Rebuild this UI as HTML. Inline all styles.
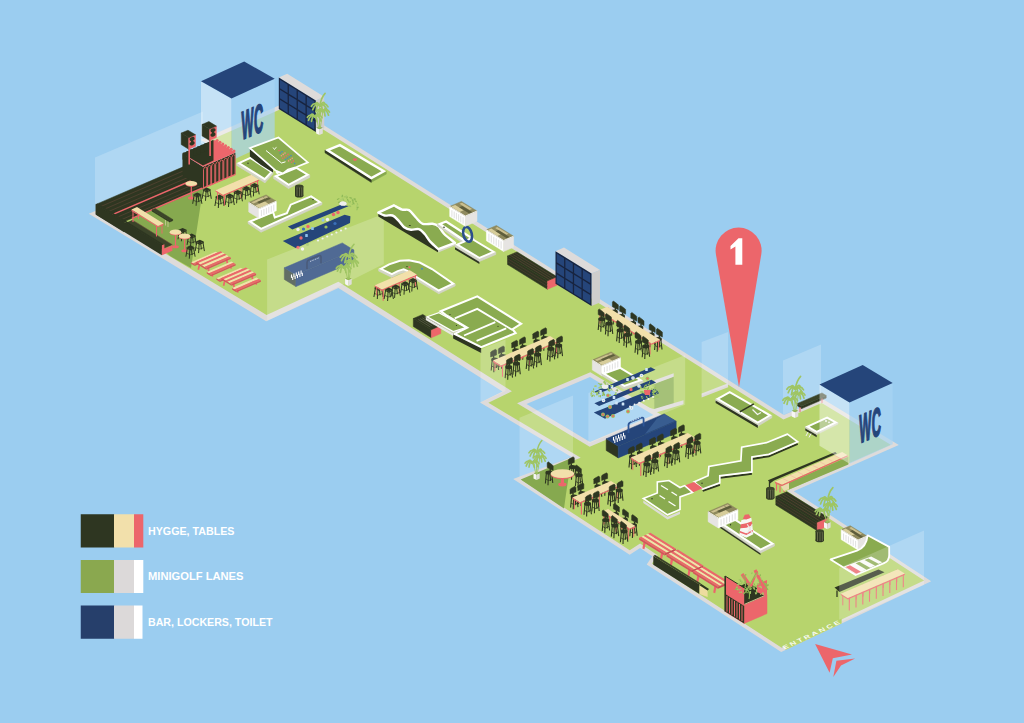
<!DOCTYPE html>
<html><head><meta charset="utf-8"><title>Minigolf venue map</title>
<style>
html,body{margin:0;padding:0;background:#9bcdf0;}
body{width:1024px;height:723px;overflow:hidden;font-family:"Liberation Sans",sans-serif;}
svg{display:block;}
</style></head><body>
<svg width="1024" height="723" viewBox="0 0 1024 723">
<rect width="1024" height="723" fill="#9bcdf0"/>
<polygon points="88.8,213.8 225.0,155.0 200.7,140.0 287.0,102.0 783.8,415.0 822.0,398.5 898.8,445.0 793.8,491.2 931.2,581.2 781.2,652.0 646.7,564.5 652.3,556.2 640.1,548.1 629.7,554.7 513.2,479.1 571.5,457.0 480.0,402.5 502.5,391.4 338.4,288.0 266.2,321.2" fill="#dedbda" />
<polygon points="99.3,213.6 233.6,155.6 209.3,140.6 286.7,106.5 783.4,419.5 821.7,403.0 890.7,444.8 786.6,490.7 924.1,580.6 781.7,647.8 652.0,563.4 657.6,555.2 640.1,543.6 629.7,550.2 521.8,480.1 580.7,457.8 488.4,402.8 511.9,391.2 338.4,281.8 266.6,314.9" fill="#b7d46d" />
<polygon points="526.5,404.0 590.0,377.0 653.5,415.0 590.0,442.0" fill="#9bcdf0" stroke="#dedbda" stroke-width="8.6" paint-order="stroke" stroke-linejoin="miter"/>
<polygon points="131.0,217.5 203.0,186.5 200.4,206.0 196.0,235.0 191.0,268.0 170.0,256.0 160.0,246.0" fill="#86a94f" />
<polygon points="95.0,213.0 203.0,166.5 203.0,111.5 95.0,157.5" fill="#ffffff" fill-opacity="0.2"/>
<polygon points="201.0,143.2 231.5,160.4 231.5,98.4 201.0,81.2" fill="#ffffff" fill-opacity="0.42"/>
<polygon points="231.5,160.4 274.7,140.8 274.7,78.8 231.5,98.4" fill="#a8d4f3" fill-opacity="0.68"/>
<polygon points="201.0,81.2 231.5,98.4 274.7,78.8 244.2,61.5" fill="#25457a" />
<text transform="matrix(0.32,-0.138,0,1,241.5,140.0)" font-family="Liberation Sans, sans-serif" font-weight="bold" font-size="40" fill="#25457a" stroke="#25457a" stroke-width="1.3" vector-effect="non-scaling-stroke" letter-spacing="1">WC</text>
<polygon points="278.8,77.5 315.8,100.4 324.2,96.8 287.2,73.8" fill="#dedbda" />
<polygon points="315.8,131.9 324.2,128.3 324.2,96.8 315.8,100.4" fill="#cfcecc" />
<polygon points="278.8,109.0 315.8,131.9 315.8,100.4 278.8,77.5" fill="#18243f" />
<polygon points="279.9,108.1 287.6,112.9 287.6,104.5 279.9,99.8" fill="#25457a" />
<polygon points="279.9,98.2 287.6,102.9 287.6,94.6 279.9,89.8" fill="#25457a" />
<polygon points="279.9,88.2 287.6,93.0 287.6,84.6 279.9,79.8" fill="#25457a" />
<polygon points="288.9,113.7 296.6,118.4 296.6,110.1 288.9,105.3" fill="#25457a" />
<polygon points="288.9,103.7 296.6,108.5 296.6,100.1 288.9,95.4" fill="#25457a" />
<polygon points="288.9,93.8 296.6,98.5 296.6,90.1 288.9,85.4" fill="#25457a" />
<polygon points="297.9,119.2 305.5,124.0 305.5,115.6 297.9,110.9" fill="#25457a" />
<polygon points="297.9,109.3 305.5,114.0 305.5,105.7 297.9,100.9" fill="#25457a" />
<polygon points="297.9,99.3 305.5,104.1 305.5,95.7 297.9,90.9" fill="#25457a" />
<polygon points="306.8,124.8 314.4,129.5 314.4,121.2 306.8,116.4" fill="#25457a" />
<polygon points="306.8,114.8 314.4,119.6 314.4,111.2 306.8,106.5" fill="#25457a" />
<polygon points="306.8,104.9 314.4,109.6 314.4,101.2 306.8,96.5" fill="#25457a" />
<polygon points="316.2,127.8 319.5,129.2 319.5,135.0 316.2,133.4" fill="#f6f6f4" />
<polygon points="319.5,129.2 322.8,127.8 322.8,133.4 319.5,135.0" fill="#dfdeda" />
<polygon points="316.2,127.8 319.5,126.4 322.8,127.8 319.5,129.2" fill="#8aab50" />
<path d="M319.5 128.0 Q319.0 116.0 319.9 105.9" fill="none" stroke="#9fc563" stroke-width="1.0" stroke-linecap="round"/>
<path d="M320.3 128.0 Q321.7 119.0 322.9 111.4" fill="none" stroke="#9fc563" stroke-width="0.9" stroke-linecap="round"/>
<path d="M318.7 128.0 Q318.0 122.0 314.9 116.9" fill="none" stroke="#9fc563" stroke-width="0.9" stroke-linecap="round"/>
<path d="M319.9 105.9 Q314.4 101.3 311.4 106.3" fill="none" stroke="#9fc563" stroke-width="1.7" stroke-linecap="round"/>
<path d="M319.9 105.9 Q315.2 102.0 312.7 109.7" fill="none" stroke="#9fc563" stroke-width="1.7" stroke-linecap="round"/>
<path d="M319.9 105.9 Q317.1 100.8 315.6 103.8" fill="none" stroke="#9fc563" stroke-width="1.7" stroke-linecap="round"/>
<path d="M319.9 105.9 Q322.9 100.7 324.6 103.4" fill="none" stroke="#9fc563" stroke-width="1.7" stroke-linecap="round"/>
<path d="M319.9 105.9 Q325.1 101.4 328.0 106.8" fill="none" stroke="#9fc563" stroke-width="1.7" stroke-linecap="round"/>
<path d="M319.9 105.9 Q324.3 102.2 326.7 110.6" fill="none" stroke="#9fc563" stroke-width="1.7" stroke-linecap="round"/>
<path d="M319.9 105.9 Q317.4 102.2 316.1 111.0" fill="none" stroke="#9fc563" stroke-width="1.7" stroke-linecap="round"/>
<path d="M319.9 105.9 Q321.6 102.3 322.4 111.4" fill="none" stroke="#9fc563" stroke-width="1.7" stroke-linecap="round"/>
<path d="M319.9 105.9 Q320.9 97.9 325.1 93.4" fill="none" stroke="#9fc563" stroke-width="1.6" stroke-linecap="round"/>
<path d="M322.9 111.4 Q318.3 107.6 315.9 111.8" fill="none" stroke="#9fc563" stroke-width="1.7" stroke-linecap="round"/>
<path d="M322.9 111.4 Q319.0 108.2 316.9 114.6" fill="none" stroke="#9fc563" stroke-width="1.7" stroke-linecap="round"/>
<path d="M322.9 111.4 Q320.6 107.2 319.4 109.7" fill="none" stroke="#9fc563" stroke-width="1.7" stroke-linecap="round"/>
<path d="M322.9 111.4 Q325.4 107.1 326.8 109.3" fill="none" stroke="#9fc563" stroke-width="1.7" stroke-linecap="round"/>
<path d="M322.9 111.4 Q327.2 107.7 329.5 112.1" fill="none" stroke="#9fc563" stroke-width="1.7" stroke-linecap="round"/>
<path d="M322.9 111.4 Q326.5 108.3 328.5 115.2" fill="none" stroke="#9fc563" stroke-width="1.7" stroke-linecap="round"/>
<path d="M322.9 111.4 Q320.9 108.4 319.8 115.6" fill="none" stroke="#9fc563" stroke-width="1.7" stroke-linecap="round"/>
<path d="M322.9 111.4 Q324.3 108.5 325.0 116.0" fill="none" stroke="#9fc563" stroke-width="1.7" stroke-linecap="round"/>
<path d="M314.9 116.9 Q310.0 112.9 307.4 117.3" fill="none" stroke="#9fc563" stroke-width="1.7" stroke-linecap="round"/>
<path d="M314.9 116.9 Q310.8 113.5 308.5 120.3" fill="none" stroke="#9fc563" stroke-width="1.7" stroke-linecap="round"/>
<path d="M314.9 116.9 Q312.5 112.4 311.1 115.0" fill="none" stroke="#9fc563" stroke-width="1.7" stroke-linecap="round"/>
<path d="M314.9 116.9 Q317.6 112.3 319.0 114.7" fill="none" stroke="#9fc563" stroke-width="1.7" stroke-linecap="round"/>
<path d="M314.9 116.9 Q319.5 112.9 322.0 117.7" fill="none" stroke="#9fc563" stroke-width="1.7" stroke-linecap="round"/>
<path d="M314.9 116.9 Q318.8 113.6 320.9 121.0" fill="none" stroke="#9fc563" stroke-width="1.7" stroke-linecap="round"/>
<path d="M314.9 116.9 Q312.7 113.7 311.5 121.4" fill="none" stroke="#9fc563" stroke-width="1.7" stroke-linecap="round"/>
<path d="M314.9 116.9 Q316.4 113.8 317.1 121.8" fill="none" stroke="#9fc563" stroke-width="1.7" stroke-linecap="round"/>
<polygon points="95.9,214.4 123.9,231.8 123.9,221.8 95.9,204.4" fill="#2e3621" stroke="#2e3621" stroke-width="0.5" stroke-linejoin="round"/>
<polygon points="95.9,204.4 123.9,221.8 219.9,180.5 191.9,163.1" fill="#2e3621" stroke="#2e3621" stroke-width="0.5" stroke-linejoin="round"/>
<polyline points="99.9,206.9 195.1,165.9" fill="none" stroke="#6b4a3d" stroke-width="0.5" />
<polyline points="103.9,209.4 198.3,168.8" fill="none" stroke="#6b4a3d" stroke-width="0.5" />
<polyline points="107.9,211.8 201.5,171.6" fill="none" stroke="#6b4a3d" stroke-width="0.5" />
<polyline points="112.4,214.6 205.1,174.8" fill="none" stroke="#ec666b" stroke-width="1.5" />
<polyline points="116.9,217.4 208.7,177.9" fill="none" stroke="#6b4a3d" stroke-width="0.5" />
<polyline points="120.9,219.9 211.9,180.8" fill="none" stroke="#6b4a3d" stroke-width="0.5" />
<polyline points="131.9,218.3 227.9,177.0" fill="none" stroke="#ec666b" stroke-width="1.4" />
<polygon points="121.9,224.5 161.9,249.3 172.4,244.8 132.4,220.0" fill="#3b4429" />
<polyline points="132.4,220.0 172.4,244.8" fill="none" stroke="#6b4a3d" stroke-width="0.6" />
<polygon points="95.9,214.4 161.9,255.3 161.9,245.3 95.9,204.4" fill="#2e3621" />
<polygon points="95.9,204.4 161.9,245.3 163.9,244.5 97.9,203.5" fill="#2e3621" />
<polygon points="161.9,255.3 172.4,250.8 172.4,245.3 164.4,248.7 164.4,244.2 161.9,245.3" fill="#ec666b" />
<polygon points="182.5,175.5 203.0,188.2 203.0,166.7 182.5,154.0" fill="#2e3621" />
<polygon points="203.0,188.2 235.4,174.3 235.4,152.8 203.0,166.7" fill="#2e3621" />
<polygon points="182.5,154.0 203.0,166.7 235.4,152.8 214.9,140.1" fill="#ec666b" />
<polygon points="182.5,153.6 213.5,139.8 213.5,160.6 203.0,165.6" fill="#2e3621" />
<rect x="182.5" y="152.4" width="3.8" height="8" rx="1.4" fill="#2e3621"/>
<rect x="186.1" y="150.9" width="3.8" height="8" rx="1.4" fill="#2e3621"/>
<rect x="189.6" y="149.3" width="3.8" height="8" rx="1.4" fill="#2e3621"/>
<rect x="193.2" y="147.8" width="3.8" height="8" rx="1.4" fill="#2e3621"/>
<rect x="196.8" y="146.3" width="3.8" height="8" rx="1.4" fill="#2e3621"/>
<rect x="200.4" y="144.7" width="3.8" height="8" rx="1.4" fill="#2e3621"/>
<rect x="203.9" y="143.2" width="3.8" height="8" rx="1.4" fill="#2e3621"/>
<circle cx="217.2" cy="140.6" r="1.5" fill="#ec666b"/>
<circle cx="220.0" cy="142.3" r="1.5" fill="#ec666b"/>
<circle cx="222.8" cy="144.1" r="1.5" fill="#ec666b"/>
<circle cx="225.6" cy="145.8" r="1.5" fill="#ec666b"/>
<circle cx="228.4" cy="147.5" r="1.5" fill="#ec666b"/>
<circle cx="231.2" cy="149.3" r="1.5" fill="#ec666b"/>
<circle cx="234.0" cy="151.0" r="1.5" fill="#ec666b"/>
<path d="M203.5 188.0 L203.5 169.5 Q205.1 165.0 206.8 168.1 L206.8 186.6" fill="none" stroke="#ec666b" stroke-width="0.9"/>
<path d="M207.6 186.3 L207.6 167.8 Q209.2 163.3 210.8 166.4 L210.8 184.9" fill="none" stroke="#ec666b" stroke-width="0.9"/>
<path d="M211.6 184.5 L211.6 166.0 Q213.2 161.5 214.8 164.6 L214.8 183.1" fill="none" stroke="#ec666b" stroke-width="0.9"/>
<path d="M215.7 182.8 L215.7 164.3 Q217.3 159.8 218.9 162.9 L218.9 181.4" fill="none" stroke="#ec666b" stroke-width="0.9"/>
<path d="M219.7 181.0 L219.7 162.5 Q221.3 158.0 222.9 161.1 L222.9 179.6" fill="none" stroke="#ec666b" stroke-width="0.9"/>
<path d="M223.8 179.3 L223.8 160.8 Q225.4 156.3 227.0 159.4 L227.0 177.9" fill="none" stroke="#ec666b" stroke-width="0.9"/>
<path d="M227.8 177.5 L227.8 159.0 Q229.4 154.5 231.1 157.6 L231.1 176.1" fill="none" stroke="#ec666b" stroke-width="0.9"/>
<path d="M231.8 175.8 L231.8 157.3 Q233.5 152.8 235.1 155.9 L235.1 174.4" fill="none" stroke="#ec666b" stroke-width="0.9"/>
<polyline points="203.0,188.2 235.4,174.3" fill="none" stroke="#ec666b" stroke-width="1.4" />
<polyline points="189.2,146.6 189.2,164.6" fill="none" stroke="#ec666b" stroke-width="1.6" />
<polygon points="181.2,144.6 188.7,149.2 188.7,137.8 181.2,133.1" fill="#2e3621" stroke="#2e3621" stroke-width="0.5" stroke-linejoin="round"/>
<polygon points="188.7,149.2 195.5,146.3 195.5,134.8 188.7,137.8" fill="#ec666b" stroke="#ec666b" stroke-width="0.5" stroke-linejoin="round"/>
<polygon points="181.2,133.1 188.7,137.8 195.5,134.8 188.0,130.2" fill="#2e3621" stroke="#2e3621" stroke-width="0.5" stroke-linejoin="round"/>
<ellipse cx="192.1" cy="139.0" rx="2.7" ry="1.9" fill="#2e3621" transform="rotate(-23 192.1 139.0)"/>
<ellipse cx="192.1" cy="143.4" rx="2.7" ry="1.9" fill="#2e3621" transform="rotate(-23 192.1 143.4)"/>
<polyline points="192.1,139.0 192.1,143.4" fill="none" stroke="#2e3621" stroke-width="2.2" />
<polyline points="210.1,137.9 210.1,155.9" fill="none" stroke="#ec666b" stroke-width="1.6" />
<polygon points="202.1,135.9 209.6,140.6 209.6,129.1 202.1,124.4" fill="#2e3621" stroke="#2e3621" stroke-width="0.5" stroke-linejoin="round"/>
<polygon points="209.6,140.6 216.4,137.6 216.4,126.1 209.6,129.1" fill="#ec666b" stroke="#ec666b" stroke-width="0.5" stroke-linejoin="round"/>
<polygon points="202.1,124.4 209.6,129.1 216.4,126.1 208.9,121.5" fill="#2e3621" stroke="#2e3621" stroke-width="0.5" stroke-linejoin="round"/>
<ellipse cx="213.0" cy="130.3" rx="2.7" ry="1.9" fill="#2e3621" transform="rotate(-23 213.0 130.3)"/>
<ellipse cx="213.0" cy="134.7" rx="2.7" ry="1.9" fill="#2e3621" transform="rotate(-23 213.0 134.7)"/>
<polyline points="213.0,130.3 213.0,134.7" fill="none" stroke="#2e3621" stroke-width="2.2" />
<polygon points="152.0,211.2 169.5,222.0 169.5,220.7 152.0,209.9" fill="#2e3621" stroke="#2e3621" stroke-width="0.5" stroke-linejoin="round"/>
<polygon points="169.5,222.0 172.7,220.7 172.7,219.4 169.5,220.7" fill="#2e3621" stroke="#2e3621" stroke-width="0.5" stroke-linejoin="round"/>
<polygon points="152.0,209.9 169.5,220.7 172.7,219.4 155.2,208.5" fill="#3b4429" stroke="#3b4429" stroke-width="0.5" stroke-linejoin="round"/>
<polyline points="165.5,220.0 165.5,225.5" fill="none" stroke="#c9cf9b" stroke-width="0.8" />
<polyline points="168.0,221.5 168.0,227.0" fill="none" stroke="#c9cf9b" stroke-width="0.8" />
<polyline points="133.0,210.4 133.0,221.9" fill="none" stroke="#ec666b" stroke-width="1.1" />
<polyline points="138.5,208.1 138.5,219.1" fill="none" stroke="#ec666b" stroke-width="0.9" />
<polyline points="156.5,225.0 156.5,236.5" fill="none" stroke="#ec666b" stroke-width="1.1" />
<polyline points="162.0,222.6 162.0,233.6" fill="none" stroke="#ec666b" stroke-width="0.9" />
<polygon points="131.5,209.5 158.0,225.9 163.5,223.6 163.5,225.0 158.0,227.3 131.5,210.9" fill="#ec666b" />
<polygon points="131.5,209.5 158.0,225.9 163.5,223.6 137.0,207.1" fill="#f2e0ab" />
<polyline points="191.3,183.5 191.3,198.0" fill="none" stroke="#ec666b" stroke-width="1.2" />
<ellipse cx="191.3" cy="198.0" rx="3.3" ry="1.5" fill="#ec666b"/>
<ellipse cx="191.3" cy="184.2" rx="5.8" ry="2.7" fill="#ec666b"/>
<ellipse cx="191.3" cy="183.5" rx="5.8" ry="2.6" fill="#f2e0ab"/>
<polygon points="193.3,194.3 197.3,192.4 201.3,194.3 197.3,196.2" fill="#2e3621" />
<polygon points="193.3,194.3 197.3,196.2 201.3,194.3 201.3,195.6 197.3,197.5 193.3,195.6" fill="#2e3621" />
<polyline points="194.1,195.3 192.7,203.8" fill="none" stroke="#2e3621" stroke-width="1.0" />
<polyline points="200.5,195.3 201.9,203.8" fill="none" stroke="#2e3621" stroke-width="1.0" />
<polyline points="196.7,195.3 196.1,205.8" fill="none" stroke="#2e3621" stroke-width="1.0" />
<polyline points="198.1,195.3 198.9,202.1" fill="none" stroke="#2e3621" stroke-width="1.0" />
<polyline points="193.3,200.3 197.3,201.8 201.3,200.3" fill="none" stroke="#2e3621" stroke-width="0.7" />
<polygon points="202.7,189.3 206.7,187.4 210.7,189.3 206.7,191.2" fill="#2e3621" />
<polygon points="202.7,189.3 206.7,191.2 210.7,189.3 210.7,190.6 206.7,192.5 202.7,190.6" fill="#2e3621" />
<polyline points="203.5,190.3 202.1,198.8" fill="none" stroke="#2e3621" stroke-width="1.0" />
<polyline points="209.9,190.3 211.3,198.8" fill="none" stroke="#2e3621" stroke-width="1.0" />
<polyline points="206.1,190.3 205.5,200.8" fill="none" stroke="#2e3621" stroke-width="1.0" />
<polyline points="207.5,190.3 208.3,197.1" fill="none" stroke="#2e3621" stroke-width="1.0" />
<polyline points="202.7,195.3 206.7,196.8 210.7,195.3" fill="none" stroke="#2e3621" stroke-width="0.7" />
<polygon points="215.5,196.5 219.5,194.6 223.5,196.5 219.5,198.4" fill="#2e3621" />
<polygon points="215.5,196.5 219.5,198.4 223.5,196.5 223.5,197.8 219.5,199.7 215.5,197.8" fill="#2e3621" />
<polyline points="216.3,197.5 214.9,206.0" fill="none" stroke="#2e3621" stroke-width="1.0" />
<polyline points="222.7,197.5 224.1,206.0" fill="none" stroke="#2e3621" stroke-width="1.0" />
<polyline points="218.9,197.5 218.3,208.0" fill="none" stroke="#2e3621" stroke-width="1.0" />
<polyline points="220.3,197.5 221.1,204.3" fill="none" stroke="#2e3621" stroke-width="1.0" />
<polyline points="215.5,202.5 219.5,204.0 223.5,202.5" fill="none" stroke="#2e3621" stroke-width="0.7" />
<polyline points="224.5,194.2 224.5,205.7" fill="none" stroke="#ec666b" stroke-width="1.1" />
<polyline points="217.5,189.3 217.5,200.3" fill="none" stroke="#ec666b" stroke-width="0.9" />
<polyline points="241.0,187.1 241.0,198.6" fill="none" stroke="#ec666b" stroke-width="1.1" />
<polyline points="234.0,182.2 234.0,193.2" fill="none" stroke="#ec666b" stroke-width="0.9" />
<polyline points="257.5,180.0 257.5,191.5" fill="none" stroke="#ec666b" stroke-width="1.1" />
<polyline points="250.5,175.1 250.5,186.1" fill="none" stroke="#ec666b" stroke-width="0.9" />
<polygon points="215.5,190.2 223.0,194.8 259.0,179.4 259.0,180.8 223.0,196.2 215.5,191.6" fill="#ec666b" />
<polygon points="215.5,190.2 223.0,194.8 259.0,179.4 251.5,174.7" fill="#f2e0ab" />
<polygon points="225.7,195.5 229.7,193.6 233.7,195.5 229.7,197.4" fill="#2e3621" />
<polygon points="225.7,195.5 229.7,197.4 233.7,195.5 233.7,196.8 229.7,198.7 225.7,196.8" fill="#2e3621" />
<polyline points="226.5,196.5 225.1,205.0" fill="none" stroke="#2e3621" stroke-width="1.0" />
<polyline points="232.9,196.5 234.3,205.0" fill="none" stroke="#2e3621" stroke-width="1.0" />
<polyline points="229.1,196.5 228.5,207.0" fill="none" stroke="#2e3621" stroke-width="1.0" />
<polyline points="230.5,196.5 231.3,203.3" fill="none" stroke="#2e3621" stroke-width="1.0" />
<polyline points="225.7,201.5 229.7,203.0 233.7,201.5" fill="none" stroke="#2e3621" stroke-width="0.7" />
<polygon points="233.8,191.8 237.8,189.9 241.8,191.8 237.8,193.7" fill="#2e3621" />
<polygon points="233.8,191.8 237.8,193.7 241.8,191.8 241.8,193.1 237.8,195.0 233.8,193.1" fill="#2e3621" />
<polyline points="234.6,192.8 233.2,201.3" fill="none" stroke="#2e3621" stroke-width="1.0" />
<polyline points="241.0,192.8 242.4,201.3" fill="none" stroke="#2e3621" stroke-width="1.0" />
<polyline points="237.2,192.8 236.6,203.3" fill="none" stroke="#2e3621" stroke-width="1.0" />
<polyline points="238.6,192.8 239.4,199.6" fill="none" stroke="#2e3621" stroke-width="1.0" />
<polyline points="233.8,197.8 237.8,199.3 241.8,197.8" fill="none" stroke="#2e3621" stroke-width="0.7" />
<polygon points="242.5,188.0 246.5,186.1 250.5,188.0 246.5,189.9" fill="#2e3621" />
<polygon points="242.5,188.0 246.5,189.9 250.5,188.0 250.5,189.3 246.5,191.2 242.5,189.3" fill="#2e3621" />
<polyline points="243.3,189.0 241.9,197.5" fill="none" stroke="#2e3621" stroke-width="1.0" />
<polyline points="249.7,189.0 251.1,197.5" fill="none" stroke="#2e3621" stroke-width="1.0" />
<polyline points="245.9,189.0 245.3,199.5" fill="none" stroke="#2e3621" stroke-width="1.0" />
<polyline points="247.3,189.0 248.1,195.8" fill="none" stroke="#2e3621" stroke-width="1.0" />
<polyline points="242.5,194.0 246.5,195.5 250.5,194.0" fill="none" stroke="#2e3621" stroke-width="0.7" />
<polygon points="250.6,184.9 254.6,183.0 258.6,184.9 254.6,186.8" fill="#2e3621" />
<polygon points="250.6,184.9 254.6,186.8 258.6,184.9 258.6,186.2 254.6,188.1 250.6,186.2" fill="#2e3621" />
<polyline points="251.4,185.9 250.0,194.4" fill="none" stroke="#2e3621" stroke-width="1.0" />
<polyline points="257.8,185.9 259.2,194.4" fill="none" stroke="#2e3621" stroke-width="1.0" />
<polyline points="254.0,185.9 253.4,196.4" fill="none" stroke="#2e3621" stroke-width="1.0" />
<polyline points="255.4,185.9 256.2,192.7" fill="none" stroke="#2e3621" stroke-width="1.0" />
<polyline points="250.6,190.9 254.6,192.4 258.6,190.9" fill="none" stroke="#2e3621" stroke-width="0.7" />
<polygon points="178.6,229.8 182.6,227.9 186.6,229.8 182.6,231.7" fill="#2e3621" />
<polygon points="178.6,229.8 182.6,231.7 186.6,229.8 186.6,231.1 182.6,233.0 178.6,231.1" fill="#2e3621" />
<polyline points="179.4,230.8 178.0,239.3" fill="none" stroke="#2e3621" stroke-width="1.0" />
<polyline points="185.8,230.8 187.2,239.3" fill="none" stroke="#2e3621" stroke-width="1.0" />
<polyline points="182.0,230.8 181.4,241.3" fill="none" stroke="#2e3621" stroke-width="1.0" />
<polyline points="183.4,230.8 184.2,237.6" fill="none" stroke="#2e3621" stroke-width="1.0" />
<polyline points="178.6,235.8 182.6,237.3 186.6,235.8" fill="none" stroke="#2e3621" stroke-width="0.7" />
<polyline points="175.5,232.2 175.5,246.7" fill="none" stroke="#ec666b" stroke-width="1.2" />
<ellipse cx="175.5" cy="246.7" rx="3.3" ry="1.5" fill="#ec666b"/>
<ellipse cx="175.5" cy="232.9" rx="5.8" ry="2.7" fill="#ec666b"/>
<ellipse cx="175.5" cy="232.2" rx="5.8" ry="2.6" fill="#f2e0ab"/>
<polygon points="187.7,235.4 191.7,233.5 195.7,235.4 191.7,237.3" fill="#2e3621" />
<polygon points="187.7,235.4 191.7,237.3 195.7,235.4 195.7,236.7 191.7,238.6 187.7,236.7" fill="#2e3621" />
<polyline points="188.5,236.4 187.1,244.9" fill="none" stroke="#2e3621" stroke-width="1.0" />
<polyline points="194.9,236.4 196.3,244.9" fill="none" stroke="#2e3621" stroke-width="1.0" />
<polyline points="191.1,236.4 190.5,246.9" fill="none" stroke="#2e3621" stroke-width="1.0" />
<polyline points="192.5,236.4 193.3,243.2" fill="none" stroke="#2e3621" stroke-width="1.0" />
<polyline points="187.7,241.4 191.7,242.9 195.7,241.4" fill="none" stroke="#2e3621" stroke-width="0.7" />
<polyline points="184.6,236.2 184.6,250.7" fill="none" stroke="#ec666b" stroke-width="1.2" />
<ellipse cx="184.6" cy="250.7" rx="3.3" ry="1.5" fill="#ec666b"/>
<ellipse cx="184.6" cy="236.9" rx="5.8" ry="2.7" fill="#ec666b"/>
<ellipse cx="184.6" cy="236.2" rx="5.8" ry="2.6" fill="#f2e0ab"/>
<polygon points="195.8,241.6 199.8,239.7 203.8,241.6 199.8,243.5" fill="#2e3621" />
<polygon points="195.8,241.6 199.8,243.5 203.8,241.6 203.8,242.9 199.8,244.8 195.8,242.9" fill="#2e3621" />
<polyline points="196.6,242.6 195.2,251.1" fill="none" stroke="#2e3621" stroke-width="1.0" />
<polyline points="203.0,242.6 204.4,251.1" fill="none" stroke="#2e3621" stroke-width="1.0" />
<polyline points="199.2,242.6 198.6,253.1" fill="none" stroke="#2e3621" stroke-width="1.0" />
<polyline points="200.6,242.6 201.4,249.4" fill="none" stroke="#2e3621" stroke-width="1.0" />
<polyline points="195.8,247.6 199.8,249.1 203.8,247.6" fill="none" stroke="#2e3621" stroke-width="0.7" />
<polygon points="186.5,247.2 190.5,245.3 194.5,247.2 190.5,249.1" fill="#2e3621" />
<polygon points="186.5,247.2 190.5,249.1 194.5,247.2 194.5,248.5 190.5,250.4 186.5,248.5" fill="#2e3621" />
<polyline points="187.3,248.2 185.9,256.7" fill="none" stroke="#2e3621" stroke-width="1.0" />
<polyline points="193.7,248.2 195.1,256.7" fill="none" stroke="#2e3621" stroke-width="1.0" />
<polyline points="189.9,248.2 189.3,258.7" fill="none" stroke="#2e3621" stroke-width="1.0" />
<polyline points="191.3,248.2 192.1,255.0" fill="none" stroke="#2e3621" stroke-width="1.0" />
<polyline points="186.5,253.2 190.5,254.7 194.5,253.2" fill="none" stroke="#2e3621" stroke-width="0.7" />
<polygon points="191.1,262.2 192.9,263.4 217.4,252.8 215.6,251.7" fill="#f2e0ab" />
<polygon points="192.9,263.4 194.7,264.5 219.2,253.9 217.4,252.8" fill="#ec666b" />
<polygon points="194.7,264.5 219.2,253.9 219.2,255.4 194.7,266.0" fill="#d4555b" />
<polygon points="191.1,262.2 194.7,264.5 194.7,266.0 191.1,263.8" fill="#d4555b" />
<polyline points="200.1,261.7 198.3,269.7" fill="none" stroke="#ec666b" stroke-width="1.7" />
<polyline points="208.1,266.6 209.3,274.6" fill="none" stroke="#ec666b" stroke-width="1.7" />
<polyline points="212.1,272.1 212.6,276.6" fill="none" stroke="#ec666b" stroke-width="1.3" />
<polyline points="218.6,253.7 216.8,261.7" fill="none" stroke="#ec666b" stroke-width="1.7" />
<polyline points="226.6,258.7 227.8,266.7" fill="none" stroke="#ec666b" stroke-width="1.7" />
<polyline points="230.6,264.2 231.1,268.7" fill="none" stroke="#ec666b" stroke-width="1.3" />
<polygon points="196.1,261.9 198.1,263.1 222.6,252.6 220.6,251.3" fill="#ec666b" />
<polygon points="198.1,263.1 200.2,264.4 224.7,253.8 222.6,252.6" fill="#f2e0ab" />
<polygon points="200.2,264.4 202.2,265.6 226.7,255.1 224.7,253.8" fill="#ec666b" />
<polygon points="202.2,265.6 204.3,266.9 228.8,256.4 226.7,255.1" fill="#f2e0ab" />
<polygon points="204.3,266.9 206.3,268.2 230.8,257.6 228.8,256.4" fill="#ec666b" />
<polygon points="206.3,268.2 230.8,257.6 230.8,259.1 206.3,269.7" fill="#d4555b" />
<polygon points="196.1,261.9 206.3,268.2 206.3,269.7 196.1,263.4" fill="#d4555b" />
<polygon points="206.8,272.0 208.9,273.3 233.4,262.8 231.3,261.4" fill="#f2e0ab" />
<polygon points="208.9,273.3 211.1,274.7 235.6,264.1 233.4,262.8" fill="#ec666b" />
<polygon points="211.1,274.7 235.6,264.1 235.6,265.6 211.1,276.2" fill="#d4555b" />
<polygon points="206.8,272.0 211.1,274.7 211.1,276.2 206.8,273.5" fill="#d4555b" />
<polygon points="216.4,278.3 218.2,279.5 242.7,268.9 240.9,267.8" fill="#f2e0ab" />
<polygon points="218.2,279.5 220.0,280.6 244.5,270.0 242.7,268.9" fill="#ec666b" />
<polygon points="220.0,280.6 244.5,270.0 244.5,271.5 220.0,282.1" fill="#d4555b" />
<polygon points="216.4,278.3 220.0,280.6 220.0,282.1 216.4,279.8" fill="#d4555b" />
<polyline points="225.4,277.8 223.6,285.8" fill="none" stroke="#ec666b" stroke-width="1.7" />
<polyline points="233.4,282.7 234.6,290.7" fill="none" stroke="#ec666b" stroke-width="1.7" />
<polyline points="237.4,288.2 237.9,292.7" fill="none" stroke="#ec666b" stroke-width="1.3" />
<polyline points="243.9,269.8 242.1,277.8" fill="none" stroke="#ec666b" stroke-width="1.7" />
<polyline points="251.9,274.8 253.1,282.8" fill="none" stroke="#ec666b" stroke-width="1.7" />
<polyline points="255.9,280.3 256.4,284.8" fill="none" stroke="#ec666b" stroke-width="1.3" />
<polygon points="221.4,277.9 223.4,279.2 247.9,268.7 245.9,267.4" fill="#ec666b" />
<polygon points="223.4,279.2 225.5,280.5 250.0,269.9 247.9,268.7" fill="#f2e0ab" />
<polygon points="225.5,280.5 227.5,281.7 252.0,271.2 250.0,269.9" fill="#ec666b" />
<polygon points="227.5,281.7 229.6,283.0 254.1,272.5 252.0,271.2" fill="#f2e0ab" />
<polygon points="229.6,283.0 231.6,284.3 256.1,273.7 254.1,272.5" fill="#ec666b" />
<polygon points="231.6,284.3 256.1,273.7 256.1,275.2 231.6,285.8" fill="#d4555b" />
<polygon points="221.4,277.9 231.6,284.3 231.6,285.8 221.4,279.4" fill="#d4555b" />
<polygon points="232.1,288.1 234.2,289.4 258.8,278.9 256.6,277.5" fill="#f2e0ab" />
<polygon points="234.2,289.4 236.4,290.8 260.9,280.2 258.8,278.9" fill="#ec666b" />
<polygon points="236.4,290.8 260.9,280.2 260.9,281.7 236.4,292.2" fill="#d4555b" />
<polygon points="232.1,288.1 236.4,290.8 236.4,292.2 232.1,289.6" fill="#d4555b" />
<polygon points="273.0,171.7 264.9,180.4 264.9,182.8 273.0,174.1" fill="#d3d4c8" stroke="#d3d4c8" stroke-width="0.6" stroke-linejoin="round"/>
<polygon points="264.9,180.4 236.8,163.0 236.8,165.4 264.9,182.8" fill="#d3d4c8" stroke="#d3d4c8" stroke-width="0.6" stroke-linejoin="round"/>
<polygon points="238.9,163.1 250.4,157.9 271.5,171.9 264.7,179.1" fill="#8aab50" stroke="#ffffff" stroke-width="2.0" stroke-linejoin="miter"/>
<polygon points="309.7,174.8 288.5,186.0 288.5,188.6 309.7,177.4" fill="#d3d4c8" stroke="#d3d4c8" stroke-width="0.6" stroke-linejoin="round"/>
<polygon points="288.5,186.0 273.6,176.0 273.6,178.6 288.5,188.6" fill="#d3d4c8" stroke="#d3d4c8" stroke-width="0.6" stroke-linejoin="round"/>
<polygon points="275.7,176.2 296.5,167.8 307.7,174.7 288.6,184.8" fill="#8aab50" stroke="#ffffff" stroke-width="2.0" stroke-linejoin="miter"/>
<polygon points="249.9,149.0 273.0,168.6 273.0,172.5 261.0,165.0 249.9,156.5" fill="#2e3621" />
<polygon points="249.9,148.0 278.5,137.5 307.8,162.4 296.5,167.0 288.0,169.5 283.0,173.5 275.5,170.5" fill="#8aab50" stroke="#ffffff" stroke-width="1.7" stroke-linejoin="miter"/>
<polyline points="266.0,150.5 281.5,163.0 285.5,161.8" fill="none" stroke="#ffffff" stroke-width="1.0" />
<path d="M273 147.5 l1.5 2 l2 -2.6" fill="none" stroke="#ffffff" stroke-width="0.8"/>
<circle cx="279.0" cy="150.5" r="0.8" fill="#ec666b"/>
<circle cx="280.2" cy="153.1" r="0.8" fill="#4a86c8"/>
<circle cx="281.4" cy="155.7" r="0.8" fill="#f29a8a"/>
<circle cx="282.6" cy="158.3" r="0.8" fill="#ec666b"/>
<circle cx="282.0" cy="151.8" r="0.8" fill="#4a86c8"/>
<circle cx="283.2" cy="154.4" r="0.8" fill="#f29a8a"/>
<circle cx="284.4" cy="157.0" r="0.8" fill="#ec666b"/>
<circle cx="285.6" cy="159.6" r="0.8" fill="#4a86c8"/>
<circle cx="285.0" cy="153.1" r="0.8" fill="#f29a8a"/>
<circle cx="286.2" cy="155.7" r="0.8" fill="#ec666b"/>
<circle cx="287.4" cy="158.3" r="0.8" fill="#4a86c8"/>
<circle cx="288.6" cy="160.9" r="0.8" fill="#f29a8a"/>
<circle cx="288.0" cy="154.4" r="0.8" fill="#ec666b"/>
<circle cx="289.2" cy="157.0" r="0.8" fill="#4a86c8"/>
<circle cx="290.4" cy="159.6" r="0.8" fill="#f29a8a"/>
<circle cx="291.6" cy="162.2" r="0.8" fill="#ec666b"/>
<circle cx="291.0" cy="155.7" r="0.8" fill="#4a86c8"/>
<circle cx="292.2" cy="158.3" r="0.8" fill="#f29a8a"/>
<circle cx="293.4" cy="160.9" r="0.8" fill="#ec666b"/>
<circle cx="294.6" cy="163.5" r="0.8" fill="#4a86c8"/>
<circle cx="248" cy="163.3" r="0.7" fill="#2e3621"/>
<circle cx="277.5" cy="172.3" r="1.6" fill="#ffffff"/>
<polygon points="386.2,171.2 371.2,179.5 371.2,182.3 386.2,174.1" fill="#86a94f" stroke="#86a94f" stroke-width="0.6" stroke-linejoin="round"/>
<polygon points="371.2,179.5 325.0,150.0 325.0,152.8 371.2,182.3" fill="#2e3621" stroke="#2e3621" stroke-width="0.6" stroke-linejoin="round"/>
<polygon points="327.6,150.2 339.9,145.1 383.8,171.2 371.3,178.1" fill="#8aab50" stroke="#ffffff" stroke-width="2.4" stroke-linejoin="miter"/>
<ellipse cx="355" cy="159.6" rx="2" ry="1.3" fill="#ec666b"/>
<polygon points="322.0,202.4 261.0,230.0 261.0,232.2 322.0,204.6" fill="#d3d4c8" stroke="#d3d4c8" stroke-width="0.6" stroke-linejoin="round"/>
<polygon points="261.0,230.0 248.0,221.3 248.0,223.5 261.0,232.2" fill="#d3d4c8" stroke="#d3d4c8" stroke-width="0.6" stroke-linejoin="round"/>
<polygon points="250.1,221.5 273.1,212.0 274.8,217.5 286.9,213.1 290.7,204.7 311.1,196.3 319.9,202.2 261.1,228.9" fill="#8aab50" stroke="#ffffff" stroke-width="2.0" stroke-linejoin="miter"/>
<circle cx="313" cy="199.5" r="0.7" fill="#2e3621"/>
<polygon points="248.7,212.0 258.9,218.3 258.9,208.7 248.7,202.4" fill="#e6e4e2" stroke="#e6e4e2" stroke-width="0.5" stroke-linejoin="round"/>
<polygon points="258.9,218.3 276.3,210.8 276.3,201.2 258.9,208.7" fill="#ffffff" stroke="#ffffff" stroke-width="0.5" stroke-linejoin="round"/>
<polygon points="248.7,202.4 258.9,208.7 276.3,201.2 266.1,194.9" fill="#8f8a5e" stroke="#8f8a5e" stroke-width="0.5" stroke-linejoin="round"/>
<polyline points="261.4,216.1 261.4,210.1" fill="none" stroke="#d2d2d2" stroke-width="0.7" />
<polyline points="263.9,215.0 263.9,209.0" fill="none" stroke="#d2d2d2" stroke-width="0.7" />
<polyline points="266.4,213.9 266.4,207.9" fill="none" stroke="#d2d2d2" stroke-width="0.7" />
<polyline points="268.8,212.8 268.8,206.8" fill="none" stroke="#d2d2d2" stroke-width="0.7" />
<polyline points="271.3,211.8 271.3,205.8" fill="none" stroke="#d2d2d2" stroke-width="0.7" />
<polyline points="273.8,210.7 273.8,204.7" fill="none" stroke="#d2d2d2" stroke-width="0.7" />
<polygon points="255.2,205.5 264.8,201.4 268.8,203.9 259.3,208.0" fill="#e4d8a5" fill-opacity="0.85"/>
<polygon points="251.3,202.2 262.6,197.3 264.8,198.7 253.5,203.5" fill="#d9cd9b" fill-opacity="0.8"/>
<polygon points="257.0,202.1 268.3,197.2 270.8,198.8 259.5,203.6" fill="#4d4f32" fill-opacity="0.75"/>
<polygon points="263.3,197.2 266.2,195.9 268.3,197.2 265.3,198.5" fill="#d9cd9b" fill-opacity="0.7"/>
<polyline points="248.7,202.4 258.9,208.7 276.3,201.2" fill="none" stroke="#ffffff" stroke-width="0.8" />
<ellipse cx="299.2" cy="195.5" rx="4.2" ry="2" fill="#2e3621"/>
<rect x="295.0" y="186.5" width="8.4" height="9" fill="#2e3621"/>
<ellipse cx="299.2" cy="186.5" rx="4.2" ry="2" fill="#3b4429"/>
<polyline points="297.0,187.5 297.0,196.3" fill="none" stroke="#8d8f6a" stroke-width="0.6" />
<polyline points="299.5,187.5 299.5,196.3" fill="none" stroke="#8d8f6a" stroke-width="0.6" />
<polyline points="301.8,187.5 301.8,196.3" fill="none" stroke="#8d8f6a" stroke-width="0.6" />
<polygon points="287.9,226.6 340.2,205.1 348.9,206.0 292.3,229.5" fill="#25457a" />
<polygon points="282.8,241.0 344.6,214.7 350.4,216.2 350.0,223.0 296.0,248.3" fill="#25457a" />
<circle cx="298.0" cy="229.5" r="1.7" fill="#f0f0ee"/>
<circle cx="303.5" cy="229.0" r="1.6" fill="#3a6fb8"/>
<circle cx="308.0" cy="226.5" r="1.7" fill="#ec666b"/>
<rect x="311.2" y="227.0" width="2.6" height="3" rx="0.6" fill="#8fc0ea"/>
<rect x="321.7" y="218.5" width="2.6" height="3" rx="0.6" fill="#8fc0ea"/>
<circle cx="327.5" cy="219.5" r="1.7" fill="#f0f0ee"/>
<circle cx="333.5" cy="214.5" r="1.7" fill="#ec666b"/>
<circle cx="338.0" cy="212.5" r="1.7" fill="#ec666b"/>
<circle cx="301.0" cy="238.0" r="1.7" fill="#ec666b"/>
<rect x="305.2" y="234.0" width="2.6" height="3" rx="0.6" fill="#8fc0ea"/>
<circle cx="326.0" cy="227.0" r="1.6" fill="#9cc25e"/>
<circle cx="335.0" cy="223.5" r="1.6" fill="#3a6fb8"/>
<circle cx="298.0" cy="247.5" r="1.7" fill="#ec666b"/>
<circle cx="302.5" cy="249.0" r="1.7" fill="#f0f0ee"/>
<circle cx="307.5" cy="244.5" r="1.6" fill="#9cc25e"/>
<circle cx="318.0" cy="240.5" r="1.1" fill="#eef0ea"/>
<circle cx="322.6" cy="238.5" r="1.1" fill="#eef0ea"/>
<circle cx="327.2" cy="236.5" r="1.1" fill="#eef0ea"/>
<circle cx="331.8" cy="234.5" r="1.1" fill="#eef0ea"/>
<circle cx="336.4" cy="232.5" r="1.1" fill="#eef0ea"/>
<circle cx="341.0" cy="230.5" r="1.1" fill="#eef0ea"/>
<circle cx="345.6" cy="228.5" r="1.1" fill="#eef0ea"/>
<ellipse cx="343" cy="203.5" rx="3.6" ry="2" fill="#f0f0ee"/>
<ellipse cx="351.9" cy="198.7" rx="1.5" ry="0.5" fill="#a9cc6e" transform="rotate(78 351.9 198.7)"/>
<ellipse cx="339.8" cy="201.9" rx="1.0" ry="0.6" fill="#8fb955" transform="rotate(3 339.8 201.9)"/>
<ellipse cx="346.0" cy="202.7" rx="0.9" ry="0.5" fill="#a9cc6e" transform="rotate(127 346.0 202.7)"/>
<ellipse cx="340.0" cy="201.9" rx="1.4" ry="0.6" fill="#9fc563" transform="rotate(52 340.0 201.9)"/>
<ellipse cx="346.3" cy="196.3" rx="1.4" ry="0.7" fill="#a9cc6e" transform="rotate(92 346.3 196.3)"/>
<ellipse cx="338.2" cy="199.0" rx="1.6" ry="0.6" fill="#8fb955" transform="rotate(146 338.2 199.0)"/>
<ellipse cx="349.7" cy="201.9" rx="1.4" ry="0.7" fill="#8fb955" transform="rotate(172 349.7 201.9)"/>
<ellipse cx="342.9" cy="198.4" rx="1.0" ry="0.6" fill="#a9cc6e" transform="rotate(50 342.9 198.4)"/>
<ellipse cx="343.0" cy="199.2" rx="1.2" ry="0.7" fill="#a9cc6e" transform="rotate(71 343.0 199.2)"/>
<ellipse cx="347.0" cy="197.5" rx="1.2" ry="0.6" fill="#8fb955" transform="rotate(116 347.0 197.5)"/>
<ellipse cx="341.1" cy="199.5" rx="1.0" ry="0.7" fill="#a9cc6e" transform="rotate(126 341.1 199.5)"/>
<ellipse cx="345.4" cy="202.9" rx="1.5" ry="0.7" fill="#8fb955" transform="rotate(42 345.4 202.9)"/>
<ellipse cx="343.6" cy="200.0" rx="1.3" ry="0.6" fill="#9fc563" transform="rotate(57 343.6 200.0)"/>
<ellipse cx="342.0" cy="195.9" rx="1.5" ry="0.8" fill="#a9cc6e" transform="rotate(113 342.0 195.9)"/>
<ellipse cx="345.0" cy="196.9" rx="1.6" ry="0.6" fill="#9fc563" transform="rotate(9 345.0 196.9)"/>
<ellipse cx="349.9" cy="201.7" rx="1.0" ry="0.8" fill="#8fb955" transform="rotate(55 349.9 201.7)"/>
<ellipse cx="350.0" cy="202.2" rx="1.4" ry="0.7" fill="#a9cc6e" transform="rotate(61 350.0 202.2)"/>
<ellipse cx="344.9" cy="202.4" rx="1.5" ry="0.6" fill="#8fb955" transform="rotate(168 344.9 202.4)"/>
<ellipse cx="350.6" cy="197.9" rx="1.5" ry="0.7" fill="#8fb955" transform="rotate(17 350.6 197.9)"/>
<ellipse cx="342.4" cy="196.1" rx="1.3" ry="0.6" fill="#8fb955" transform="rotate(108 342.4 196.1)"/>
<ellipse cx="339.1" cy="202.6" rx="1.3" ry="0.7" fill="#8fb955" transform="rotate(27 339.1 202.6)"/>
<ellipse cx="347.9" cy="200.3" rx="1.6" ry="0.7" fill="#8fb955" transform="rotate(63 347.9 200.3)"/>
<ellipse cx="353.9" cy="199.5" rx="1.0" ry="0.8" fill="#9fc563" transform="rotate(43 353.9 199.5)"/>
<ellipse cx="354.3" cy="203.5" rx="1.4" ry="0.5" fill="#a9cc6e" transform="rotate(72 354.3 203.5)"/>
<ellipse cx="354.3" cy="199.6" rx="1.2" ry="0.8" fill="#a9cc6e" transform="rotate(29 354.3 199.6)"/>
<ellipse cx="357.0" cy="206.0" rx="1.2" ry="0.8" fill="#a9cc6e" transform="rotate(77 357.0 206.0)"/>
<ellipse cx="350.0" cy="206.3" rx="1.4" ry="0.6" fill="#a9cc6e" transform="rotate(40 350.0 206.3)"/>
<ellipse cx="352.9" cy="199.8" rx="1.0" ry="0.7" fill="#a9cc6e" transform="rotate(8 352.9 199.8)"/>
<ellipse cx="357.5" cy="204.0" rx="1.5" ry="0.5" fill="#9fc563" transform="rotate(62 357.5 204.0)"/>
<ellipse cx="352.7" cy="200.6" rx="1.5" ry="0.8" fill="#8fb955" transform="rotate(68 352.7 200.6)"/>
<ellipse cx="352.6" cy="204.3" rx="1.0" ry="0.7" fill="#9fc563" transform="rotate(167 352.6 204.3)"/>
<ellipse cx="357.2" cy="209.1" rx="1.4" ry="0.8" fill="#9fc563" transform="rotate(121 357.2 209.1)"/>
<ellipse cx="350.0" cy="206.1" rx="1.4" ry="0.7" fill="#9fc563" transform="rotate(21 350.0 206.1)"/>
<ellipse cx="353.3" cy="203.0" rx="1.4" ry="0.7" fill="#8fb955" transform="rotate(52 353.3 203.0)"/>
<ellipse cx="355.9" cy="201.3" rx="1.2" ry="0.7" fill="#8fb955" transform="rotate(47 355.9 201.3)"/>
<ellipse cx="354.8" cy="199.1" rx="1.1" ry="0.8" fill="#8fb955" transform="rotate(8 354.8 199.1)"/>
<ellipse cx="358.1" cy="207.4" rx="1.1" ry="0.6" fill="#9fc563" transform="rotate(9 358.1 207.4)"/>
<ellipse cx="357.5" cy="207.5" rx="1.2" ry="0.6" fill="#8fb955" transform="rotate(147 357.5 207.5)"/>
<ellipse cx="343" cy="203.5" rx="3.6" ry="2" fill="#f0f0ee"/>
<polygon points="284.3,279.4 295.9,286.6 295.9,275.0 284.3,267.8" fill="#3b4a3f" stroke="#3b4a3f" stroke-width="0.5" stroke-linejoin="round"/>
<polygon points="295.9,286.6 353.9,261.7 353.9,250.1 295.9,275.0" fill="#25457a" stroke="#25457a" stroke-width="0.5" stroke-linejoin="round"/>
<polygon points="284.3,267.8 295.9,275.0 353.9,250.1 342.3,242.9" fill="#25457a" stroke="#25457a" stroke-width="0.5" stroke-linejoin="round"/>
<path d="M307 269 v-6.5 q0 -2 2.5 -3 l9 -3.8 q2.5 -0.8 2.5 1.5 v6" fill="none" stroke="#1d3259" stroke-width="1.6"/>
<polyline points="310.0,261.5 319.0,257.8" fill="none" stroke="#c9d5e6" stroke-width="0.9" stroke-dasharray="1 0.8"/>
<polyline points="291.5,274.5 291.5,277.9" fill="none" stroke="#ffffff" stroke-width="1.1" />
<polyline points="292.7,276.7 292.7,280.1" fill="none" stroke="#ffffff" stroke-width="1.1" />
<polyline points="293.9,273.5 293.9,276.9" fill="none" stroke="#ffffff" stroke-width="1.1" />
<polyline points="295.1,275.7 295.1,279.1" fill="none" stroke="#ffffff" stroke-width="1.1" />
<polyline points="296.3,272.5 296.3,275.9" fill="none" stroke="#ffffff" stroke-width="1.1" />
<polyline points="297.5,274.7 297.5,278.1" fill="none" stroke="#ffffff" stroke-width="1.1" />
<polyline points="298.7,271.5 298.7,274.9" fill="none" stroke="#ffffff" stroke-width="1.1" />
<polyline points="299.9,273.7 299.9,277.1" fill="none" stroke="#ffffff" stroke-width="1.1" />
<polyline points="301.1,270.5 301.1,273.9" fill="none" stroke="#ffffff" stroke-width="1.1" />
<polyline points="302.3,272.7 302.3,276.1" fill="none" stroke="#ffffff" stroke-width="1.1" />
<polygon points="267.1,321.0 338.0,287.0 383.8,264.0 383.8,213.7 267.1,259.4" fill="#ffffff" fill-opacity="0.2"/>
<polygon points="345.1,278.7 348.4,280.1 348.4,285.9 345.1,284.3" fill="#f6f6f4" />
<polygon points="348.4,280.1 351.7,278.7 351.7,284.3 348.4,285.9" fill="#dfdeda" />
<polygon points="345.1,278.7 348.4,277.3 351.7,278.7 348.4,280.1" fill="#8aab50" />
<path d="M348.4 278.9 Q347.9 266.9 348.8 256.8" fill="none" stroke="#9fc563" stroke-width="1.0" stroke-linecap="round"/>
<path d="M349.2 278.9 Q350.6 269.9 351.8 262.3" fill="none" stroke="#9fc563" stroke-width="0.9" stroke-linecap="round"/>
<path d="M347.6 278.9 Q346.9 272.9 343.8 267.8" fill="none" stroke="#9fc563" stroke-width="0.9" stroke-linecap="round"/>
<path d="M348.8 256.8 Q343.3 252.2 340.3 257.2" fill="none" stroke="#9fc563" stroke-width="1.7" stroke-linecap="round"/>
<path d="M348.8 256.8 Q344.1 252.9 341.6 260.6" fill="none" stroke="#9fc563" stroke-width="1.7" stroke-linecap="round"/>
<path d="M348.8 256.8 Q346.0 251.7 344.5 254.7" fill="none" stroke="#9fc563" stroke-width="1.7" stroke-linecap="round"/>
<path d="M348.8 256.8 Q351.8 251.6 353.5 254.2" fill="none" stroke="#9fc563" stroke-width="1.7" stroke-linecap="round"/>
<path d="M348.8 256.8 Q354.0 252.3 356.9 257.7" fill="none" stroke="#9fc563" stroke-width="1.7" stroke-linecap="round"/>
<path d="M348.8 256.8 Q353.2 253.1 355.6 261.5" fill="none" stroke="#9fc563" stroke-width="1.7" stroke-linecap="round"/>
<path d="M348.8 256.8 Q346.3 253.1 345.0 261.9" fill="none" stroke="#9fc563" stroke-width="1.7" stroke-linecap="round"/>
<path d="M348.8 256.8 Q350.5 253.2 351.3 262.3" fill="none" stroke="#9fc563" stroke-width="1.7" stroke-linecap="round"/>
<path d="M348.8 256.8 Q349.8 248.8 354.0 244.3" fill="none" stroke="#9fc563" stroke-width="1.6" stroke-linecap="round"/>
<path d="M351.8 262.3 Q347.2 258.5 344.8 262.7" fill="none" stroke="#9fc563" stroke-width="1.7" stroke-linecap="round"/>
<path d="M351.8 262.3 Q347.9 259.1 345.8 265.4" fill="none" stroke="#9fc563" stroke-width="1.7" stroke-linecap="round"/>
<path d="M351.8 262.3 Q349.5 258.1 348.3 260.6" fill="none" stroke="#9fc563" stroke-width="1.7" stroke-linecap="round"/>
<path d="M351.8 262.3 Q354.3 258.0 355.6 260.2" fill="none" stroke="#9fc563" stroke-width="1.7" stroke-linecap="round"/>
<path d="M351.8 262.3 Q356.1 258.6 358.4 263.0" fill="none" stroke="#9fc563" stroke-width="1.7" stroke-linecap="round"/>
<path d="M351.8 262.3 Q355.4 259.2 357.4 266.2" fill="none" stroke="#9fc563" stroke-width="1.7" stroke-linecap="round"/>
<path d="M351.8 262.3 Q349.8 259.3 348.6 266.5" fill="none" stroke="#9fc563" stroke-width="1.7" stroke-linecap="round"/>
<path d="M351.8 262.3 Q353.2 259.4 353.9 266.9" fill="none" stroke="#9fc563" stroke-width="1.7" stroke-linecap="round"/>
<path d="M343.8 267.8 Q338.9 263.8 336.3 268.2" fill="none" stroke="#9fc563" stroke-width="1.7" stroke-linecap="round"/>
<path d="M343.8 267.8 Q339.7 264.4 337.4 271.2" fill="none" stroke="#9fc563" stroke-width="1.7" stroke-linecap="round"/>
<path d="M343.8 267.8 Q341.4 263.3 340.0 265.9" fill="none" stroke="#9fc563" stroke-width="1.7" stroke-linecap="round"/>
<path d="M343.8 267.8 Q346.5 263.2 347.9 265.6" fill="none" stroke="#9fc563" stroke-width="1.7" stroke-linecap="round"/>
<path d="M343.8 267.8 Q348.4 263.8 350.9 268.6" fill="none" stroke="#9fc563" stroke-width="1.7" stroke-linecap="round"/>
<path d="M343.8 267.8 Q347.7 264.5 349.8 271.9" fill="none" stroke="#9fc563" stroke-width="1.7" stroke-linecap="round"/>
<path d="M343.8 267.8 Q341.6 264.6 340.4 272.3" fill="none" stroke="#9fc563" stroke-width="1.7" stroke-linecap="round"/>
<path d="M343.8 267.8 Q345.3 264.7 346.0 272.7" fill="none" stroke="#9fc563" stroke-width="1.7" stroke-linecap="round"/>
<path d="M378.3 212.6 C379.4 213.1 382.2 215.0 384.6 215.5 C387.0 216.0 390.2 214.7 392.5 215.5 C394.8 216.3 396.4 218.5 398.3 220.4 C400.2 222.3 402.1 225.6 404.2 227.2 C406.3 228.8 408.6 229.4 411.0 229.7 C413.4 230.0 416.5 228.5 418.8 229.2 C421.1 229.9 422.8 231.9 424.7 234.0 C426.6 236.1 428.2 239.4 430.5 241.9 C432.8 244.4 437.1 248.0 438.4 249.2 L437.9 252.2 L378.3 216.6 Z" fill="#2e3621"/>
<polygon points="438.4,250.0 455.0,243.5 455.0,245.6 438.4,252.6" fill="#d3d4c8" />
<path d="M393.9 205.3 C395.3 206.0 399.7 208.8 402.2 209.6 C404.7 210.4 406.7 208.8 409.0 210.1 C411.3 211.4 413.6 215.2 415.9 217.5 C418.2 219.8 419.9 222.8 422.7 223.8 C425.5 224.9 429.9 223.4 432.5 223.8 C435.1 224.2 436.4 224.6 438.4 226.2 C440.3 227.9 441.4 231.2 444.2 234.0 C447.0 236.8 453.2 241.4 455.0 242.9 L438.4 249.2 C437.1 248.0 432.8 244.4 430.5 241.9 C428.2 239.4 426.6 236.1 424.7 234.0 C422.8 231.9 421.1 229.9 418.8 229.2 C416.5 228.5 413.4 230.0 411.0 229.7 C408.6 229.4 406.3 228.8 404.2 227.2 C402.1 225.6 400.2 222.3 398.3 220.4 C396.4 218.5 394.8 216.3 392.5 215.5 C390.2 214.7 387.0 216.0 384.6 215.5 C382.2 215.0 379.4 213.1 378.3 212.6 Z" fill="#8aab50" stroke="#ffffff" stroke-width="2.4" stroke-linejoin="round"/>
<ellipse cx="409.8" cy="225.5" rx="1.1" ry="0.6" fill="#2e3621"/>
<polygon points="474.0,238.2 465.3,242.6 465.3,244.8 474.0,240.4" fill="#d3d4c8" stroke="#d3d4c8" stroke-width="0.6" stroke-linejoin="round"/>
<polygon points="465.3,242.6 437.4,223.8 437.4,226.0 465.3,244.8" fill="#d3d4c8" stroke="#d3d4c8" stroke-width="0.6" stroke-linejoin="round"/>
<polygon points="439.8,224.0 446.1,221.5 471.7,238.1 465.4,241.3" fill="#8aab50" stroke="#ffffff" stroke-width="2.3" stroke-linejoin="miter"/>
<polygon points="455.0,246.5 479.4,261.3 479.4,264.0 455.0,249.5" fill="#2e3621" />
<polygon points="495.8,252.1 479.4,259.1 479.4,261.5 495.8,254.5" fill="#d3d4c8" stroke="#d3d4c8" stroke-width="0.6" stroke-linejoin="round"/>
<polygon points="479.4,259.1 455.0,244.5 455.0,246.9 479.4,261.5" fill="#d3d4c8" stroke="#d3d4c8" stroke-width="0.6" stroke-linejoin="round"/>
<polygon points="457.2,244.6 471.3,238.5 493.6,251.9 479.5,258.0" fill="#8aab50" stroke="#ffffff" stroke-width="2.0" stroke-linejoin="miter"/>
<ellipse cx="467.6" cy="234.3" rx="4.2" ry="7.6" fill="none" stroke="#2b4f8c" stroke-width="2.6" transform="rotate(-14 467.6 234.3)"/>
<circle cx="444" cy="227.3" r="0.8" fill="#2e3621"/>
<polygon points="449.7,216.6 465.3,226.3 465.3,216.1 449.7,206.4" fill="#ffffff" stroke="#ffffff" stroke-width="0.5" stroke-linejoin="round"/>
<polygon points="465.3,226.3 477.0,221.2 477.0,211.0 465.3,216.1" fill="#e6e4e2" stroke="#e6e4e2" stroke-width="0.5" stroke-linejoin="round"/>
<polygon points="449.7,206.4 465.3,216.1 477.0,211.0 461.4,201.4" fill="#8f8a5e" stroke="#8f8a5e" stroke-width="0.5" stroke-linejoin="round"/>
<polyline points="451.9,216.8 451.9,210.2" fill="none" stroke="#d2d2d2" stroke-width="0.7" />
<polyline points="454.2,218.2 454.2,211.6" fill="none" stroke="#d2d2d2" stroke-width="0.7" />
<polyline points="456.4,219.5 456.4,212.9" fill="none" stroke="#d2d2d2" stroke-width="0.7" />
<polyline points="458.6,220.9 458.6,214.3" fill="none" stroke="#d2d2d2" stroke-width="0.7" />
<polyline points="460.8,222.3 460.8,215.7" fill="none" stroke="#d2d2d2" stroke-width="0.7" />
<polyline points="463.1,223.7 463.1,217.1" fill="none" stroke="#d2d2d2" stroke-width="0.7" />
<polygon points="451.1,206.6 459.6,212.0 463.7,210.2 455.2,204.9" fill="#e4d8a5" fill-opacity="0.85"/>
<polygon points="459.4,203.8 469.6,210.1 472.2,209.0 462.0,202.7" fill="#d9cd9b" fill-opacity="0.8"/>
<polygon points="459.1,207.3 469.2,213.6 472.5,212.2 462.3,205.9" fill="#4d4f32" fill-opacity="0.75"/>
<polyline points="449.7,206.4 465.3,216.1 477.0,211.0" fill="none" stroke="#ffffff" stroke-width="0.8" />
<polygon points="486.4,240.8 503.6,251.5 503.6,240.5 486.4,229.8" fill="#ffffff" stroke="#ffffff" stroke-width="0.5" stroke-linejoin="round"/>
<polygon points="503.6,251.5 513.6,247.2 513.6,236.2 503.6,240.5" fill="#e6e4e2" stroke="#e6e4e2" stroke-width="0.5" stroke-linejoin="round"/>
<polygon points="486.4,229.8 503.6,240.5 513.6,236.2 496.4,225.5" fill="#8f8a5e" stroke="#8f8a5e" stroke-width="0.5" stroke-linejoin="round"/>
<polyline points="488.9,241.1 488.9,233.7" fill="none" stroke="#d2d2d2" stroke-width="0.7" />
<polyline points="491.3,242.6 491.3,235.2" fill="none" stroke="#d2d2d2" stroke-width="0.7" />
<polyline points="493.8,244.2 493.8,236.8" fill="none" stroke="#d2d2d2" stroke-width="0.7" />
<polyline points="496.2,245.7 496.2,238.3" fill="none" stroke="#d2d2d2" stroke-width="0.7" />
<polyline points="498.7,247.2 498.7,239.8" fill="none" stroke="#d2d2d2" stroke-width="0.7" />
<polyline points="501.1,248.7 501.1,241.3" fill="none" stroke="#d2d2d2" stroke-width="0.7" />
<polygon points="487.8,230.1 497.2,236.0 500.7,234.5 491.3,228.6" fill="#e4d8a5" fill-opacity="0.85"/>
<polygon points="495.1,227.9 506.3,234.8 508.5,233.8 497.3,226.9" fill="#d9cd9b" fill-opacity="0.8"/>
<polygon points="495.6,231.3 506.7,238.2 509.5,237.0 498.4,230.1" fill="#4d4f32" fill-opacity="0.75"/>
<polyline points="486.4,229.8 503.6,240.5 513.6,236.2" fill="none" stroke="#ffffff" stroke-width="0.8" />
<polygon points="507.5,264.5 547.5,289.3 547.5,280.8 507.5,256.0" fill="#2e3621" stroke="#2e3621" stroke-width="0.5" stroke-linejoin="round"/>
<polygon points="547.5,289.3 557.0,285.2 557.0,276.7 547.5,280.8" fill="#ec666b" stroke="#ec666b" stroke-width="0.5" stroke-linejoin="round"/>
<polygon points="507.5,256.0 547.5,280.8 557.0,276.7 517.0,251.9" fill="#2e3621" stroke="#2e3621" stroke-width="0.5" stroke-linejoin="round"/>
<polyline points="509.9,255.0 549.9,279.8" fill="none" stroke="#6b4a3d" stroke-width="0.5" />
<polyline points="512.2,254.0 552.2,278.8" fill="none" stroke="#6b4a3d" stroke-width="0.5" />
<polyline points="514.6,252.9 554.6,277.7" fill="none" stroke="#6b4a3d" stroke-width="0.5" />
<polyline points="507.5,261.5 547.5,286.3" fill="none" stroke="#5a3f35" stroke-width="0.5" />
<polyline points="507.5,258.6 547.5,283.4" fill="none" stroke="#5a3f35" stroke-width="0.5" />
<polygon points="555.5,251.2 591.5,273.6 600.0,269.9 564.0,247.6" fill="#dedbda" />
<polygon points="591.5,306.1 600.0,302.4 600.0,269.9 591.5,273.6" fill="#cfcecc" />
<polygon points="555.5,283.8 591.5,306.1 591.5,273.6 555.5,251.2" fill="#18243f" />
<polygon points="556.7,282.9 564.1,287.5 564.1,278.8 556.7,274.2" fill="#25457a" />
<polygon points="556.7,272.6 564.1,277.2 564.1,268.5 556.7,263.9" fill="#25457a" />
<polygon points="556.7,262.3 564.1,266.9 564.1,258.2 556.7,253.6" fill="#25457a" />
<polygon points="565.4,288.3 572.8,292.9 572.8,284.2 565.4,279.6" fill="#25457a" />
<polygon points="565.4,278.0 572.8,282.6 572.8,273.9 565.4,269.3" fill="#25457a" />
<polygon points="565.4,267.7 572.8,272.3 572.8,263.6 565.4,259.0" fill="#25457a" />
<polygon points="574.1,293.7 581.5,298.3 581.5,289.6 574.1,285.0" fill="#25457a" />
<polygon points="574.1,283.4 581.5,288.0 581.5,279.3 574.1,274.7" fill="#25457a" />
<polygon points="574.1,273.1 581.5,277.7 581.5,269.0 574.1,264.4" fill="#25457a" />
<polygon points="582.8,299.1 590.2,303.7 590.2,295.0 582.8,290.4" fill="#25457a" />
<polygon points="582.8,288.8 590.2,293.4 590.2,284.7 582.8,280.1" fill="#25457a" />
<polygon points="582.8,278.5 590.2,283.1 590.2,274.4 582.8,269.8" fill="#25457a" />
<polygon points="455.2,283.8 438.8,291.6 438.8,293.8 455.2,285.9" fill="#d3d4c8" stroke="#d3d4c8" stroke-width="0.6" stroke-linejoin="round"/>
<polygon points="438.8,291.6 416.9,278.3 416.9,280.5 438.8,293.8" fill="#d3d4c8" stroke="#d3d4c8" stroke-width="0.6" stroke-linejoin="round"/>
<polygon points="416.9,278.3 409.0,272.8 409.0,275.0 416.9,280.5" fill="#d3d4c8" stroke="#d3d4c8" stroke-width="0.6" stroke-linejoin="round"/>
<polygon points="409.0,272.8 403.6,270.5 403.6,272.7 409.0,275.0" fill="#d3d4c8" stroke="#d3d4c8" stroke-width="0.6" stroke-linejoin="round"/>
<polygon points="403.6,270.5 398.1,272.0 398.1,274.2 403.6,272.7" fill="#d3d4c8" stroke="#d3d4c8" stroke-width="0.6" stroke-linejoin="round"/>
<polygon points="398.1,272.0 391.9,275.2 391.9,277.4 398.1,274.2" fill="#d3d4c8" stroke="#d3d4c8" stroke-width="0.6" stroke-linejoin="round"/>
<polygon points="391.9,275.2 378.6,268.9 378.6,271.1 391.9,277.4" fill="#d3d4c8" stroke="#d3d4c8" stroke-width="0.6" stroke-linejoin="round"/>
<polygon points="380.8,268.8 389.1,264.3 399.9,260.8 408.9,260.2 419.7,262.5 432.0,269.0 453.2,283.6 438.8,290.5 417.4,277.5 409.5,271.9 403.7,269.4 397.7,271.1 391.9,274.1" fill="#8aab50" stroke="#ffffff" stroke-width="2.0" stroke-linejoin="miter"/>
<circle cx="409.5" cy="267.2" r="1" fill="#ec666b"/><circle cx="422" cy="268.7" r="1" fill="#4a86c8"/><circle cx="407" cy="266.6" r="0.7" fill="#2e3621"/>
<polygon points="374.5,287.5 378.5,285.6 382.5,287.5 378.5,289.4" fill="#2e3621" />
<polygon points="374.5,287.5 378.5,289.4 382.5,287.5 382.5,288.8 378.5,290.7 374.5,288.8" fill="#2e3621" />
<polyline points="375.3,288.5 373.9,297.0" fill="none" stroke="#2e3621" stroke-width="1.0" />
<polyline points="381.7,288.5 383.1,297.0" fill="none" stroke="#2e3621" stroke-width="1.0" />
<polyline points="377.9,288.5 377.3,299.0" fill="none" stroke="#2e3621" stroke-width="1.0" />
<polyline points="379.3,288.5 380.1,295.3" fill="none" stroke="#2e3621" stroke-width="1.0" />
<polyline points="374.5,293.5 378.5,295.0 382.5,293.5" fill="none" stroke="#2e3621" stroke-width="0.7" />
<polyline points="383.2,289.0 383.2,300.7" fill="none" stroke="#ec666b" stroke-width="1.1" />
<polyline points="376.7,284.4 376.7,295.6" fill="none" stroke="#ec666b" stroke-width="0.9" />
<polyline points="399.2,282.1 399.2,293.8" fill="none" stroke="#ec666b" stroke-width="1.1" />
<polyline points="392.8,277.5 392.8,288.7" fill="none" stroke="#ec666b" stroke-width="0.9" />
<polyline points="415.3,275.2 415.3,286.9" fill="none" stroke="#ec666b" stroke-width="1.1" />
<polyline points="408.8,270.6 408.8,281.8" fill="none" stroke="#ec666b" stroke-width="0.9" />
<polygon points="374.7,285.3 381.7,289.6 416.8,274.5 416.8,275.9 381.7,291.0 374.7,286.7" fill="#ec666b" />
<polygon points="374.7,285.3 381.7,289.6 416.8,274.5 409.8,270.2" fill="#f2e0ab" />
<polygon points="384.8,289.5 388.8,287.6 392.8,289.5 388.8,291.4" fill="#2e3621" />
<polygon points="384.8,289.5 388.8,291.4 392.8,289.5 392.8,290.8 388.8,292.7 384.8,290.8" fill="#2e3621" />
<polyline points="385.6,290.5 384.1,299.0" fill="none" stroke="#2e3621" stroke-width="1.0" />
<polyline points="391.9,290.5 393.4,299.0" fill="none" stroke="#2e3621" stroke-width="1.0" />
<polyline points="388.1,290.5 387.6,301.0" fill="none" stroke="#2e3621" stroke-width="1.0" />
<polyline points="389.6,290.5 390.4,297.3" fill="none" stroke="#2e3621" stroke-width="1.0" />
<polyline points="384.8,295.5 388.8,297.0 392.8,295.5" fill="none" stroke="#2e3621" stroke-width="0.7" />
<polygon points="391.8,286.4 395.8,284.5 399.8,286.4 395.8,288.3" fill="#2e3621" />
<polygon points="391.8,286.4 395.8,288.3 399.8,286.4 399.8,287.7 395.8,289.6 391.8,287.7" fill="#2e3621" />
<polyline points="392.6,287.4 391.2,295.9" fill="none" stroke="#2e3621" stroke-width="1.0" />
<polyline points="399.0,287.4 400.4,295.9" fill="none" stroke="#2e3621" stroke-width="1.0" />
<polyline points="395.2,287.4 394.6,297.9" fill="none" stroke="#2e3621" stroke-width="1.0" />
<polyline points="396.6,287.4 397.4,294.2" fill="none" stroke="#2e3621" stroke-width="1.0" />
<polyline points="391.8,292.4 395.8,293.9 399.8,292.4" fill="none" stroke="#2e3621" stroke-width="0.7" />
<polygon points="401.2,283.2 405.2,281.3 409.2,283.2 405.2,285.1" fill="#2e3621" />
<polygon points="401.2,283.2 405.2,285.1 409.2,283.2 409.2,284.5 405.2,286.4 401.2,284.5" fill="#2e3621" />
<polyline points="402.0,284.2 400.6,292.7" fill="none" stroke="#2e3621" stroke-width="1.0" />
<polyline points="408.4,284.2 409.8,292.7" fill="none" stroke="#2e3621" stroke-width="1.0" />
<polyline points="404.6,284.2 404.0,294.7" fill="none" stroke="#2e3621" stroke-width="1.0" />
<polyline points="406.0,284.2 406.8,291.0" fill="none" stroke="#2e3621" stroke-width="1.0" />
<polyline points="401.2,289.2 405.2,290.7 409.2,289.2" fill="none" stroke="#2e3621" stroke-width="0.7" />
<polygon points="409.0,280.0 413.0,278.1 417.0,280.0 413.0,281.9" fill="#2e3621" />
<polygon points="409.0,280.0 413.0,281.9 417.0,280.0 417.0,281.3 413.0,283.2 409.0,281.3" fill="#2e3621" />
<polyline points="409.8,281.0 408.4,289.5" fill="none" stroke="#2e3621" stroke-width="1.0" />
<polyline points="416.2,281.0 417.6,289.5" fill="none" stroke="#2e3621" stroke-width="1.0" />
<polyline points="412.4,281.0 411.8,291.5" fill="none" stroke="#2e3621" stroke-width="1.0" />
<polyline points="413.8,281.0 414.6,287.8" fill="none" stroke="#2e3621" stroke-width="1.0" />
<polyline points="409.0,286.0 413.0,287.5 417.0,286.0" fill="none" stroke="#2e3621" stroke-width="0.7" />
<polygon points="413.3,326.5 431.3,337.7 431.3,329.7 413.3,318.5" fill="#2e3621" stroke="#2e3621" stroke-width="0.5" stroke-linejoin="round"/>
<polygon points="431.3,337.7 440.8,333.6 440.8,325.6 431.3,329.7" fill="#ec666b" stroke="#ec666b" stroke-width="0.5" stroke-linejoin="round"/>
<polygon points="413.3,318.5 431.3,329.7 440.8,325.6 422.8,314.4" fill="#2e3621" stroke="#2e3621" stroke-width="0.5" stroke-linejoin="round"/>
<polyline points="418.3,319.5 430.3,326.9" fill="none" stroke="#77785a" stroke-width="0.5" />
<polyline points="420.3,318.6 432.3,326.1" fill="none" stroke="#77785a" stroke-width="0.5" />
<polyline points="422.3,317.8 434.3,325.2" fill="none" stroke="#77785a" stroke-width="0.5" />
<polyline points="424.3,316.9 436.3,324.4" fill="none" stroke="#77785a" stroke-width="0.5" />
<polygon points="453.1,333.0 481.2,347.2 481.2,353.0 453.1,338.5" fill="#2e3621" />
<polygon points="425.8,317.5 453.1,333.2 453.1,336.0 425.8,320.0" fill="#e8e8e4" />
<polygon points="467.2,327.7 453.1,332.3 453.1,332.8 467.2,328.2" fill="#d3d4c8" stroke="#d3d4c8" stroke-width="0.6" stroke-linejoin="round"/>
<polygon points="453.1,332.3 425.8,316.7 425.8,317.2 453.1,332.8" fill="#d3d4c8" stroke="#d3d4c8" stroke-width="0.6" stroke-linejoin="round"/>
<polygon points="427.2,316.8 438.9,312.7 465.7,327.6 453.2,331.6" fill="#8aab50" stroke="#ffffff" stroke-width="1.2" stroke-linejoin="miter"/>
<polygon points="440.6,311.2 477.3,296.4 521.1,323.8 512.5,329.2 515.6,333.1 481.2,347.2 454.7,333.9 467.2,327.7 446.1,315.2" fill="#8aab50" stroke="#ffffff" stroke-width="2.1" stroke-linejoin="miter"/>
<polyline points="454.7,318.3 477.3,308.9 512.5,330.0" fill="none" stroke="#ffffff" stroke-width="1.9" />
<polyline points="464.0,335.5 495.3,322.2" fill="none" stroke="#ffffff" stroke-width="1.9" />
<polyline points="476.6,340.9 506.2,328.4" fill="none" stroke="#ffffff" stroke-width="1.9" />
<circle cx="450.0" cy="314.5" r="0.6" fill="#2e3621"/>
<circle cx="456.5" cy="325.5" r="0.6" fill="#2e3621"/>
<circle cx="498.0" cy="326.3" r="0.6" fill="#2e3621"/>
<polyline points="492.2,359.8 491.2,370.5" fill="none" stroke="#2e3621" stroke-width="1.1" />
<polyline points="497.4,359.8 498.6,370.0" fill="none" stroke="#2e3621" stroke-width="1.1" />
<polyline points="494.2,359.8 493.8,372.2" fill="none" stroke="#2e3621" stroke-width="1.1" />
<polyline points="495.6,359.8 496.4,368.0" fill="none" stroke="#2e3621" stroke-width="1.1" />
<polyline points="491.6,366.0 494.6,367.6 498.1,365.8" fill="none" stroke="#2e3621" stroke-width="0.8" />
<ellipse cx="494.8" cy="359.9" rx="3.5" ry="1.7" fill="#2e3621"/>
<ellipse cx="494.8" cy="359.0" rx="3.5" ry="1.6" fill="#2e3621"/>
<polyline points="493.6,355.8 493.6,358.6" fill="none" stroke="#2e3621" stroke-width="1.4" />
<polygon points="490.6,357.0 496.6,354.9 496.6,350.3 495.6,349.2 491.6,351.3 490.6,352.4" fill="#2e3621" stroke="#2e3621" stroke-width="0.5" stroke-linejoin="round"/>
<polyline points="500.0,356.4 499.0,367.1" fill="none" stroke="#2e3621" stroke-width="1.1" />
<polyline points="505.2,356.4 506.4,366.6" fill="none" stroke="#2e3621" stroke-width="1.1" />
<polyline points="502.0,356.4 501.6,368.8" fill="none" stroke="#2e3621" stroke-width="1.1" />
<polyline points="503.4,356.4 504.2,364.6" fill="none" stroke="#2e3621" stroke-width="1.1" />
<polyline points="499.4,362.6 502.4,364.2 505.9,362.4" fill="none" stroke="#2e3621" stroke-width="0.8" />
<ellipse cx="502.6" cy="356.5" rx="3.5" ry="1.7" fill="#2e3621"/>
<ellipse cx="502.6" cy="355.6" rx="3.5" ry="1.6" fill="#2e3621"/>
<polyline points="501.4,352.4 501.4,355.2" fill="none" stroke="#2e3621" stroke-width="1.4" />
<polygon points="498.4,353.7 504.4,351.6 504.4,347.0 503.4,345.9 499.4,348.0 498.4,349.1" fill="#2e3621" stroke="#2e3621" stroke-width="0.5" stroke-linejoin="round"/>
<polyline points="513.3,350.7 512.3,361.4" fill="none" stroke="#2e3621" stroke-width="1.1" />
<polyline points="518.5,350.7 519.7,360.9" fill="none" stroke="#2e3621" stroke-width="1.1" />
<polyline points="515.3,350.7 514.9,363.1" fill="none" stroke="#2e3621" stroke-width="1.1" />
<polyline points="516.7,350.7 517.5,358.9" fill="none" stroke="#2e3621" stroke-width="1.1" />
<polyline points="512.7,356.9 515.7,358.5 519.2,356.7" fill="none" stroke="#2e3621" stroke-width="0.8" />
<ellipse cx="515.9" cy="350.8" rx="3.5" ry="1.7" fill="#2e3621"/>
<ellipse cx="515.9" cy="349.9" rx="3.5" ry="1.6" fill="#2e3621"/>
<polyline points="514.7,346.7 514.7,349.5" fill="none" stroke="#2e3621" stroke-width="1.4" />
<polygon points="511.7,347.9 517.7,345.9 517.7,341.3 516.7,340.2 512.7,342.2 511.7,343.3" fill="#2e3621" stroke="#2e3621" stroke-width="0.5" stroke-linejoin="round"/>
<polyline points="521.1,347.4 520.1,358.1" fill="none" stroke="#2e3621" stroke-width="1.1" />
<polyline points="526.3,347.4 527.5,357.6" fill="none" stroke="#2e3621" stroke-width="1.1" />
<polyline points="523.1,347.4 522.7,359.8" fill="none" stroke="#2e3621" stroke-width="1.1" />
<polyline points="524.5,347.4 525.3,355.6" fill="none" stroke="#2e3621" stroke-width="1.1" />
<polyline points="520.5,353.6 523.5,355.2 527.0,353.4" fill="none" stroke="#2e3621" stroke-width="0.8" />
<ellipse cx="523.7" cy="347.5" rx="3.5" ry="1.7" fill="#2e3621"/>
<ellipse cx="523.7" cy="346.6" rx="3.5" ry="1.6" fill="#2e3621"/>
<polyline points="522.5,343.4 522.5,346.2" fill="none" stroke="#2e3621" stroke-width="1.4" />
<polygon points="519.5,344.6 525.5,342.5 525.5,337.9 524.5,336.8 520.5,338.9 519.5,340.0" fill="#2e3621" stroke="#2e3621" stroke-width="0.5" stroke-linejoin="round"/>
<polyline points="534.4,341.6 533.4,352.3" fill="none" stroke="#2e3621" stroke-width="1.1" />
<polyline points="539.6,341.6 540.8,351.8" fill="none" stroke="#2e3621" stroke-width="1.1" />
<polyline points="536.4,341.6 536.0,354.0" fill="none" stroke="#2e3621" stroke-width="1.1" />
<polyline points="537.8,341.6 538.6,349.8" fill="none" stroke="#2e3621" stroke-width="1.1" />
<polyline points="533.8,347.8 536.8,349.4 540.3,347.6" fill="none" stroke="#2e3621" stroke-width="0.8" />
<ellipse cx="537.0" cy="341.7" rx="3.5" ry="1.7" fill="#2e3621"/>
<ellipse cx="537.0" cy="340.8" rx="3.5" ry="1.6" fill="#2e3621"/>
<polyline points="535.8,337.6 535.8,340.4" fill="none" stroke="#2e3621" stroke-width="1.4" />
<polygon points="532.8,338.9 538.8,336.8 538.8,332.2 537.8,331.1 533.8,333.2 532.8,334.3" fill="#2e3621" stroke="#2e3621" stroke-width="0.5" stroke-linejoin="round"/>
<polyline points="542.2,338.3 541.2,349.0" fill="none" stroke="#2e3621" stroke-width="1.1" />
<polyline points="547.4,338.3 548.6,348.5" fill="none" stroke="#2e3621" stroke-width="1.1" />
<polyline points="544.2,338.3 543.8,350.7" fill="none" stroke="#2e3621" stroke-width="1.1" />
<polyline points="545.6,338.3 546.4,346.5" fill="none" stroke="#2e3621" stroke-width="1.1" />
<polyline points="541.6,344.5 544.6,346.1 548.1,344.3" fill="none" stroke="#2e3621" stroke-width="0.8" />
<ellipse cx="544.8" cy="338.4" rx="3.5" ry="1.7" fill="#2e3621"/>
<ellipse cx="544.8" cy="337.5" rx="3.5" ry="1.6" fill="#2e3621"/>
<polyline points="543.6,334.3 543.6,337.1" fill="none" stroke="#2e3621" stroke-width="1.4" />
<polygon points="540.6,335.5 546.6,333.4 546.6,328.8 545.6,327.7 541.6,329.8 540.6,330.9" fill="#2e3621" stroke="#2e3621" stroke-width="0.5" stroke-linejoin="round"/>
<polyline points="502.5,364.8 502.5,376.8" fill="none" stroke="#ec666b" stroke-width="1.1" />
<polyline points="495.0,359.6 495.0,371.1" fill="none" stroke="#ec666b" stroke-width="0.9" />
<polyline points="529.5,353.2 529.5,365.2" fill="none" stroke="#ec666b" stroke-width="1.1" />
<polyline points="522.0,348.0 522.0,359.5" fill="none" stroke="#ec666b" stroke-width="0.9" />
<polyline points="556.5,341.6 556.5,353.6" fill="none" stroke="#ec666b" stroke-width="1.1" />
<polyline points="549.0,336.4 549.0,347.9" fill="none" stroke="#ec666b" stroke-width="0.9" />
<polygon points="493.0,360.5 501.0,365.5 558.0,340.9 558.0,342.3 501.0,366.9 493.0,361.9" fill="#ec666b" />
<polygon points="493.0,360.5 501.0,365.5 558.0,340.9 550.0,336.0" fill="#f2e0ab" />
<polyline points="506.1,367.4 505.1,378.1" fill="none" stroke="#2e3621" stroke-width="1.1" />
<polyline points="511.3,367.4 512.5,377.6" fill="none" stroke="#2e3621" stroke-width="1.1" />
<polyline points="508.1,367.4 507.7,379.8" fill="none" stroke="#2e3621" stroke-width="1.1" />
<polyline points="509.5,367.4 510.3,375.6" fill="none" stroke="#2e3621" stroke-width="1.1" />
<polyline points="505.5,373.6 508.5,375.2 512.0,373.4" fill="none" stroke="#2e3621" stroke-width="0.8" />
<ellipse cx="508.7" cy="367.5" rx="3.5" ry="1.7" fill="#2e3621"/>
<ellipse cx="508.7" cy="366.6" rx="3.5" ry="1.6" fill="#2e3621"/>
<polyline points="509.5,364.0 509.5,366.8" fill="none" stroke="#2e3621" stroke-width="1.4" />
<polygon points="506.5,365.2 512.5,363.1 512.5,358.5 511.5,357.4 507.5,359.5 506.5,360.6" fill="#2e3621" stroke="#2e3621" stroke-width="0.5" stroke-linejoin="round"/>
<polyline points="513.9,364.0 512.9,374.7" fill="none" stroke="#2e3621" stroke-width="1.1" />
<polyline points="519.1,364.0 520.3,374.2" fill="none" stroke="#2e3621" stroke-width="1.1" />
<polyline points="515.9,364.0 515.5,376.4" fill="none" stroke="#2e3621" stroke-width="1.1" />
<polyline points="517.3,364.0 518.1,372.2" fill="none" stroke="#2e3621" stroke-width="1.1" />
<polyline points="513.3,370.2 516.3,371.8 519.8,370.0" fill="none" stroke="#2e3621" stroke-width="0.8" />
<ellipse cx="516.5" cy="364.1" rx="3.5" ry="1.7" fill="#2e3621"/>
<ellipse cx="516.5" cy="363.2" rx="3.5" ry="1.6" fill="#2e3621"/>
<polyline points="517.3,360.6 517.3,363.4" fill="none" stroke="#2e3621" stroke-width="1.4" />
<polygon points="514.3,361.8 520.3,359.8 520.3,355.2 519.3,354.1 515.3,356.1 514.3,357.2" fill="#2e3621" stroke="#2e3621" stroke-width="0.5" stroke-linejoin="round"/>
<polyline points="527.2,358.3 526.2,369.0" fill="none" stroke="#2e3621" stroke-width="1.1" />
<polyline points="532.4,358.3 533.6,368.5" fill="none" stroke="#2e3621" stroke-width="1.1" />
<polyline points="529.2,358.3 528.8,370.7" fill="none" stroke="#2e3621" stroke-width="1.1" />
<polyline points="530.6,358.3 531.4,366.5" fill="none" stroke="#2e3621" stroke-width="1.1" />
<polyline points="526.6,364.5 529.6,366.1 533.1,364.3" fill="none" stroke="#2e3621" stroke-width="0.8" />
<ellipse cx="529.8" cy="358.4" rx="3.5" ry="1.7" fill="#2e3621"/>
<ellipse cx="529.8" cy="357.5" rx="3.5" ry="1.6" fill="#2e3621"/>
<polyline points="530.6,354.9 530.6,357.7" fill="none" stroke="#2e3621" stroke-width="1.4" />
<polygon points="527.6,356.1 533.6,354.1 533.6,349.5 532.6,348.4 528.6,350.4 527.6,351.5" fill="#2e3621" stroke="#2e3621" stroke-width="0.5" stroke-linejoin="round"/>
<polyline points="535.0,354.9 534.0,365.6" fill="none" stroke="#2e3621" stroke-width="1.1" />
<polyline points="540.2,354.9 541.4,365.1" fill="none" stroke="#2e3621" stroke-width="1.1" />
<polyline points="537.0,354.9 536.6,367.3" fill="none" stroke="#2e3621" stroke-width="1.1" />
<polyline points="538.4,354.9 539.2,363.1" fill="none" stroke="#2e3621" stroke-width="1.1" />
<polyline points="534.4,361.1 537.4,362.7 540.9,360.9" fill="none" stroke="#2e3621" stroke-width="0.8" />
<ellipse cx="537.6" cy="355.0" rx="3.5" ry="1.7" fill="#2e3621"/>
<ellipse cx="537.6" cy="354.1" rx="3.5" ry="1.6" fill="#2e3621"/>
<polyline points="538.4,351.5 538.4,354.3" fill="none" stroke="#2e3621" stroke-width="1.4" />
<polygon points="535.4,352.8 541.4,350.7 541.4,346.1 540.4,345.0 536.4,347.1 535.4,348.2" fill="#2e3621" stroke="#2e3621" stroke-width="0.5" stroke-linejoin="round"/>
<polyline points="548.3,349.2 547.3,359.9" fill="none" stroke="#2e3621" stroke-width="1.1" />
<polyline points="553.5,349.2 554.7,359.4" fill="none" stroke="#2e3621" stroke-width="1.1" />
<polyline points="550.3,349.2 549.9,361.6" fill="none" stroke="#2e3621" stroke-width="1.1" />
<polyline points="551.7,349.2 552.5,357.4" fill="none" stroke="#2e3621" stroke-width="1.1" />
<polyline points="547.7,355.4 550.7,357.0 554.2,355.2" fill="none" stroke="#2e3621" stroke-width="0.8" />
<ellipse cx="550.9" cy="349.3" rx="3.5" ry="1.7" fill="#2e3621"/>
<ellipse cx="550.9" cy="348.4" rx="3.5" ry="1.6" fill="#2e3621"/>
<polyline points="551.7,345.8 551.7,348.6" fill="none" stroke="#2e3621" stroke-width="1.4" />
<polygon points="548.7,347.0 554.7,345.0 554.7,340.4 553.7,339.3 549.7,341.3 548.7,342.4" fill="#2e3621" stroke="#2e3621" stroke-width="0.5" stroke-linejoin="round"/>
<polyline points="556.1,345.9 555.1,356.6" fill="none" stroke="#2e3621" stroke-width="1.1" />
<polyline points="561.3,345.9 562.5,356.1" fill="none" stroke="#2e3621" stroke-width="1.1" />
<polyline points="558.1,345.9 557.7,358.3" fill="none" stroke="#2e3621" stroke-width="1.1" />
<polyline points="559.5,345.9 560.3,354.1" fill="none" stroke="#2e3621" stroke-width="1.1" />
<polyline points="555.5,352.1 558.5,353.7 562.0,351.9" fill="none" stroke="#2e3621" stroke-width="0.8" />
<ellipse cx="558.7" cy="346.0" rx="3.5" ry="1.7" fill="#2e3621"/>
<ellipse cx="558.7" cy="345.1" rx="3.5" ry="1.6" fill="#2e3621"/>
<polyline points="559.5,342.5 559.5,345.3" fill="none" stroke="#2e3621" stroke-width="1.4" />
<polygon points="556.5,343.7 562.5,341.6 562.5,337.0 561.5,335.9 557.5,338.0 556.5,339.1" fill="#2e3621" stroke="#2e3621" stroke-width="0.5" stroke-linejoin="round"/>
<polyline points="611.6,312.0 610.6,322.7" fill="none" stroke="#2e3621" stroke-width="1.1" />
<polyline points="616.8,312.0 618.0,322.2" fill="none" stroke="#2e3621" stroke-width="1.1" />
<polyline points="613.6,312.0 613.2,324.4" fill="none" stroke="#2e3621" stroke-width="1.1" />
<polyline points="615.0,312.0 615.8,320.2" fill="none" stroke="#2e3621" stroke-width="1.1" />
<polyline points="611.0,318.2 614.0,319.8 617.5,318.0" fill="none" stroke="#2e3621" stroke-width="0.8" />
<ellipse cx="614.2" cy="312.1" rx="3.5" ry="1.7" fill="#2e3621"/>
<ellipse cx="614.2" cy="311.2" rx="3.5" ry="1.6" fill="#2e3621"/>
<polyline points="615.4,308.0 615.4,310.8" fill="none" stroke="#2e3621" stroke-width="1.4" />
<polygon points="612.4,306.7 618.4,309.7 618.4,305.1 617.4,304.0 613.4,301.0 612.4,302.1" fill="#2e3621" stroke="#2e3621" stroke-width="0.5" stroke-linejoin="round"/>
<polyline points="618.8,316.5 617.8,327.2" fill="none" stroke="#2e3621" stroke-width="1.1" />
<polyline points="624.0,316.5 625.2,326.7" fill="none" stroke="#2e3621" stroke-width="1.1" />
<polyline points="620.8,316.5 620.4,328.9" fill="none" stroke="#2e3621" stroke-width="1.1" />
<polyline points="622.2,316.5 623.0,324.7" fill="none" stroke="#2e3621" stroke-width="1.1" />
<polyline points="618.2,322.7 621.2,324.3 624.7,322.5" fill="none" stroke="#2e3621" stroke-width="0.8" />
<ellipse cx="621.4" cy="316.6" rx="3.5" ry="1.7" fill="#2e3621"/>
<ellipse cx="621.4" cy="315.7" rx="3.5" ry="1.6" fill="#2e3621"/>
<polyline points="622.6,312.5 622.6,315.3" fill="none" stroke="#2e3621" stroke-width="1.4" />
<polygon points="619.6,311.2 625.6,314.1 625.6,309.5 624.6,308.4 620.6,305.5 619.6,306.6" fill="#2e3621" stroke="#2e3621" stroke-width="0.5" stroke-linejoin="round"/>
<polyline points="630.0,323.4 629.0,334.1" fill="none" stroke="#2e3621" stroke-width="1.1" />
<polyline points="635.2,323.4 636.4,333.6" fill="none" stroke="#2e3621" stroke-width="1.1" />
<polyline points="632.0,323.4 631.6,335.8" fill="none" stroke="#2e3621" stroke-width="1.1" />
<polyline points="633.4,323.4 634.2,331.6" fill="none" stroke="#2e3621" stroke-width="1.1" />
<polyline points="629.4,329.6 632.4,331.2 635.9,329.4" fill="none" stroke="#2e3621" stroke-width="0.8" />
<ellipse cx="632.6" cy="323.5" rx="3.5" ry="1.7" fill="#2e3621"/>
<ellipse cx="632.6" cy="322.6" rx="3.5" ry="1.6" fill="#2e3621"/>
<polyline points="633.8,319.4 633.8,322.2" fill="none" stroke="#2e3621" stroke-width="1.4" />
<polygon points="630.8,318.1 636.8,321.1 636.8,316.5 635.8,315.4 631.8,312.4 630.8,313.5" fill="#2e3621" stroke="#2e3621" stroke-width="0.5" stroke-linejoin="round"/>
<polyline points="637.2,327.9 636.2,338.6" fill="none" stroke="#2e3621" stroke-width="1.1" />
<polyline points="642.4,327.9 643.6,338.1" fill="none" stroke="#2e3621" stroke-width="1.1" />
<polyline points="639.2,327.9 638.8,340.3" fill="none" stroke="#2e3621" stroke-width="1.1" />
<polyline points="640.6,327.9 641.4,336.1" fill="none" stroke="#2e3621" stroke-width="1.1" />
<polyline points="636.6,334.1 639.6,335.7 643.1,333.9" fill="none" stroke="#2e3621" stroke-width="0.8" />
<ellipse cx="639.8" cy="328.0" rx="3.5" ry="1.7" fill="#2e3621"/>
<ellipse cx="639.8" cy="327.1" rx="3.5" ry="1.6" fill="#2e3621"/>
<polyline points="641.0,323.9 641.0,326.7" fill="none" stroke="#2e3621" stroke-width="1.4" />
<polygon points="638.0,322.6 644.0,325.6 644.0,321.0 643.0,319.9 639.0,316.9 638.0,318.0" fill="#2e3621" stroke="#2e3621" stroke-width="0.5" stroke-linejoin="round"/>
<polyline points="648.4,334.8 647.4,345.5" fill="none" stroke="#2e3621" stroke-width="1.1" />
<polyline points="653.6,334.8 654.8,345.0" fill="none" stroke="#2e3621" stroke-width="1.1" />
<polyline points="650.4,334.8 650.0,347.2" fill="none" stroke="#2e3621" stroke-width="1.1" />
<polyline points="651.8,334.8 652.6,343.0" fill="none" stroke="#2e3621" stroke-width="1.1" />
<polyline points="647.8,341.0 650.8,342.6 654.3,340.8" fill="none" stroke="#2e3621" stroke-width="0.8" />
<ellipse cx="651.0" cy="334.9" rx="3.5" ry="1.7" fill="#2e3621"/>
<ellipse cx="651.0" cy="334.0" rx="3.5" ry="1.6" fill="#2e3621"/>
<polyline points="652.2,330.8 652.2,333.6" fill="none" stroke="#2e3621" stroke-width="1.4" />
<polygon points="649.2,329.5 655.2,332.5 655.2,327.9 654.2,326.8 650.2,323.8 649.2,324.9" fill="#2e3621" stroke="#2e3621" stroke-width="0.5" stroke-linejoin="round"/>
<polyline points="655.6,339.3 654.6,350.0" fill="none" stroke="#2e3621" stroke-width="1.1" />
<polyline points="660.8,339.3 662.0,349.5" fill="none" stroke="#2e3621" stroke-width="1.1" />
<polyline points="657.6,339.3 657.2,351.7" fill="none" stroke="#2e3621" stroke-width="1.1" />
<polyline points="659.0,339.3 659.8,347.5" fill="none" stroke="#2e3621" stroke-width="1.1" />
<polyline points="655.0,345.5 658.0,347.1 661.5,345.3" fill="none" stroke="#2e3621" stroke-width="0.8" />
<ellipse cx="658.2" cy="339.4" rx="3.5" ry="1.7" fill="#2e3621"/>
<ellipse cx="658.2" cy="338.5" rx="3.5" ry="1.6" fill="#2e3621"/>
<polyline points="659.4,335.3 659.4,338.1" fill="none" stroke="#2e3621" stroke-width="1.4" />
<polygon points="656.4,334.0 662.4,337.0 662.4,332.4 661.4,331.3 657.4,328.3 656.4,329.4" fill="#2e3621" stroke="#2e3621" stroke-width="0.5" stroke-linejoin="round"/>
<polyline points="600.0,311.4 600.0,323.4" fill="none" stroke="#ec666b" stroke-width="1.1" />
<polyline points="608.6,307.7 608.6,319.2" fill="none" stroke="#ec666b" stroke-width="0.9" />
<polyline points="625.0,326.9 625.0,338.9" fill="none" stroke="#ec666b" stroke-width="1.1" />
<polyline points="633.6,323.2 633.6,334.7" fill="none" stroke="#ec666b" stroke-width="0.9" />
<polyline points="650.0,342.4 650.0,354.4" fill="none" stroke="#ec666b" stroke-width="1.1" />
<polyline points="658.6,338.7 658.6,350.2" fill="none" stroke="#ec666b" stroke-width="0.9" />
<polygon points="598.5,310.5 651.5,343.4 660.1,339.7 660.1,341.1 651.5,344.8 598.5,311.9" fill="#ec666b" />
<polygon points="598.5,310.5 651.5,343.4 660.1,339.7 607.1,306.8" fill="#f2e0ab" />
<polyline points="599.2,319.3 598.2,330.0" fill="none" stroke="#2e3621" stroke-width="1.1" />
<polyline points="604.4,319.3 605.6,329.5" fill="none" stroke="#2e3621" stroke-width="1.1" />
<polyline points="601.2,319.3 600.8,331.7" fill="none" stroke="#2e3621" stroke-width="1.1" />
<polyline points="602.6,319.3 603.4,327.5" fill="none" stroke="#2e3621" stroke-width="1.1" />
<polyline points="598.6,325.5 601.6,327.1 605.1,325.3" fill="none" stroke="#2e3621" stroke-width="0.8" />
<ellipse cx="601.8" cy="319.4" rx="3.5" ry="1.7" fill="#2e3621"/>
<ellipse cx="601.8" cy="318.5" rx="3.5" ry="1.6" fill="#2e3621"/>
<polyline points="601.2,315.9 601.2,318.7" fill="none" stroke="#2e3621" stroke-width="1.4" />
<polygon points="598.2,314.6 604.2,317.6 604.2,313.0 603.2,311.9 599.2,308.9 598.2,310.0" fill="#2e3621" stroke="#2e3621" stroke-width="0.5" stroke-linejoin="round"/>
<polyline points="606.4,323.8 605.4,334.5" fill="none" stroke="#2e3621" stroke-width="1.1" />
<polyline points="611.6,323.8 612.8,334.0" fill="none" stroke="#2e3621" stroke-width="1.1" />
<polyline points="608.4,323.8 608.0,336.2" fill="none" stroke="#2e3621" stroke-width="1.1" />
<polyline points="609.8,323.8 610.6,332.0" fill="none" stroke="#2e3621" stroke-width="1.1" />
<polyline points="605.8,330.0 608.8,331.6 612.3,329.8" fill="none" stroke="#2e3621" stroke-width="0.8" />
<ellipse cx="609.0" cy="323.9" rx="3.5" ry="1.7" fill="#2e3621"/>
<ellipse cx="609.0" cy="323.0" rx="3.5" ry="1.6" fill="#2e3621"/>
<polyline points="608.4,320.4 608.4,323.2" fill="none" stroke="#2e3621" stroke-width="1.4" />
<polygon points="605.4,319.1 611.4,322.0 611.4,317.4 610.4,316.3 606.4,313.4 605.4,314.5" fill="#2e3621" stroke="#2e3621" stroke-width="0.5" stroke-linejoin="round"/>
<polyline points="617.6,330.7 616.6,341.4" fill="none" stroke="#2e3621" stroke-width="1.1" />
<polyline points="622.8,330.7 624.0,340.9" fill="none" stroke="#2e3621" stroke-width="1.1" />
<polyline points="619.6,330.7 619.2,343.1" fill="none" stroke="#2e3621" stroke-width="1.1" />
<polyline points="621.0,330.7 621.8,338.9" fill="none" stroke="#2e3621" stroke-width="1.1" />
<polyline points="617.0,336.9 620.0,338.5 623.5,336.7" fill="none" stroke="#2e3621" stroke-width="0.8" />
<ellipse cx="620.2" cy="330.8" rx="3.5" ry="1.7" fill="#2e3621"/>
<ellipse cx="620.2" cy="329.9" rx="3.5" ry="1.6" fill="#2e3621"/>
<polyline points="619.6,327.3 619.6,330.1" fill="none" stroke="#2e3621" stroke-width="1.4" />
<polygon points="616.6,326.0 622.6,329.0 622.6,324.4 621.6,323.3 617.6,320.3 616.6,321.4" fill="#2e3621" stroke="#2e3621" stroke-width="0.5" stroke-linejoin="round"/>
<polyline points="624.8,335.2 623.8,345.9" fill="none" stroke="#2e3621" stroke-width="1.1" />
<polyline points="630.0,335.2 631.2,345.4" fill="none" stroke="#2e3621" stroke-width="1.1" />
<polyline points="626.8,335.2 626.4,347.6" fill="none" stroke="#2e3621" stroke-width="1.1" />
<polyline points="628.2,335.2 629.0,343.4" fill="none" stroke="#2e3621" stroke-width="1.1" />
<polyline points="624.2,341.4 627.2,343.0 630.7,341.2" fill="none" stroke="#2e3621" stroke-width="0.8" />
<ellipse cx="627.4" cy="335.3" rx="3.5" ry="1.7" fill="#2e3621"/>
<ellipse cx="627.4" cy="334.4" rx="3.5" ry="1.6" fill="#2e3621"/>
<polyline points="626.8,331.8 626.8,334.6" fill="none" stroke="#2e3621" stroke-width="1.4" />
<polygon points="623.8,330.5 629.8,333.4 629.8,328.8 628.8,327.7 624.8,324.8 623.8,325.9" fill="#2e3621" stroke="#2e3621" stroke-width="0.5" stroke-linejoin="round"/>
<polyline points="636.0,342.1 635.0,352.8" fill="none" stroke="#2e3621" stroke-width="1.1" />
<polyline points="641.2,342.1 642.4,352.3" fill="none" stroke="#2e3621" stroke-width="1.1" />
<polyline points="638.0,342.1 637.6,354.5" fill="none" stroke="#2e3621" stroke-width="1.1" />
<polyline points="639.4,342.1 640.2,350.3" fill="none" stroke="#2e3621" stroke-width="1.1" />
<polyline points="635.4,348.3 638.4,349.9 641.9,348.1" fill="none" stroke="#2e3621" stroke-width="0.8" />
<ellipse cx="638.6" cy="342.2" rx="3.5" ry="1.7" fill="#2e3621"/>
<ellipse cx="638.6" cy="341.3" rx="3.5" ry="1.6" fill="#2e3621"/>
<polyline points="638.0,338.7 638.0,341.5" fill="none" stroke="#2e3621" stroke-width="1.4" />
<polygon points="635.0,337.4 641.0,340.4 641.0,335.8 640.0,334.7 636.0,331.7 635.0,332.8" fill="#2e3621" stroke="#2e3621" stroke-width="0.5" stroke-linejoin="round"/>
<polyline points="643.2,346.6 642.2,357.3" fill="none" stroke="#2e3621" stroke-width="1.1" />
<polyline points="648.4,346.6 649.6,356.8" fill="none" stroke="#2e3621" stroke-width="1.1" />
<polyline points="645.2,346.6 644.8,359.0" fill="none" stroke="#2e3621" stroke-width="1.1" />
<polyline points="646.6,346.6 647.4,354.8" fill="none" stroke="#2e3621" stroke-width="1.1" />
<polyline points="642.6,352.8 645.6,354.4 649.1,352.6" fill="none" stroke="#2e3621" stroke-width="0.8" />
<ellipse cx="645.8" cy="346.7" rx="3.5" ry="1.7" fill="#2e3621"/>
<ellipse cx="645.8" cy="345.8" rx="3.5" ry="1.6" fill="#2e3621"/>
<polyline points="645.2,343.2 645.2,346.0" fill="none" stroke="#2e3621" stroke-width="1.4" />
<polygon points="642.2,341.9 648.2,344.9 648.2,340.3 647.2,339.2 643.2,336.2 642.2,337.3" fill="#2e3621" stroke="#2e3621" stroke-width="0.5" stroke-linejoin="round"/>
<polygon points="480.5,402.5 505.5,391.0 505.5,339.5 480.5,349.5" fill="#ffffff" fill-opacity="0.2"/>
<polygon points="519.5,477.0 573.0,456.0 573.0,395.6 519.5,417.7" fill="#ffffff" fill-opacity="0.2"/>
<polygon points="654.3,383.5 673.7,376.5 673.7,403.8 654.3,409.5" fill="#8fb257" />
<polygon points="654.3,380.3 673.7,373.2 673.7,376.8 654.3,384.0" fill="#dedbda" />
<polygon points="646.5,407.3 652.8,413.6 683.5,404.2 683.5,400.3 654.0,409.0" fill="#dedbda" />
<polygon points="588.4,443.5 685.2,404.8 685.2,355.0 588.4,393.0" fill="#ffffff" fill-opacity="0.2"/>
<polygon points="592.3,370.0 601.7,375.8 601.7,365.8 592.3,360.0" fill="#e6e4e2" stroke="#e6e4e2" stroke-width="0.5" stroke-linejoin="round"/>
<polygon points="601.7,375.8 620.5,367.7 620.5,357.7 601.7,365.8" fill="#ffffff" stroke="#ffffff" stroke-width="0.5" stroke-linejoin="round"/>
<polygon points="592.3,360.0 601.7,365.8 620.5,357.7 611.1,351.9" fill="#8f8a5e" stroke="#8f8a5e" stroke-width="0.5" stroke-linejoin="round"/>
<polyline points="604.4,373.5 604.4,367.1" fill="none" stroke="#d2d2d2" stroke-width="0.7" />
<polyline points="607.1,372.3 607.1,365.9" fill="none" stroke="#d2d2d2" stroke-width="0.7" />
<polyline points="609.8,371.2 609.8,364.8" fill="none" stroke="#d2d2d2" stroke-width="0.7" />
<polyline points="612.4,370.0 612.4,363.6" fill="none" stroke="#d2d2d2" stroke-width="0.7" />
<polyline points="615.1,368.9 615.1,362.5" fill="none" stroke="#d2d2d2" stroke-width="0.7" />
<polyline points="617.8,367.7 617.8,361.3" fill="none" stroke="#d2d2d2" stroke-width="0.7" />
<polygon points="598.4,362.8 608.7,358.4 612.5,360.7 602.2,365.1" fill="#e4d8a5" fill-opacity="0.85"/>
<polygon points="594.9,359.7 607.2,354.4 609.2,355.7 597.0,360.9" fill="#d9cd9b" fill-opacity="0.8"/>
<polygon points="600.8,359.3 613.0,354.1 615.3,355.5 603.1,360.8" fill="#4d4f32" fill-opacity="0.75"/>
<polygon points="607.9,354.3 611.1,352.9 613.0,354.1 609.8,355.4" fill="#d9cd9b" fill-opacity="0.7"/>
<polyline points="592.3,360.0 601.7,365.8 620.5,357.7" fill="none" stroke="#ffffff" stroke-width="0.8" />
<polygon points="643.0,380.5 624.2,387.0 624.2,389.2 643.0,382.7" fill="#d3d4c8" stroke="#d3d4c8" stroke-width="0.6" stroke-linejoin="round"/>
<polygon points="624.2,387.0 601.5,373.2 601.5,375.4 624.2,389.2" fill="#d3d4c8" stroke="#d3d4c8" stroke-width="0.6" stroke-linejoin="round"/>
<polygon points="603.8,373.5 620.2,367.8 640.7,380.2 624.3,385.9" fill="#8aab50" stroke="#ffffff" stroke-width="2.0" stroke-linejoin="miter"/>
<polygon points="594.4,391.4 650.8,367.3 655.5,369.7 598.5,393.8" fill="#25457a" />
<polygon points="594.4,403.2 651.4,379.7 656.1,382.6 599.1,406.1" fill="#25457a" />
<polygon points="593.8,412.6 654.3,388.5 659.0,392.0 659.0,393.3 605.0,418.7" fill="#25457a" />
<rect x="599.2" y="389.9" width="2.6" height="3.2" rx="0.6" fill="#cfe6f7"/>
<rect x="610.7" y="384.9" width="2.6" height="3.2" rx="0.6" fill="#cfe6f7"/>
<rect x="626.2" y="377.9" width="2.6" height="3.2" rx="0.6" fill="#cfe6f7"/>
<circle cx="633.0" cy="378.0" r="1.8" fill="#f4f4f2"/><circle cx="633.0" cy="378.0" r="0.8" fill="#8fc0ea"/>
<circle cx="641.5" cy="375.5" r="1.8" fill="#f4f4f2"/><circle cx="641.5" cy="375.5" r="0.8" fill="#8fc0ea"/>
<rect x="645.2" y="367.9" width="2.6" height="3.2" rx="0.6" fill="#cfe6f7"/>
<circle cx="603.5" cy="400.5" r="1.8" fill="#f4f4f2"/><circle cx="603.5" cy="400.5" r="0.8" fill="#8fc0ea"/>
<circle cx="608.0" cy="395.5" r="2" fill="#9cc25e"/><circle cx="608.0" cy="395.5" r="1.1" fill="#ec666b"/>
<rect x="612.7" y="395.9" width="2.6" height="3.2" rx="0.6" fill="#cfe6f7"/>
<rect x="629.5" y="388.0" width="3" height="3" rx="0.8" fill="#ec666b"/>
<circle cx="639.0" cy="386.0" r="1.8" fill="#f4f4f2"/><circle cx="639.0" cy="386.0" r="0.8" fill="#8fc0ea"/>
<circle cx="647.5" cy="378.5" r="2" fill="#9cc25e"/><circle cx="647.5" cy="378.5" r="1.1" fill="#ec666b"/>
<circle cx="610.0" cy="407.0" r="2" fill="#9cc25e"/><circle cx="610.0" cy="407.0" r="1.1" fill="#ec666b"/>
<rect x="615.2" y="401.4" width="2.6" height="3.2" rx="0.6" fill="#cfe6f7"/>
<rect x="621.7" y="402.4" width="2.6" height="3.2" rx="0.6" fill="#cfe6f7"/>
<circle cx="631.5" cy="408.0" r="1.8" fill="#f4f4f2"/><circle cx="631.5" cy="408.0" r="0.8" fill="#8fc0ea"/>
<circle cx="628.0" cy="411.5" r="2" fill="#9cc25e"/><circle cx="628.0" cy="411.5" r="1.1" fill="#ec666b"/>
<circle cx="603.0" cy="414.5" r="2" fill="#9cc25e"/><circle cx="603.0" cy="414.5" r="1.1" fill="#ec666b"/>
<circle cx="607.5" cy="416.5" r="2" fill="#9cc25e"/><circle cx="607.5" cy="416.5" r="1.1" fill="#ec666b"/>
<circle cx="613.0" cy="416.0" r="2" fill="#9cc25e"/><circle cx="613.0" cy="416.0" r="1.1" fill="#ec666b"/>
<ellipse cx="605" cy="386.5" rx="3.4" ry="2.2" fill="#efefed"/>
<ellipse cx="609.9" cy="395.3" rx="1.3" ry="0.6" fill="#9fc563" transform="rotate(121 609.9 395.3)"/>
<ellipse cx="607.6" cy="384.1" rx="1.3" ry="0.6" fill="#9fc563" transform="rotate(3 607.6 384.1)"/>
<ellipse cx="596.6" cy="394.5" rx="0.9" ry="0.7" fill="#9fc563" transform="rotate(59 596.6 394.5)"/>
<ellipse cx="600.8" cy="384.4" rx="1.6" ry="0.7" fill="#8fb955" transform="rotate(157 600.8 384.4)"/>
<ellipse cx="591.2" cy="394.7" rx="1.3" ry="0.7" fill="#a9cc6e" transform="rotate(94 591.2 394.7)"/>
<ellipse cx="615.9" cy="392.8" rx="1.0" ry="0.7" fill="#9fc563" transform="rotate(116 615.9 392.8)"/>
<ellipse cx="610.3" cy="395.5" rx="1.2" ry="0.5" fill="#a9cc6e" transform="rotate(9 610.3 395.5)"/>
<ellipse cx="591.5" cy="393.3" rx="1.0" ry="0.6" fill="#a9cc6e" transform="rotate(168 591.5 393.3)"/>
<ellipse cx="604.4" cy="381.6" rx="1.3" ry="0.7" fill="#9fc563" transform="rotate(143 604.4 381.6)"/>
<ellipse cx="591.4" cy="393.1" rx="1.0" ry="0.8" fill="#a9cc6e" transform="rotate(104 591.4 393.1)"/>
<ellipse cx="600.4" cy="396.2" rx="1.3" ry="0.6" fill="#8fb955" transform="rotate(98 600.4 396.2)"/>
<ellipse cx="602.7" cy="395.2" rx="1.0" ry="0.7" fill="#8fb955" transform="rotate(0 602.7 395.2)"/>
<ellipse cx="593.6" cy="391.6" rx="1.4" ry="0.6" fill="#a9cc6e" transform="rotate(81 593.6 391.6)"/>
<ellipse cx="593.6" cy="389.3" rx="1.0" ry="0.6" fill="#8fb955" transform="rotate(85 593.6 389.3)"/>
<ellipse cx="597.8" cy="394.7" rx="1.1" ry="0.5" fill="#9fc563" transform="rotate(44 597.8 394.7)"/>
<ellipse cx="605.4" cy="383.9" rx="1.4" ry="0.7" fill="#a9cc6e" transform="rotate(61 605.4 383.9)"/>
<ellipse cx="592.4" cy="395.8" rx="1.6" ry="0.7" fill="#8fb955" transform="rotate(125 592.4 395.8)"/>
<ellipse cx="592.6" cy="391.4" rx="1.6" ry="0.6" fill="#a9cc6e" transform="rotate(17 592.6 391.4)"/>
<ellipse cx="595.7" cy="392.4" rx="1.4" ry="0.5" fill="#8fb955" transform="rotate(13 595.7 392.4)"/>
<ellipse cx="610.9" cy="385.4" rx="0.9" ry="0.6" fill="#8fb955" transform="rotate(17 610.9 385.4)"/>
<ellipse cx="611.7" cy="386.1" rx="1.0" ry="0.5" fill="#a9cc6e" transform="rotate(122 611.7 386.1)"/>
<ellipse cx="609.0" cy="390.5" rx="1.4" ry="0.8" fill="#8fb955" transform="rotate(7 609.0 390.5)"/>
<ellipse cx="616.7" cy="390.0" rx="1.2" ry="0.5" fill="#8fb955" transform="rotate(153 616.7 390.0)"/>
<ellipse cx="605.4" cy="383.3" rx="1.5" ry="0.6" fill="#9fc563" transform="rotate(136 605.4 383.3)"/>
<ellipse cx="599.6" cy="388.0" rx="1.4" ry="0.6" fill="#9fc563" transform="rotate(6 599.6 388.0)"/>
<ellipse cx="603.3" cy="392.5" rx="1.1" ry="0.8" fill="#8fb955" transform="rotate(65 603.3 392.5)"/>
<ellipse cx="599.1" cy="383.7" rx="1.5" ry="0.5" fill="#9fc563" transform="rotate(24 599.1 383.7)"/>
<ellipse cx="599.2" cy="391.5" rx="1.3" ry="0.7" fill="#9fc563" transform="rotate(30 599.2 391.5)"/>
<ellipse cx="601.2" cy="386.7" rx="1.3" ry="0.6" fill="#8fb955" transform="rotate(56 601.2 386.7)"/>
<ellipse cx="599.7" cy="387.2" rx="1.5" ry="0.6" fill="#a9cc6e" transform="rotate(140 599.7 387.2)"/>
<ellipse cx="604.5" cy="382.3" rx="1.3" ry="0.7" fill="#9fc563" transform="rotate(2 604.5 382.3)"/>
<ellipse cx="594.1" cy="395.7" rx="1.2" ry="0.7" fill="#a9cc6e" transform="rotate(59 594.1 395.7)"/>
<ellipse cx="603.8" cy="394.3" rx="1.1" ry="0.5" fill="#8fb955" transform="rotate(39 603.8 394.3)"/>
<ellipse cx="599.2" cy="396.2" rx="1.1" ry="0.7" fill="#a9cc6e" transform="rotate(125 599.2 396.2)"/>
<ellipse cx="608.2" cy="388.6" rx="1.3" ry="0.7" fill="#a9cc6e" transform="rotate(82 608.2 388.6)"/>
<ellipse cx="611.6" cy="389.6" rx="1.4" ry="0.7" fill="#a9cc6e" transform="rotate(48 611.6 389.6)"/>
<ellipse cx="615.6" cy="394.4" rx="1.6" ry="0.6" fill="#8fb955" transform="rotate(168 615.6 394.4)"/>
<ellipse cx="608.6" cy="389.4" rx="1.0" ry="0.5" fill="#8fb955" transform="rotate(129 608.6 389.4)"/>
<ellipse cx="602.6" cy="387.7" rx="1.4" ry="0.6" fill="#a9cc6e" transform="rotate(131 602.6 387.7)"/>
<ellipse cx="597.2" cy="393.2" rx="1.1" ry="0.5" fill="#8fb955" transform="rotate(10 597.2 393.2)"/>
<ellipse cx="604.2" cy="394.4" rx="1.5" ry="0.7" fill="#8fb955" transform="rotate(60 604.2 394.4)"/>
<ellipse cx="597.5" cy="392.6" rx="1.1" ry="0.8" fill="#a9cc6e" transform="rotate(21 597.5 392.6)"/>
<ellipse cx="609.7" cy="390.5" rx="1.2" ry="0.7" fill="#9fc563" transform="rotate(115 609.7 390.5)"/>
<ellipse cx="595.5" cy="386.1" rx="1.4" ry="0.8" fill="#a9cc6e" transform="rotate(174 595.5 386.1)"/>
<ellipse cx="603.3" cy="393.4" rx="1.2" ry="0.6" fill="#8fb955" transform="rotate(134 603.3 393.4)"/>
<ellipse cx="617.6" cy="390.7" rx="0.9" ry="0.6" fill="#8fb955" transform="rotate(100 617.6 390.7)"/>
<ellipse cx="605" cy="386.8" rx="3.2" ry="2" fill="#efefed"/>
<polygon points="644.0,390.0 650.6,390.0 649.6,395.0 645.0,395.0" fill="#ec666b" />
<ellipse cx="653.5" cy="390.7" rx="0.9" ry="0.8" fill="#9fc563" transform="rotate(179 653.5 390.7)"/>
<ellipse cx="656.3" cy="396.7" rx="1.1" ry="0.8" fill="#9fc563" transform="rotate(68 656.3 396.7)"/>
<ellipse cx="655.8" cy="391.3" rx="1.3" ry="0.8" fill="#a9cc6e" transform="rotate(110 655.8 391.3)"/>
<ellipse cx="648.3" cy="388.2" rx="1.5" ry="0.7" fill="#8fb955" transform="rotate(107 648.3 388.2)"/>
<ellipse cx="653.2" cy="397.7" rx="1.3" ry="0.8" fill="#a9cc6e" transform="rotate(15 653.2 397.7)"/>
<ellipse cx="645.9" cy="385.2" rx="1.1" ry="0.8" fill="#8fb955" transform="rotate(166 645.9 385.2)"/>
<ellipse cx="642.4" cy="391.9" rx="1.1" ry="0.7" fill="#8fb955" transform="rotate(12 642.4 391.9)"/>
<ellipse cx="642.5" cy="398.2" rx="1.2" ry="0.6" fill="#8fb955" transform="rotate(132 642.5 398.2)"/>
<ellipse cx="654.8" cy="388.8" rx="1.5" ry="0.6" fill="#a9cc6e" transform="rotate(95 654.8 388.8)"/>
<ellipse cx="647.4" cy="390.9" rx="1.3" ry="0.7" fill="#a9cc6e" transform="rotate(110 647.4 390.9)"/>
<ellipse cx="649.6" cy="382.6" rx="1.2" ry="0.5" fill="#8fb955" transform="rotate(91 649.6 382.6)"/>
<ellipse cx="658.0" cy="397.1" rx="0.9" ry="0.8" fill="#9fc563" transform="rotate(131 658.0 397.1)"/>
<ellipse cx="649.1" cy="390.1" rx="1.2" ry="0.6" fill="#9fc563" transform="rotate(139 649.1 390.1)"/>
<ellipse cx="645.2" cy="393.3" rx="1.5" ry="0.7" fill="#8fb955" transform="rotate(9 645.2 393.3)"/>
<ellipse cx="653.2" cy="392.3" rx="1.4" ry="0.7" fill="#a9cc6e" transform="rotate(177 653.2 392.3)"/>
<ellipse cx="653.4" cy="393.3" rx="1.0" ry="0.5" fill="#a9cc6e" transform="rotate(117 653.4 393.3)"/>
<ellipse cx="653.2" cy="391.9" rx="1.4" ry="0.5" fill="#8fb955" transform="rotate(175 653.2 391.9)"/>
<ellipse cx="648.7" cy="384.5" rx="1.4" ry="0.7" fill="#8fb955" transform="rotate(28 648.7 384.5)"/>
<ellipse cx="653.1" cy="385.9" rx="1.6" ry="0.5" fill="#a9cc6e" transform="rotate(89 653.1 385.9)"/>
<ellipse cx="644.2" cy="388.3" rx="1.0" ry="0.7" fill="#8fb955" transform="rotate(179 644.2 388.3)"/>
<ellipse cx="648.7" cy="391.2" rx="1.6" ry="0.6" fill="#9fc563" transform="rotate(55 648.7 391.2)"/>
<ellipse cx="640.5" cy="392.0" rx="0.9" ry="0.5" fill="#9fc563" transform="rotate(148 640.5 392.0)"/>
<ellipse cx="643.4" cy="392.5" rx="1.1" ry="0.7" fill="#a9cc6e" transform="rotate(46 643.4 392.5)"/>
<ellipse cx="656.5" cy="393.7" rx="1.5" ry="0.5" fill="#9fc563" transform="rotate(125 656.5 393.7)"/>
<ellipse cx="647.2" cy="389.0" rx="1.4" ry="0.6" fill="#8fb955" transform="rotate(63 647.2 389.0)"/>
<ellipse cx="652.2" cy="389.2" rx="1.5" ry="0.8" fill="#a9cc6e" transform="rotate(40 652.2 389.2)"/>
<ellipse cx="654.3" cy="398.4" rx="1.1" ry="0.5" fill="#9fc563" transform="rotate(154 654.3 398.4)"/>
<ellipse cx="646.8" cy="397.2" rx="1.4" ry="0.6" fill="#9fc563" transform="rotate(55 646.8 397.2)"/>
<ellipse cx="640.6" cy="387.5" rx="1.5" ry="0.6" fill="#a9cc6e" transform="rotate(110 640.6 387.5)"/>
<ellipse cx="653.7" cy="394.8" rx="1.5" ry="0.7" fill="#9fc563" transform="rotate(179 653.7 394.8)"/>
<ellipse cx="641.7" cy="396.7" rx="1.0" ry="0.7" fill="#a9cc6e" transform="rotate(141 641.7 396.7)"/>
<ellipse cx="645.0" cy="388.0" rx="1.5" ry="0.6" fill="#8fb955" transform="rotate(71 645.0 388.0)"/>
<ellipse cx="641.7" cy="391.9" rx="1.5" ry="0.6" fill="#8fb955" transform="rotate(34 641.7 391.9)"/>
<ellipse cx="654.4" cy="391.2" rx="1.2" ry="0.8" fill="#9fc563" transform="rotate(99 654.4 391.2)"/>
<ellipse cx="644.4" cy="386.7" rx="1.4" ry="0.5" fill="#8fb955" transform="rotate(86 644.4 386.7)"/>
<ellipse cx="649.8" cy="395.2" rx="1.6" ry="0.5" fill="#a9cc6e" transform="rotate(92 649.8 395.2)"/>
<ellipse cx="655.4" cy="387.8" rx="1.3" ry="0.7" fill="#9fc563" transform="rotate(29 655.4 387.8)"/>
<ellipse cx="658.8" cy="391.7" rx="1.5" ry="0.7" fill="#9fc563" transform="rotate(146 658.8 391.7)"/>
<ellipse cx="653.8" cy="392.8" rx="1.3" ry="0.8" fill="#8fb955" transform="rotate(147 653.8 392.8)"/>
<ellipse cx="641.3" cy="388.3" rx="1.1" ry="0.8" fill="#a9cc6e" transform="rotate(13 641.3 388.3)"/>
<polygon points="644.0,390.0 650.6,390.0 649.6,395.0 645.0,395.0" fill="#ec666b" />
<circle cx="630.0" cy="406.5" r="1" fill="#f1f1ef"/>
<circle cx="634.6" cy="404.6" r="1" fill="#f1f1ef"/>
<circle cx="639.2" cy="402.7" r="1" fill="#f1f1ef"/>
<circle cx="643.8" cy="400.8" r="1" fill="#f1f1ef"/>
<circle cx="648.4" cy="398.9" r="1" fill="#f1f1ef"/>
<circle cx="653.0" cy="397.0" r="1" fill="#f1f1ef"/>
<polygon points="606.2,450.5 618.2,457.9 618.2,446.2 606.2,438.8" fill="#2e3621" stroke="#2e3621" stroke-width="0.5" stroke-linejoin="round"/>
<polygon points="618.2,457.9 676.2,433.0 676.2,421.3 618.2,446.2" fill="#25457a" stroke="#25457a" stroke-width="0.5" stroke-linejoin="round"/>
<polygon points="606.2,438.8 618.2,446.2 676.2,421.3 664.2,413.9" fill="#25457a" stroke="#25457a" stroke-width="0.5" stroke-linejoin="round"/>
<polygon points="657.0,418.5 664.4,414.2 675.6,420.8 645.0,434.0" fill="#3d6396" fill-opacity="0.8"/>
<path d="M628.5 433 v-8 q0 -2 2.5 -3 l10 -4.2 q2.6 -0.8 2.6 1.6 v7" fill="none" stroke="#2d5596" stroke-width="1.8"/>
<polyline points="631.5,421.5 641.5,417.3" fill="none" stroke="#dbe5f3" stroke-width="1" stroke-dasharray="1 0.8"/>
<polyline points="613.5,437.0 613.5,440.6" fill="none" stroke="#ffffff" stroke-width="1.1" />
<polyline points="614.8,439.4 614.8,443.0" fill="none" stroke="#ffffff" stroke-width="1.1" />
<polyline points="616.0,435.9 616.0,439.6" fill="none" stroke="#ffffff" stroke-width="1.1" />
<polyline points="617.3,438.3 617.3,441.9" fill="none" stroke="#ffffff" stroke-width="1.1" />
<polyline points="618.5,434.9 618.5,438.5" fill="none" stroke="#ffffff" stroke-width="1.1" />
<polyline points="619.8,437.3 619.8,440.9" fill="none" stroke="#ffffff" stroke-width="1.1" />
<polyline points="621.0,433.9 621.0,437.5" fill="none" stroke="#ffffff" stroke-width="1.1" />
<polyline points="622.3,436.2 622.3,439.9" fill="none" stroke="#ffffff" stroke-width="1.1" />
<polyline points="623.5,432.8 623.5,436.4" fill="none" stroke="#ffffff" stroke-width="1.1" />
<polyline points="624.8,435.2 624.8,438.8" fill="none" stroke="#ffffff" stroke-width="1.1" />
<polyline points="630.0,456.8 629.0,467.5" fill="none" stroke="#2e3621" stroke-width="1.1" />
<polyline points="635.2,456.8 636.4,467.0" fill="none" stroke="#2e3621" stroke-width="1.1" />
<polyline points="632.0,456.8 631.6,469.2" fill="none" stroke="#2e3621" stroke-width="1.1" />
<polyline points="633.4,456.8 634.2,465.0" fill="none" stroke="#2e3621" stroke-width="1.1" />
<polyline points="629.4,463.0 632.4,464.6 635.9,462.8" fill="none" stroke="#2e3621" stroke-width="0.8" />
<ellipse cx="632.6" cy="456.9" rx="3.5" ry="1.7" fill="#2e3621"/>
<ellipse cx="632.6" cy="456.0" rx="3.5" ry="1.6" fill="#2e3621"/>
<polyline points="631.4,452.8 631.4,455.6" fill="none" stroke="#2e3621" stroke-width="1.4" />
<polygon points="628.4,454.0 634.4,451.9 634.4,447.3 633.4,446.2 629.4,448.3 628.4,449.4" fill="#2e3621" stroke="#2e3621" stroke-width="0.5" stroke-linejoin="round"/>
<polyline points="637.8,453.4 636.8,464.1" fill="none" stroke="#2e3621" stroke-width="1.1" />
<polyline points="643.0,453.4 644.2,463.6" fill="none" stroke="#2e3621" stroke-width="1.1" />
<polyline points="639.8,453.4 639.4,465.8" fill="none" stroke="#2e3621" stroke-width="1.1" />
<polyline points="641.2,453.4 642.0,461.6" fill="none" stroke="#2e3621" stroke-width="1.1" />
<polyline points="637.2,459.6 640.2,461.2 643.7,459.4" fill="none" stroke="#2e3621" stroke-width="0.8" />
<ellipse cx="640.4" cy="453.5" rx="3.5" ry="1.7" fill="#2e3621"/>
<ellipse cx="640.4" cy="452.6" rx="3.5" ry="1.6" fill="#2e3621"/>
<polyline points="639.2,449.4 639.2,452.2" fill="none" stroke="#2e3621" stroke-width="1.4" />
<polygon points="636.2,450.7 642.2,448.6 642.2,444.0 641.2,442.9 637.2,445.0 636.2,446.1" fill="#2e3621" stroke="#2e3621" stroke-width="0.5" stroke-linejoin="round"/>
<polyline points="651.1,447.7 650.1,458.4" fill="none" stroke="#2e3621" stroke-width="1.1" />
<polyline points="656.3,447.7 657.5,457.9" fill="none" stroke="#2e3621" stroke-width="1.1" />
<polyline points="653.1,447.7 652.7,460.1" fill="none" stroke="#2e3621" stroke-width="1.1" />
<polyline points="654.5,447.7 655.3,455.9" fill="none" stroke="#2e3621" stroke-width="1.1" />
<polyline points="650.5,453.9 653.5,455.5 657.0,453.7" fill="none" stroke="#2e3621" stroke-width="0.8" />
<ellipse cx="653.7" cy="447.8" rx="3.5" ry="1.7" fill="#2e3621"/>
<ellipse cx="653.7" cy="446.9" rx="3.5" ry="1.6" fill="#2e3621"/>
<polyline points="652.5,443.7 652.5,446.5" fill="none" stroke="#2e3621" stroke-width="1.4" />
<polygon points="649.5,444.9 655.5,442.9 655.5,438.3 654.5,437.2 650.5,439.2 649.5,440.3" fill="#2e3621" stroke="#2e3621" stroke-width="0.5" stroke-linejoin="round"/>
<polyline points="658.9,444.4 657.9,455.1" fill="none" stroke="#2e3621" stroke-width="1.1" />
<polyline points="664.1,444.4 665.3,454.6" fill="none" stroke="#2e3621" stroke-width="1.1" />
<polyline points="660.9,444.4 660.5,456.8" fill="none" stroke="#2e3621" stroke-width="1.1" />
<polyline points="662.3,444.4 663.1,452.6" fill="none" stroke="#2e3621" stroke-width="1.1" />
<polyline points="658.3,450.6 661.3,452.2 664.8,450.4" fill="none" stroke="#2e3621" stroke-width="0.8" />
<ellipse cx="661.5" cy="444.5" rx="3.5" ry="1.7" fill="#2e3621"/>
<ellipse cx="661.5" cy="443.6" rx="3.5" ry="1.6" fill="#2e3621"/>
<polyline points="660.3,440.4 660.3,443.2" fill="none" stroke="#2e3621" stroke-width="1.4" />
<polygon points="657.3,441.6 663.3,439.5 663.3,434.9 662.3,433.8 658.3,435.9 657.3,437.0" fill="#2e3621" stroke="#2e3621" stroke-width="0.5" stroke-linejoin="round"/>
<polyline points="672.2,438.6 671.2,449.3" fill="none" stroke="#2e3621" stroke-width="1.1" />
<polyline points="677.4,438.6 678.6,448.8" fill="none" stroke="#2e3621" stroke-width="1.1" />
<polyline points="674.2,438.6 673.8,451.0" fill="none" stroke="#2e3621" stroke-width="1.1" />
<polyline points="675.6,438.6 676.4,446.8" fill="none" stroke="#2e3621" stroke-width="1.1" />
<polyline points="671.6,444.8 674.6,446.4 678.1,444.6" fill="none" stroke="#2e3621" stroke-width="0.8" />
<ellipse cx="674.8" cy="438.7" rx="3.5" ry="1.7" fill="#2e3621"/>
<ellipse cx="674.8" cy="437.8" rx="3.5" ry="1.6" fill="#2e3621"/>
<polyline points="673.6,434.6 673.6,437.4" fill="none" stroke="#2e3621" stroke-width="1.4" />
<polygon points="670.6,435.9 676.6,433.8 676.6,429.2 675.6,428.1 671.6,430.2 670.6,431.3" fill="#2e3621" stroke="#2e3621" stroke-width="0.5" stroke-linejoin="round"/>
<polyline points="680.0,435.3 679.0,446.0" fill="none" stroke="#2e3621" stroke-width="1.1" />
<polyline points="685.2,435.3 686.4,445.5" fill="none" stroke="#2e3621" stroke-width="1.1" />
<polyline points="682.0,435.3 681.6,447.7" fill="none" stroke="#2e3621" stroke-width="1.1" />
<polyline points="683.4,435.3 684.2,443.5" fill="none" stroke="#2e3621" stroke-width="1.1" />
<polyline points="679.4,441.5 682.4,443.1 685.9,441.3" fill="none" stroke="#2e3621" stroke-width="0.8" />
<ellipse cx="682.6" cy="435.4" rx="3.5" ry="1.7" fill="#2e3621"/>
<ellipse cx="682.6" cy="434.5" rx="3.5" ry="1.6" fill="#2e3621"/>
<polyline points="681.4,431.3 681.4,434.1" fill="none" stroke="#2e3621" stroke-width="1.4" />
<polygon points="678.4,432.5 684.4,430.4 684.4,425.8 683.4,424.7 679.4,426.8 678.4,427.9" fill="#2e3621" stroke="#2e3621" stroke-width="0.5" stroke-linejoin="round"/>
<polyline points="640.8,462.1 640.8,476.1" fill="none" stroke="#ec666b" stroke-width="1.1" />
<polyline points="632.8,456.6 632.8,470.1" fill="none" stroke="#ec666b" stroke-width="0.9" />
<polyline points="667.8,450.5 667.8,464.5" fill="none" stroke="#ec666b" stroke-width="1.1" />
<polyline points="659.8,445.0 659.8,458.5" fill="none" stroke="#ec666b" stroke-width="0.9" />
<polyline points="694.8,438.9 694.8,452.9" fill="none" stroke="#ec666b" stroke-width="1.1" />
<polyline points="686.8,433.4 686.8,446.9" fill="none" stroke="#ec666b" stroke-width="0.9" />
<polygon points="630.8,457.5 639.3,462.8 696.3,438.3 696.3,439.7 639.3,464.2 630.8,458.9" fill="#ec666b" />
<polygon points="630.8,457.5 639.3,462.8 696.3,438.3 687.8,433.0" fill="#f2e0ab" />
<polyline points="644.4,464.7 643.4,475.4" fill="none" stroke="#2e3621" stroke-width="1.1" />
<polyline points="649.6,464.7 650.8,474.9" fill="none" stroke="#2e3621" stroke-width="1.1" />
<polyline points="646.4,464.7 646.0,477.1" fill="none" stroke="#2e3621" stroke-width="1.1" />
<polyline points="647.8,464.7 648.6,472.9" fill="none" stroke="#2e3621" stroke-width="1.1" />
<polyline points="643.8,470.9 646.8,472.5 650.3,470.7" fill="none" stroke="#2e3621" stroke-width="0.8" />
<ellipse cx="647.0" cy="464.8" rx="3.5" ry="1.7" fill="#2e3621"/>
<ellipse cx="647.0" cy="463.9" rx="3.5" ry="1.6" fill="#2e3621"/>
<polyline points="647.8,461.3 647.8,464.1" fill="none" stroke="#2e3621" stroke-width="1.4" />
<polygon points="644.8,462.5 650.8,460.4 650.8,455.8 649.8,454.7 645.8,456.8 644.8,457.9" fill="#2e3621" stroke="#2e3621" stroke-width="0.5" stroke-linejoin="round"/>
<polyline points="652.2,461.3 651.2,472.0" fill="none" stroke="#2e3621" stroke-width="1.1" />
<polyline points="657.4,461.3 658.6,471.5" fill="none" stroke="#2e3621" stroke-width="1.1" />
<polyline points="654.2,461.3 653.8,473.7" fill="none" stroke="#2e3621" stroke-width="1.1" />
<polyline points="655.6,461.3 656.4,469.5" fill="none" stroke="#2e3621" stroke-width="1.1" />
<polyline points="651.6,467.5 654.6,469.1 658.1,467.3" fill="none" stroke="#2e3621" stroke-width="0.8" />
<ellipse cx="654.8" cy="461.4" rx="3.5" ry="1.7" fill="#2e3621"/>
<ellipse cx="654.8" cy="460.5" rx="3.5" ry="1.6" fill="#2e3621"/>
<polyline points="655.6,457.9 655.6,460.7" fill="none" stroke="#2e3621" stroke-width="1.4" />
<polygon points="652.6,459.1 658.6,457.1 658.6,452.5 657.6,451.4 653.6,453.4 652.6,454.5" fill="#2e3621" stroke="#2e3621" stroke-width="0.5" stroke-linejoin="round"/>
<polyline points="665.5,455.6 664.5,466.3" fill="none" stroke="#2e3621" stroke-width="1.1" />
<polyline points="670.7,455.6 671.9,465.8" fill="none" stroke="#2e3621" stroke-width="1.1" />
<polyline points="667.5,455.6 667.1,468.0" fill="none" stroke="#2e3621" stroke-width="1.1" />
<polyline points="668.9,455.6 669.7,463.8" fill="none" stroke="#2e3621" stroke-width="1.1" />
<polyline points="664.9,461.8 667.9,463.4 671.4,461.6" fill="none" stroke="#2e3621" stroke-width="0.8" />
<ellipse cx="668.1" cy="455.7" rx="3.5" ry="1.7" fill="#2e3621"/>
<ellipse cx="668.1" cy="454.8" rx="3.5" ry="1.6" fill="#2e3621"/>
<polyline points="668.9,452.2 668.9,455.0" fill="none" stroke="#2e3621" stroke-width="1.4" />
<polygon points="665.9,453.4 671.9,451.4 671.9,446.8 670.9,445.7 666.9,447.7 665.9,448.8" fill="#2e3621" stroke="#2e3621" stroke-width="0.5" stroke-linejoin="round"/>
<polyline points="673.3,452.2 672.3,462.9" fill="none" stroke="#2e3621" stroke-width="1.1" />
<polyline points="678.5,452.2 679.7,462.4" fill="none" stroke="#2e3621" stroke-width="1.1" />
<polyline points="675.3,452.2 674.9,464.6" fill="none" stroke="#2e3621" stroke-width="1.1" />
<polyline points="676.7,452.2 677.5,460.4" fill="none" stroke="#2e3621" stroke-width="1.1" />
<polyline points="672.7,458.4 675.7,460.0 679.2,458.2" fill="none" stroke="#2e3621" stroke-width="0.8" />
<ellipse cx="675.9" cy="452.3" rx="3.5" ry="1.7" fill="#2e3621"/>
<ellipse cx="675.9" cy="451.4" rx="3.5" ry="1.6" fill="#2e3621"/>
<polyline points="676.7,448.8 676.7,451.6" fill="none" stroke="#2e3621" stroke-width="1.4" />
<polygon points="673.7,450.1 679.7,448.0 679.7,443.4 678.7,442.3 674.7,444.4 673.7,445.5" fill="#2e3621" stroke="#2e3621" stroke-width="0.5" stroke-linejoin="round"/>
<polyline points="686.6,446.5 685.6,457.2" fill="none" stroke="#2e3621" stroke-width="1.1" />
<polyline points="691.8,446.5 693.0,456.7" fill="none" stroke="#2e3621" stroke-width="1.1" />
<polyline points="688.6,446.5 688.2,458.9" fill="none" stroke="#2e3621" stroke-width="1.1" />
<polyline points="690.0,446.5 690.8,454.7" fill="none" stroke="#2e3621" stroke-width="1.1" />
<polyline points="686.0,452.7 689.0,454.3 692.5,452.5" fill="none" stroke="#2e3621" stroke-width="0.8" />
<ellipse cx="689.2" cy="446.6" rx="3.5" ry="1.7" fill="#2e3621"/>
<ellipse cx="689.2" cy="445.7" rx="3.5" ry="1.6" fill="#2e3621"/>
<polyline points="690.0,443.1 690.0,445.9" fill="none" stroke="#2e3621" stroke-width="1.4" />
<polygon points="687.0,444.4 693.0,442.3 693.0,437.7 692.0,436.6 688.0,438.7 687.0,439.8" fill="#2e3621" stroke="#2e3621" stroke-width="0.5" stroke-linejoin="round"/>
<polyline points="694.4,443.2 693.4,453.9" fill="none" stroke="#2e3621" stroke-width="1.1" />
<polyline points="699.6,443.2 700.8,453.4" fill="none" stroke="#2e3621" stroke-width="1.1" />
<polyline points="696.4,443.2 696.0,455.6" fill="none" stroke="#2e3621" stroke-width="1.1" />
<polyline points="697.8,443.2 698.6,451.4" fill="none" stroke="#2e3621" stroke-width="1.1" />
<polyline points="693.8,449.4 696.8,451.0 700.3,449.2" fill="none" stroke="#2e3621" stroke-width="0.8" />
<ellipse cx="697.0" cy="443.3" rx="3.5" ry="1.7" fill="#2e3621"/>
<ellipse cx="697.0" cy="442.4" rx="3.5" ry="1.6" fill="#2e3621"/>
<polyline points="697.8,439.8 697.8,442.6" fill="none" stroke="#2e3621" stroke-width="1.4" />
<polygon points="694.8,441.0 700.8,438.9 700.8,434.3 699.8,433.2 695.8,435.3 694.8,436.4" fill="#2e3621" stroke="#2e3621" stroke-width="0.5" stroke-linejoin="round"/>
<polygon points="520.7,479.5 571.5,458.0 566.0,494.0 564.0,508.6" fill="#86a94f" />
<polygon points="533.5,473.2 536.6,474.6 536.6,480.1 533.5,478.6" fill="#f6f6f4" />
<polygon points="536.6,474.6 539.7,473.2 539.7,478.6 536.6,480.1" fill="#dfdeda" />
<polygon points="533.5,473.2 536.6,471.9 539.7,473.2 536.6,474.6" fill="#8aab50" />
<path d="M536.6 473.4 Q536.1 462.0 537.0 452.4" fill="none" stroke="#9fc563" stroke-width="0.9" stroke-linecap="round"/>
<path d="M537.4 473.4 Q538.7 464.9 539.8 457.6" fill="none" stroke="#9fc563" stroke-width="0.9" stroke-linecap="round"/>
<path d="M535.8 473.4 Q535.2 467.7 532.2 462.9" fill="none" stroke="#9fc563" stroke-width="0.9" stroke-linecap="round"/>
<path d="M537.0 452.4 Q531.7 448.1 528.9 452.8" fill="none" stroke="#9fc563" stroke-width="1.6" stroke-linecap="round"/>
<path d="M537.0 452.4 Q532.5 448.7 530.1 456.1" fill="none" stroke="#9fc563" stroke-width="1.6" stroke-linecap="round"/>
<path d="M537.0 452.4 Q534.4 447.6 532.9 450.4" fill="none" stroke="#9fc563" stroke-width="1.6" stroke-linecap="round"/>
<path d="M537.0 452.4 Q539.9 447.5 541.4 450.0" fill="none" stroke="#9fc563" stroke-width="1.6" stroke-linecap="round"/>
<path d="M537.0 452.4 Q542.0 448.1 544.7 453.2" fill="none" stroke="#9fc563" stroke-width="1.6" stroke-linecap="round"/>
<path d="M537.0 452.4 Q541.2 448.9 543.4 456.9" fill="none" stroke="#9fc563" stroke-width="1.6" stroke-linecap="round"/>
<path d="M537.0 452.4 Q534.6 449.0 533.3 457.3" fill="none" stroke="#9fc563" stroke-width="1.6" stroke-linecap="round"/>
<path d="M537.0 452.4 Q538.6 449.0 539.4 457.7" fill="none" stroke="#9fc563" stroke-width="1.6" stroke-linecap="round"/>
<path d="M537.0 452.4 Q537.9 444.8 541.9 440.6" fill="none" stroke="#9fc563" stroke-width="1.5" stroke-linecap="round"/>
<path d="M539.8 457.6 Q535.5 454.1 533.2 458.0" fill="none" stroke="#9fc563" stroke-width="1.6" stroke-linecap="round"/>
<path d="M539.8 457.6 Q536.2 454.6 534.2 460.6" fill="none" stroke="#9fc563" stroke-width="1.6" stroke-linecap="round"/>
<path d="M539.8 457.6 Q537.7 453.7 536.5 456.0" fill="none" stroke="#9fc563" stroke-width="1.6" stroke-linecap="round"/>
<path d="M539.8 457.6 Q542.2 453.6 543.5 455.7" fill="none" stroke="#9fc563" stroke-width="1.6" stroke-linecap="round"/>
<path d="M539.8 457.6 Q543.9 454.1 546.1 458.3" fill="none" stroke="#9fc563" stroke-width="1.6" stroke-linecap="round"/>
<path d="M539.8 457.6 Q543.3 454.7 545.2 461.3" fill="none" stroke="#9fc563" stroke-width="1.6" stroke-linecap="round"/>
<path d="M539.8 457.6 Q537.9 454.8 536.8 461.6" fill="none" stroke="#9fc563" stroke-width="1.6" stroke-linecap="round"/>
<path d="M539.8 457.6 Q541.1 454.9 541.8 462.0" fill="none" stroke="#9fc563" stroke-width="1.6" stroke-linecap="round"/>
<path d="M532.2 462.9 Q527.6 459.0 525.1 463.2" fill="none" stroke="#9fc563" stroke-width="1.6" stroke-linecap="round"/>
<path d="M532.2 462.9 Q528.3 459.6 526.2 466.1" fill="none" stroke="#9fc563" stroke-width="1.6" stroke-linecap="round"/>
<path d="M532.2 462.9 Q529.9 458.6 528.7 461.1" fill="none" stroke="#9fc563" stroke-width="1.6" stroke-linecap="round"/>
<path d="M532.2 462.9 Q534.8 458.5 536.1 460.7" fill="none" stroke="#9fc563" stroke-width="1.6" stroke-linecap="round"/>
<path d="M532.2 462.9 Q536.6 459.1 539.0 463.6" fill="none" stroke="#9fc563" stroke-width="1.6" stroke-linecap="round"/>
<path d="M532.2 462.9 Q535.9 459.7 537.9 466.8" fill="none" stroke="#9fc563" stroke-width="1.6" stroke-linecap="round"/>
<path d="M532.2 462.9 Q530.1 459.8 529.0 467.1" fill="none" stroke="#9fc563" stroke-width="1.6" stroke-linecap="round"/>
<path d="M532.2 462.9 Q533.6 459.9 534.4 467.5" fill="none" stroke="#9fc563" stroke-width="1.6" stroke-linecap="round"/>
<polygon points="701.6,393.4 728.1,383.3 728.1,387.3 701.6,397.6" fill="#dedbda" />
<polygon points="701.6,395.5 728.1,385.3 728.1,332.0 701.6,342.0" fill="#ffffff" fill-opacity="0.2"/>
<polygon points="771.9,415.3 757.8,423.9 757.8,426.3 771.9,417.7" fill="#d3d4c8" stroke="#d3d4c8" stroke-width="0.6" stroke-linejoin="round"/>
<polygon points="757.8,423.9 715.6,398.9 715.6,401.3 757.8,426.3" fill="#d3d4c8" stroke="#d3d4c8" stroke-width="0.6" stroke-linejoin="round"/>
<polygon points="717.6,398.9 729.7,392.2 769.9,415.3 757.8,422.7" fill="#8aab50" stroke="#ffffff" stroke-width="2.0" stroke-linejoin="miter"/>
<polygon points="715.6,400.5 757.8,425.3 757.8,428.0 715.6,403.0" fill="#2e3621" />
<polyline points="739.8,411.8 753.9,403.8" fill="none" stroke="#2e3621" stroke-width="1.5" />
<polyline points="752.5,409.5 757.5,414.5 761.0,412.5" fill="none" stroke="#f4f4f2" stroke-width="1.3" />
<polygon points="783.0,415.0 821.0,398.8 821.0,344.5 783.0,360.5" fill="#ffffff" fill-opacity="0.2"/>
<polygon points="797.5,406.0 801.7,408.6 801.7,406.0 797.5,403.4" fill="#2e3621" stroke="#2e3621" stroke-width="0.5" stroke-linejoin="round"/>
<polygon points="801.7,408.6 826.2,398.1 826.2,395.5 801.7,406.0" fill="#2e3621" stroke="#2e3621" stroke-width="0.5" stroke-linejoin="round"/>
<polygon points="797.5,403.4 801.7,406.0 826.2,395.5 822.0,392.9" fill="#3b4429" stroke="#3b4429" stroke-width="0.5" stroke-linejoin="round"/>
<polyline points="800.0,407.0 800.0,412.0" fill="none" stroke="#ec666b" stroke-width="1" />
<polyline points="822.0,398.5 822.0,403.0" fill="none" stroke="#ec666b" stroke-width="1" />
<polygon points="791.7,410.8 795.0,412.2 795.0,418.0 791.7,416.4" fill="#f6f6f4" />
<polygon points="795.0,412.2 798.3,410.8 798.3,416.4 795.0,418.0" fill="#dfdeda" />
<polygon points="791.7,410.8 795.0,409.4 798.3,410.8 795.0,412.2" fill="#8aab50" />
<path d="M795.0 411.0 Q794.5 399.0 795.4 388.9" fill="none" stroke="#9fc563" stroke-width="1.0" stroke-linecap="round"/>
<path d="M795.8 411.0 Q797.2 402.0 798.4 394.4" fill="none" stroke="#9fc563" stroke-width="0.9" stroke-linecap="round"/>
<path d="M794.2 411.0 Q793.5 405.0 790.4 399.9" fill="none" stroke="#9fc563" stroke-width="0.9" stroke-linecap="round"/>
<path d="M795.4 388.9 Q789.9 384.3 786.9 389.3" fill="none" stroke="#9fc563" stroke-width="1.7" stroke-linecap="round"/>
<path d="M795.4 388.9 Q790.7 385.0 788.2 392.7" fill="none" stroke="#9fc563" stroke-width="1.7" stroke-linecap="round"/>
<path d="M795.4 388.9 Q792.6 383.8 791.1 386.8" fill="none" stroke="#9fc563" stroke-width="1.7" stroke-linecap="round"/>
<path d="M795.4 388.9 Q798.4 383.7 800.1 386.3" fill="none" stroke="#9fc563" stroke-width="1.7" stroke-linecap="round"/>
<path d="M795.4 388.9 Q800.6 384.4 803.5 389.8" fill="none" stroke="#9fc563" stroke-width="1.7" stroke-linecap="round"/>
<path d="M795.4 388.9 Q799.8 385.2 802.2 393.6" fill="none" stroke="#9fc563" stroke-width="1.7" stroke-linecap="round"/>
<path d="M795.4 388.9 Q792.9 385.2 791.6 394.0" fill="none" stroke="#9fc563" stroke-width="1.7" stroke-linecap="round"/>
<path d="M795.4 388.9 Q797.1 385.3 797.9 394.4" fill="none" stroke="#9fc563" stroke-width="1.7" stroke-linecap="round"/>
<path d="M795.4 388.9 Q796.4 380.9 800.6 376.4" fill="none" stroke="#9fc563" stroke-width="1.6" stroke-linecap="round"/>
<path d="M798.4 394.4 Q793.9 390.6 791.4 394.8" fill="none" stroke="#9fc563" stroke-width="1.7" stroke-linecap="round"/>
<path d="M798.4 394.4 Q794.5 391.2 792.4 397.5" fill="none" stroke="#9fc563" stroke-width="1.7" stroke-linecap="round"/>
<path d="M798.4 394.4 Q796.1 390.2 794.9 392.6" fill="none" stroke="#9fc563" stroke-width="1.7" stroke-linecap="round"/>
<path d="M798.4 394.4 Q800.9 390.1 802.2 392.3" fill="none" stroke="#9fc563" stroke-width="1.7" stroke-linecap="round"/>
<path d="M798.4 394.4 Q802.7 390.7 805.0 395.1" fill="none" stroke="#9fc563" stroke-width="1.7" stroke-linecap="round"/>
<path d="M798.4 394.4 Q802.0 391.3 804.0 398.2" fill="none" stroke="#9fc563" stroke-width="1.7" stroke-linecap="round"/>
<path d="M798.4 394.4 Q796.4 391.4 795.2 398.6" fill="none" stroke="#9fc563" stroke-width="1.7" stroke-linecap="round"/>
<path d="M798.4 394.4 Q799.8 391.5 800.5 398.9" fill="none" stroke="#9fc563" stroke-width="1.7" stroke-linecap="round"/>
<path d="M790.4 399.9 Q785.5 395.8 782.9 400.3" fill="none" stroke="#9fc563" stroke-width="1.7" stroke-linecap="round"/>
<path d="M790.4 399.9 Q786.3 396.4 784.0 403.3" fill="none" stroke="#9fc563" stroke-width="1.7" stroke-linecap="round"/>
<path d="M790.4 399.9 Q788.0 395.4 786.6 398.0" fill="none" stroke="#9fc563" stroke-width="1.7" stroke-linecap="round"/>
<path d="M790.4 399.9 Q793.1 395.3 794.5 397.6" fill="none" stroke="#9fc563" stroke-width="1.7" stroke-linecap="round"/>
<path d="M790.4 399.9 Q795.0 395.9 797.5 400.6" fill="none" stroke="#9fc563" stroke-width="1.7" stroke-linecap="round"/>
<path d="M790.4 399.9 Q794.3 396.6 796.4 404.0" fill="none" stroke="#9fc563" stroke-width="1.7" stroke-linecap="round"/>
<path d="M790.4 399.9 Q788.2 396.7 787.0 404.4" fill="none" stroke="#9fc563" stroke-width="1.7" stroke-linecap="round"/>
<path d="M790.4 399.9 Q791.9 396.8 792.6 404.8" fill="none" stroke="#9fc563" stroke-width="1.7" stroke-linecap="round"/>
<polygon points="805.3,428.0 816.7,434.6 816.7,437.2 805.3,430.5" fill="#2e3621" />
<polygon points="838.0,422.4 816.7,433.0 816.7,434.6 838.0,424.0" fill="#d3d4c8" stroke="#d3d4c8" stroke-width="0.6" stroke-linejoin="round"/>
<polygon points="816.7,433.0 805.3,426.5 805.3,428.1 816.7,434.6" fill="#d3d4c8" stroke="#d3d4c8" stroke-width="0.6" stroke-linejoin="round"/>
<polygon points="807.5,426.6 827.1,417.7 835.8,422.4 816.7,431.9" fill="#8aab50" stroke="#ffffff" stroke-width="2.0" stroke-linejoin="miter"/>
<polyline points="808.0,432.0 806.0,436.0" fill="none" stroke="#f0f0ee" stroke-width="1" />
<polyline points="811.0,433.5 809.0,437.5" fill="none" stroke="#f0f0ee" stroke-width="1" />
<circle cx="826" cy="421" r="1" fill="#f4f4f2"/><circle cx="829" cy="422.3" r="0.9" fill="#f4f4f2"/>
<polyline points="702.7,490.9 719.8,484.7" fill="none" stroke="#2e3621" stroke-width="2.0" />
<polyline points="719.8,477.7 751.9,473.8" fill="none" stroke="#2e3621" stroke-width="2.0" />
<polyline points="751.9,458.9 768.8,456.3 797.7,443.8" fill="none" stroke="#2e3621" stroke-width="2.0" />
<polygon points="787.5,434.1 766.4,442.7 741.7,447.2 740.9,460.9 708.9,466.4 708.1,475.8 694.0,482.0 702.7,489.0 719.8,482.8 719.8,475.8 751.9,471.9 751.9,457.0 768.8,454.4 797.7,441.9" fill="#8aab50" stroke="#ffffff" stroke-width="1.7" stroke-linejoin="miter"/>
<circle cx="702" cy="483.2" r="0.7" fill="#2e3621"/>
<polygon points="643.3,500.4 667.5,516.8 680.0,511.4 680.0,514.0 667.5,519.5 643.3,503.0" fill="#dcdcd6" />
<polygon points="684.7,485.6 694.0,482.0 702.7,488.3 692.5,492.5" fill="#ec666b" />
<polygon points="643.3,498.4 657.3,493.0 657.3,482.0 669.0,480.5 680.0,487.5 684.7,485.6 692.5,492.5 680.0,496.9 680.0,509.4 667.5,514.8" fill="#8aab50" stroke="#ffffff" stroke-width="1.6" stroke-linejoin="miter"/>
<polyline points="661.0,485.5 668.0,489.8" fill="none" stroke="#ffffff" stroke-width="1.3" />
<polyline points="671.5,492.0 677.0,495.5" fill="none" stroke="#ffffff" stroke-width="1.3" />
<polyline points="659.5,495.5 665.0,499.0" fill="none" stroke="#ffffff" stroke-width="1.3" />
<polyline points="668.5,501.5 675.5,506.0" fill="none" stroke="#ffffff" stroke-width="1.3" />
<circle cx="652" cy="498.8" r="0.7" fill="#2e3621"/>
<polygon points="768.0,480.2 835.2,452.0 837.0,453.6 774.0,480.6 770.0,483.5" fill="#2e3621" />
<polyline points="769.5,482.0 769.5,488.0" fill="none" stroke="#2e3621" stroke-width="1.3" />
<polygon points="789.0,482.5 848.4,456.7 848.4,464.5 789.0,489.5" fill="#8aab50" />
<polygon points="775.0,481.7 842.2,452.0 847.7,455.2 782.0,484.8" fill="#f2e0ab" />
<polygon points="775.0,481.7 782.0,484.8 847.7,455.2 847.7,456.6 782.0,486.3 775.0,483.2" fill="#ec666b" />
<polyline points="782.5,478.4 788.7,481.5" fill="none" stroke="#f0a8a0" stroke-width="0.5" />
<polyline points="789.9,475.1 796.1,478.2" fill="none" stroke="#f0a8a0" stroke-width="0.5" />
<polyline points="797.4,471.8 803.6,474.9" fill="none" stroke="#f0a8a0" stroke-width="0.5" />
<polyline points="804.9,468.5 811.1,471.6" fill="none" stroke="#f0a8a0" stroke-width="0.5" />
<polyline points="812.3,465.2 818.5,468.3" fill="none" stroke="#f0a8a0" stroke-width="0.5" />
<polyline points="819.8,461.9 826.0,465.0" fill="none" stroke="#f0a8a0" stroke-width="0.5" />
<polyline points="827.3,458.6 833.5,461.7" fill="none" stroke="#f0a8a0" stroke-width="0.5" />
<polyline points="834.7,455.3 840.9,458.4" fill="none" stroke="#f0a8a0" stroke-width="0.5" />
<polyline points="776.5,483.5 776.5,490.5" fill="none" stroke="#ec666b" stroke-width="1.1" />
<polyline points="780.0,485.5 780.0,492.5" fill="none" stroke="#ec666b" stroke-width="1.1" />
<polyline points="784.0,485.0 784.0,492.0" fill="none" stroke="#ec666b" stroke-width="1.1" />
<polygon points="781.0,486.5 789.0,483.0 789.0,489.0 784.0,491.0" fill="#e8dcae" />
<ellipse cx="770.3" cy="497.8" rx="4.2" ry="2" fill="#2e3621"/>
<rect x="766.1" y="488.8" width="8.4" height="9" fill="#2e3621"/>
<ellipse cx="770.3" cy="488.8" rx="4.2" ry="2" fill="#3b4429"/>
<polyline points="768.1,489.8 768.1,498.6" fill="none" stroke="#8d8f6a" stroke-width="0.6" />
<polyline points="770.6,489.8 770.6,498.6" fill="none" stroke="#8d8f6a" stroke-width="0.6" />
<polyline points="772.9,489.8 772.9,498.6" fill="none" stroke="#8d8f6a" stroke-width="0.6" />
<polygon points="819.5,445.8 849.5,463.8 849.5,402.6 819.5,384.6" fill="#ffffff" fill-opacity="0.42"/>
<polygon points="849.5,463.8 892.7,444.2 892.7,383.0 849.5,402.6" fill="#a8d4f3" fill-opacity="0.68"/>
<polygon points="819.5,384.6 849.5,402.6 892.7,383.0 862.7,365.0" fill="#25457a" />
<text transform="matrix(0.32,-0.138,0,1,859.3,443.5)" font-family="Liberation Sans, sans-serif" font-weight="bold" font-size="40" fill="#25457a" stroke="#25457a" stroke-width="1.3" vector-effect="non-scaling-stroke" letter-spacing="1">WC</text>
<polygon points="775.8,505.0 817.2,530.7 817.2,522.2 775.8,496.5" fill="#2e3621" stroke="#2e3621" stroke-width="0.5" stroke-linejoin="round"/>
<polygon points="817.2,530.7 828.2,525.9 828.2,517.4 817.2,522.2" fill="#ec666b" stroke="#ec666b" stroke-width="0.5" stroke-linejoin="round"/>
<polygon points="775.8,496.5 817.2,522.2 828.2,517.4 786.8,491.8" fill="#2e3621" stroke="#2e3621" stroke-width="0.5" stroke-linejoin="round"/>
<polyline points="778.5,495.3 819.9,521.0" fill="none" stroke="#6b4a3d" stroke-width="0.5" />
<polyline points="781.3,494.1 822.7,519.8" fill="none" stroke="#6b4a3d" stroke-width="0.5" />
<polyline points="784.0,493.0 825.4,518.6" fill="none" stroke="#6b4a3d" stroke-width="0.5" />
<polyline points="775.8,502.0 817.2,527.7" fill="none" stroke="#5a3f35" stroke-width="0.5" />
<polyline points="775.8,499.1 817.2,524.7" fill="none" stroke="#5a3f35" stroke-width="0.5" />
<polygon points="824.0,522.0 827.3,523.4 827.3,529.2 824.0,527.6" fill="#f6f6f4" />
<polygon points="827.3,523.4 830.6,522.0 830.6,527.6 827.3,529.2" fill="#dfdeda" />
<polygon points="824.0,522.0 827.3,520.6 830.6,522.0 827.3,523.4" fill="#8aab50" />
<path d="M827.3 522.2 Q826.8 510.2 827.7 500.1" fill="none" stroke="#9fc563" stroke-width="1.0" stroke-linecap="round"/>
<path d="M828.1 522.2 Q829.5 513.2 830.7 505.6" fill="none" stroke="#9fc563" stroke-width="0.9" stroke-linecap="round"/>
<path d="M826.5 522.2 Q825.8 516.2 822.7 511.1" fill="none" stroke="#9fc563" stroke-width="0.9" stroke-linecap="round"/>
<path d="M827.7 500.1 Q822.2 495.5 819.2 500.5" fill="none" stroke="#9fc563" stroke-width="1.7" stroke-linecap="round"/>
<path d="M827.7 500.1 Q823.0 496.2 820.5 503.9" fill="none" stroke="#9fc563" stroke-width="1.7" stroke-linecap="round"/>
<path d="M827.7 500.1 Q824.9 495.0 823.4 498.0" fill="none" stroke="#9fc563" stroke-width="1.7" stroke-linecap="round"/>
<path d="M827.7 500.1 Q830.7 494.9 832.4 497.6" fill="none" stroke="#9fc563" stroke-width="1.7" stroke-linecap="round"/>
<path d="M827.7 500.1 Q832.9 495.6 835.8 501.0" fill="none" stroke="#9fc563" stroke-width="1.7" stroke-linecap="round"/>
<path d="M827.7 500.1 Q832.1 496.4 834.5 504.8" fill="none" stroke="#9fc563" stroke-width="1.7" stroke-linecap="round"/>
<path d="M827.7 500.1 Q825.2 496.4 823.9 505.2" fill="none" stroke="#9fc563" stroke-width="1.7" stroke-linecap="round"/>
<path d="M827.7 500.1 Q829.4 496.5 830.2 505.6" fill="none" stroke="#9fc563" stroke-width="1.7" stroke-linecap="round"/>
<path d="M827.7 500.1 Q828.7 492.1 832.9 487.6" fill="none" stroke="#9fc563" stroke-width="1.6" stroke-linecap="round"/>
<path d="M830.7 505.6 Q826.1 501.8 823.7 506.0" fill="none" stroke="#9fc563" stroke-width="1.7" stroke-linecap="round"/>
<path d="M830.7 505.6 Q826.8 502.4 824.7 508.8" fill="none" stroke="#9fc563" stroke-width="1.7" stroke-linecap="round"/>
<path d="M830.7 505.6 Q828.4 501.4 827.2 503.9" fill="none" stroke="#9fc563" stroke-width="1.7" stroke-linecap="round"/>
<path d="M830.7 505.6 Q833.2 501.3 834.5 503.5" fill="none" stroke="#9fc563" stroke-width="1.7" stroke-linecap="round"/>
<path d="M830.7 505.6 Q835.0 501.9 837.3 506.3" fill="none" stroke="#9fc563" stroke-width="1.7" stroke-linecap="round"/>
<path d="M830.7 505.6 Q834.3 502.5 836.3 509.5" fill="none" stroke="#9fc563" stroke-width="1.7" stroke-linecap="round"/>
<path d="M830.7 505.6 Q828.7 502.6 827.5 509.8" fill="none" stroke="#9fc563" stroke-width="1.7" stroke-linecap="round"/>
<path d="M830.7 505.6 Q832.1 502.7 832.8 510.2" fill="none" stroke="#9fc563" stroke-width="1.7" stroke-linecap="round"/>
<path d="M822.7 511.1 Q817.8 507.1 815.2 511.5" fill="none" stroke="#9fc563" stroke-width="1.7" stroke-linecap="round"/>
<path d="M822.7 511.1 Q818.6 507.7 816.3 514.5" fill="none" stroke="#9fc563" stroke-width="1.7" stroke-linecap="round"/>
<path d="M822.7 511.1 Q820.3 506.6 818.9 509.2" fill="none" stroke="#9fc563" stroke-width="1.7" stroke-linecap="round"/>
<path d="M822.7 511.1 Q825.4 506.5 826.8 508.9" fill="none" stroke="#9fc563" stroke-width="1.7" stroke-linecap="round"/>
<path d="M822.7 511.1 Q827.3 507.1 829.8 511.9" fill="none" stroke="#9fc563" stroke-width="1.7" stroke-linecap="round"/>
<path d="M822.7 511.1 Q826.6 507.8 828.7 515.2" fill="none" stroke="#9fc563" stroke-width="1.7" stroke-linecap="round"/>
<path d="M822.7 511.1 Q820.5 507.9 819.3 515.6" fill="none" stroke="#9fc563" stroke-width="1.7" stroke-linecap="round"/>
<path d="M822.7 511.1 Q824.2 508.0 824.9 516.0" fill="none" stroke="#9fc563" stroke-width="1.7" stroke-linecap="round"/>
<ellipse cx="819.7" cy="540.3" rx="4.2" ry="2" fill="#2e3621"/>
<rect x="815.5" y="531.3" width="8.4" height="9" fill="#2e3621"/>
<ellipse cx="819.7" cy="531.3" rx="4.2" ry="2" fill="#3b4429"/>
<polyline points="817.5,532.3 817.5,541.1" fill="none" stroke="#8d8f6a" stroke-width="0.6" />
<polyline points="820.0,532.3 820.0,541.1" fill="none" stroke="#8d8f6a" stroke-width="0.6" />
<polyline points="822.3,532.3 822.3,541.1" fill="none" stroke="#8d8f6a" stroke-width="0.6" />
<polygon points="719.8,525.0 760.5,552.3 760.5,555.0 719.8,527.7" fill="#2e3621" />
<polygon points="774.5,543.8 760.5,550.8 760.5,553.0 774.5,546.0" fill="#d3d4c8" stroke="#d3d4c8" stroke-width="0.6" stroke-linejoin="round"/>
<polygon points="760.5,550.8 719.8,523.4 719.8,525.6 760.5,553.0" fill="#d3d4c8" stroke="#d3d4c8" stroke-width="0.6" stroke-linejoin="round"/>
<polygon points="721.8,523.6 733.0,518.3 772.5,543.6 760.6,549.6" fill="#8aab50" stroke="#ffffff" stroke-width="2.0" stroke-linejoin="miter"/>
<polygon points="708.1,521.7 718.3,528.0 718.3,518.0 708.1,511.7" fill="#e6e4e2" stroke="#e6e4e2" stroke-width="0.5" stroke-linejoin="round"/>
<polygon points="718.3,528.0 737.9,519.6 737.9,509.6 718.3,518.0" fill="#ffffff" stroke="#ffffff" stroke-width="0.5" stroke-linejoin="round"/>
<polygon points="708.1,511.7 718.3,518.0 737.9,509.6 727.7,503.3" fill="#8f8a5e" stroke="#8f8a5e" stroke-width="0.5" stroke-linejoin="round"/>
<polyline points="721.1,525.6 721.1,519.2" fill="none" stroke="#d2d2d2" stroke-width="0.7" />
<polyline points="723.9,524.4 723.9,518.0" fill="none" stroke="#d2d2d2" stroke-width="0.7" />
<polyline points="726.7,523.2 726.7,516.8" fill="none" stroke="#d2d2d2" stroke-width="0.7" />
<polyline points="729.5,522.0 729.5,515.6" fill="none" stroke="#d2d2d2" stroke-width="0.7" />
<polyline points="732.3,520.8 732.3,514.4" fill="none" stroke="#d2d2d2" stroke-width="0.7" />
<polyline points="735.1,519.6 735.1,513.2" fill="none" stroke="#d2d2d2" stroke-width="0.7" />
<polygon points="714.7,514.8 725.5,510.1 729.6,512.7 718.8,517.3" fill="#e4d8a5" fill-opacity="0.85"/>
<polygon points="710.9,511.4 723.6,505.9 725.9,507.3 713.1,512.8" fill="#d9cd9b" fill-opacity="0.8"/>
<polygon points="717.0,511.1 729.8,505.6 732.3,507.2 719.6,512.6" fill="#4d4f32" fill-opacity="0.75"/>
<polygon points="724.4,505.8 727.7,504.3 729.8,505.6 726.4,507.0" fill="#d9cd9b" fill-opacity="0.7"/>
<polyline points="708.1,511.7 718.3,518.0 737.9,509.6" fill="none" stroke="#ffffff" stroke-width="0.8" />
<circle cx="730.5" cy="524.8" r="0.7" fill="#2e3621"/>
<polygon points="740.3,528.2 752.3,525.2 753.3,534.2 746.3,537.7 739.3,534.7" fill="#f7f7f5" />
<polygon points="740.8,524.2 751.8,521.2 752.3,525.2 746.3,527.7 740.3,528.2" fill="#ec666b" />
<polygon points="741.3,520.2 751.3,517.7 751.8,521.2 746.3,523.2 740.8,524.2" fill="#f7f7f5" />
<polygon points="742.8,518.7 744.8,514.7 748.8,514.2 750.8,517.7 746.3,519.6" fill="#ec666b" />
<polyline points="739.8,531.7 746.3,534.2 752.8,530.7" fill="none" stroke="#ec666b" stroke-width="1.5" />
<polyline points="747.3,524.2 752.3,533.2" fill="none" stroke="#e9e9e6" stroke-width="1.2" />
<polyline points="752.3,524.2 747.3,533.2" fill="none" stroke="#e9e9e6" stroke-width="1.2" />
<polyline points="546.4,472.8 545.4,483.5" fill="none" stroke="#2e3621" stroke-width="1.1" />
<polyline points="551.6,472.8 552.8,483.0" fill="none" stroke="#2e3621" stroke-width="1.1" />
<polyline points="548.4,472.8 548.0,485.2" fill="none" stroke="#2e3621" stroke-width="1.1" />
<polyline points="549.8,472.8 550.6,481.0" fill="none" stroke="#2e3621" stroke-width="1.1" />
<polyline points="545.8,479.0 548.8,480.6 552.3,478.8" fill="none" stroke="#2e3621" stroke-width="0.8" />
<ellipse cx="549.0" cy="472.9" rx="3.5" ry="1.7" fill="#2e3621"/>
<ellipse cx="549.0" cy="472.0" rx="3.5" ry="1.6" fill="#2e3621"/>
<polyline points="550.2,468.8 550.2,471.6" fill="none" stroke="#2e3621" stroke-width="1.4" />
<polygon points="547.2,467.5 553.2,470.5 553.2,465.9 552.2,464.8 548.2,461.8 547.2,462.9" fill="#2e3621" stroke="#2e3621" stroke-width="0.5" stroke-linejoin="round"/>
<polyline points="569.9,467.3 568.9,478.0" fill="none" stroke="#2e3621" stroke-width="1.1" />
<polyline points="575.1,467.3 576.3,477.5" fill="none" stroke="#2e3621" stroke-width="1.1" />
<polyline points="571.9,467.3 571.5,479.7" fill="none" stroke="#2e3621" stroke-width="1.1" />
<polyline points="573.3,467.3 574.1,475.5" fill="none" stroke="#2e3621" stroke-width="1.1" />
<polyline points="569.3,473.5 572.3,475.1 575.8,473.3" fill="none" stroke="#2e3621" stroke-width="0.8" />
<ellipse cx="572.5" cy="467.4" rx="3.5" ry="1.7" fill="#2e3621"/>
<ellipse cx="572.5" cy="466.5" rx="3.5" ry="1.6" fill="#2e3621"/>
<polyline points="571.3,463.3 571.3,466.1" fill="none" stroke="#2e3621" stroke-width="1.4" />
<polygon points="568.3,464.5 574.3,462.5 574.3,457.9 573.3,456.8 569.3,458.8 568.3,459.9" fill="#2e3621" stroke="#2e3621" stroke-width="0.5" stroke-linejoin="round"/>
<path d="M562.4 474 v9" stroke="#ec666b" stroke-width="3.2"/>
<ellipse cx="562.4" cy="484.5" rx="4.2" ry="1.9" fill="#ec666b"/>
<ellipse cx="562.4" cy="474.6" rx="11.8" ry="4.5" fill="#ec666b"/>
<ellipse cx="562.4" cy="473.6" rx="11.8" ry="4.4" fill="#f2e0ab"/>
<polyline points="576.4,475.3 575.4,486.0" fill="none" stroke="#2e3621" stroke-width="1.1" />
<polyline points="581.6,475.3 582.8,485.5" fill="none" stroke="#2e3621" stroke-width="1.1" />
<polyline points="578.4,475.3 578.0,487.7" fill="none" stroke="#2e3621" stroke-width="1.1" />
<polyline points="579.8,475.3 580.6,483.5" fill="none" stroke="#2e3621" stroke-width="1.1" />
<polyline points="575.8,481.5 578.8,483.1 582.3,481.3" fill="none" stroke="#2e3621" stroke-width="0.8" />
<ellipse cx="579.0" cy="475.4" rx="3.5" ry="1.7" fill="#2e3621"/>
<ellipse cx="579.0" cy="474.5" rx="3.5" ry="1.6" fill="#2e3621"/>
<polyline points="578.4,471.9 578.4,474.7" fill="none" stroke="#2e3621" stroke-width="1.4" />
<polygon points="575.4,470.6 581.4,473.6 581.4,469.0 580.4,467.9 576.4,464.9 575.4,466.0" fill="#2e3621" stroke="#2e3621" stroke-width="0.5" stroke-linejoin="round"/>
<polyline points="571.6,496.9 570.6,507.6" fill="none" stroke="#2e3621" stroke-width="1.1" />
<polyline points="576.8,496.9 578.0,507.1" fill="none" stroke="#2e3621" stroke-width="1.1" />
<polyline points="573.6,496.9 573.2,509.3" fill="none" stroke="#2e3621" stroke-width="1.1" />
<polyline points="575.0,496.9 575.8,505.1" fill="none" stroke="#2e3621" stroke-width="1.1" />
<polyline points="571.0,503.1 574.0,504.7 577.5,502.9" fill="none" stroke="#2e3621" stroke-width="0.8" />
<ellipse cx="574.2" cy="497.0" rx="3.5" ry="1.7" fill="#2e3621"/>
<ellipse cx="574.2" cy="496.1" rx="3.5" ry="1.6" fill="#2e3621"/>
<polyline points="573.0,492.9 573.0,495.7" fill="none" stroke="#2e3621" stroke-width="1.4" />
<polygon points="570.0,494.1 576.0,492.0 576.0,487.4 575.0,486.3 571.0,488.4 570.0,489.5" fill="#2e3621" stroke="#2e3621" stroke-width="0.5" stroke-linejoin="round"/>
<polyline points="579.4,493.5 578.4,504.2" fill="none" stroke="#2e3621" stroke-width="1.1" />
<polyline points="584.6,493.5 585.8,503.7" fill="none" stroke="#2e3621" stroke-width="1.1" />
<polyline points="581.4,493.5 581.0,505.9" fill="none" stroke="#2e3621" stroke-width="1.1" />
<polyline points="582.8,493.5 583.6,501.7" fill="none" stroke="#2e3621" stroke-width="1.1" />
<polyline points="578.8,499.7 581.8,501.3 585.3,499.5" fill="none" stroke="#2e3621" stroke-width="0.8" />
<ellipse cx="582.0" cy="493.6" rx="3.5" ry="1.7" fill="#2e3621"/>
<ellipse cx="582.0" cy="492.7" rx="3.5" ry="1.6" fill="#2e3621"/>
<polyline points="580.8,489.5 580.8,492.3" fill="none" stroke="#2e3621" stroke-width="1.4" />
<polygon points="577.8,490.8 583.8,488.7 583.8,484.1 582.8,483.0 578.8,485.1 577.8,486.2" fill="#2e3621" stroke="#2e3621" stroke-width="0.5" stroke-linejoin="round"/>
<polyline points="595.4,486.6 594.4,497.3" fill="none" stroke="#2e3621" stroke-width="1.1" />
<polyline points="600.6,486.6 601.8,496.8" fill="none" stroke="#2e3621" stroke-width="1.1" />
<polyline points="597.4,486.6 597.0,499.0" fill="none" stroke="#2e3621" stroke-width="1.1" />
<polyline points="598.8,486.6 599.6,494.8" fill="none" stroke="#2e3621" stroke-width="1.1" />
<polyline points="594.8,492.8 597.8,494.4 601.3,492.6" fill="none" stroke="#2e3621" stroke-width="0.8" />
<ellipse cx="598.0" cy="486.7" rx="3.5" ry="1.7" fill="#2e3621"/>
<ellipse cx="598.0" cy="485.8" rx="3.5" ry="1.6" fill="#2e3621"/>
<polyline points="596.8,482.6 596.8,485.4" fill="none" stroke="#2e3621" stroke-width="1.4" />
<polygon points="593.8,483.9 599.8,481.8 599.8,477.2 598.8,476.1 594.8,478.2 593.8,479.3" fill="#2e3621" stroke="#2e3621" stroke-width="0.5" stroke-linejoin="round"/>
<polyline points="603.2,483.3 602.2,494.0" fill="none" stroke="#2e3621" stroke-width="1.1" />
<polyline points="608.4,483.3 609.6,493.5" fill="none" stroke="#2e3621" stroke-width="1.1" />
<polyline points="605.2,483.3 604.8,495.7" fill="none" stroke="#2e3621" stroke-width="1.1" />
<polyline points="606.6,483.3 607.4,491.5" fill="none" stroke="#2e3621" stroke-width="1.1" />
<polyline points="602.6,489.5 605.6,491.1 609.1,489.3" fill="none" stroke="#2e3621" stroke-width="0.8" />
<ellipse cx="605.8" cy="483.4" rx="3.5" ry="1.7" fill="#2e3621"/>
<ellipse cx="605.8" cy="482.5" rx="3.5" ry="1.6" fill="#2e3621"/>
<polyline points="604.6,479.3 604.6,482.1" fill="none" stroke="#2e3621" stroke-width="1.4" />
<polygon points="601.6,480.5 607.6,478.5 607.6,473.9 606.6,472.8 602.6,474.8 601.6,475.9" fill="#2e3621" stroke="#2e3621" stroke-width="0.5" stroke-linejoin="round"/>
<polyline points="581.4,501.6 581.4,514.6" fill="none" stroke="#ec666b" stroke-width="1.1" />
<polyline points="574.4,496.7 574.4,509.2" fill="none" stroke="#ec666b" stroke-width="0.9" />
<polyline points="599.2,494.0 599.2,507.0" fill="none" stroke="#ec666b" stroke-width="1.1" />
<polyline points="592.2,489.1 592.2,501.6" fill="none" stroke="#ec666b" stroke-width="0.9" />
<polyline points="617.0,486.3 617.0,499.3" fill="none" stroke="#ec666b" stroke-width="1.1" />
<polyline points="610.0,481.4 610.0,493.9" fill="none" stroke="#ec666b" stroke-width="0.9" />
<polygon points="572.4,497.6 579.9,502.2 618.5,485.7 618.5,487.1 579.9,503.6 572.4,499.0" fill="#ec666b" />
<polygon points="572.4,497.6 579.9,502.2 618.5,485.7 611.0,481.0" fill="#f2e0ab" />
<polyline points="585.0,504.1 584.0,514.8" fill="none" stroke="#2e3621" stroke-width="1.1" />
<polyline points="590.2,504.1 591.4,514.3" fill="none" stroke="#2e3621" stroke-width="1.1" />
<polyline points="587.0,504.1 586.6,516.5" fill="none" stroke="#2e3621" stroke-width="1.1" />
<polyline points="588.4,504.1 589.2,512.3" fill="none" stroke="#2e3621" stroke-width="1.1" />
<polyline points="584.4,510.3 587.4,511.9 590.9,510.1" fill="none" stroke="#2e3621" stroke-width="0.8" />
<ellipse cx="587.6" cy="504.2" rx="3.5" ry="1.7" fill="#2e3621"/>
<ellipse cx="587.6" cy="503.3" rx="3.5" ry="1.6" fill="#2e3621"/>
<polyline points="588.4,500.7 588.4,503.5" fill="none" stroke="#2e3621" stroke-width="1.4" />
<polygon points="585.4,502.0 591.4,499.9 591.4,495.3 590.4,494.2 586.4,496.3 585.4,497.4" fill="#2e3621" stroke="#2e3621" stroke-width="0.5" stroke-linejoin="round"/>
<polyline points="592.8,500.8 591.8,511.5" fill="none" stroke="#2e3621" stroke-width="1.1" />
<polyline points="598.0,500.8 599.2,511.0" fill="none" stroke="#2e3621" stroke-width="1.1" />
<polyline points="594.8,500.8 594.4,513.2" fill="none" stroke="#2e3621" stroke-width="1.1" />
<polyline points="596.2,500.8 597.0,509.0" fill="none" stroke="#2e3621" stroke-width="1.1" />
<polyline points="592.2,507.0 595.2,508.6 598.7,506.8" fill="none" stroke="#2e3621" stroke-width="0.8" />
<ellipse cx="595.4" cy="500.9" rx="3.5" ry="1.7" fill="#2e3621"/>
<ellipse cx="595.4" cy="500.0" rx="3.5" ry="1.6" fill="#2e3621"/>
<polyline points="596.2,497.4 596.2,500.2" fill="none" stroke="#2e3621" stroke-width="1.4" />
<polygon points="593.2,498.6 599.2,496.6 599.2,492.0 598.2,490.9 594.2,492.9 593.2,494.0" fill="#2e3621" stroke="#2e3621" stroke-width="0.5" stroke-linejoin="round"/>
<polyline points="608.8,493.9 607.8,504.6" fill="none" stroke="#2e3621" stroke-width="1.1" />
<polyline points="614.0,493.9 615.2,504.1" fill="none" stroke="#2e3621" stroke-width="1.1" />
<polyline points="610.8,493.9 610.4,506.3" fill="none" stroke="#2e3621" stroke-width="1.1" />
<polyline points="612.2,493.9 613.0,502.1" fill="none" stroke="#2e3621" stroke-width="1.1" />
<polyline points="608.2,500.1 611.2,501.7 614.7,499.9" fill="none" stroke="#2e3621" stroke-width="0.8" />
<ellipse cx="611.4" cy="494.0" rx="3.5" ry="1.7" fill="#2e3621"/>
<ellipse cx="611.4" cy="493.1" rx="3.5" ry="1.6" fill="#2e3621"/>
<polyline points="612.2,490.5 612.2,493.3" fill="none" stroke="#2e3621" stroke-width="1.4" />
<polygon points="609.2,491.7 615.2,489.7 615.2,485.1 614.2,484.0 610.2,486.0 609.2,487.1" fill="#2e3621" stroke="#2e3621" stroke-width="0.5" stroke-linejoin="round"/>
<polyline points="616.6,490.6 615.6,501.3" fill="none" stroke="#2e3621" stroke-width="1.1" />
<polyline points="621.8,490.6 623.0,500.8" fill="none" stroke="#2e3621" stroke-width="1.1" />
<polyline points="618.6,490.6 618.2,503.0" fill="none" stroke="#2e3621" stroke-width="1.1" />
<polyline points="620.0,490.6 620.8,498.8" fill="none" stroke="#2e3621" stroke-width="1.1" />
<polyline points="616.0,496.8 619.0,498.4 622.5,496.6" fill="none" stroke="#2e3621" stroke-width="0.8" />
<ellipse cx="619.2" cy="490.7" rx="3.5" ry="1.7" fill="#2e3621"/>
<ellipse cx="619.2" cy="489.8" rx="3.5" ry="1.6" fill="#2e3621"/>
<polyline points="620.0,487.2 620.0,490.0" fill="none" stroke="#2e3621" stroke-width="1.4" />
<polygon points="617.0,488.4 623.0,486.3 623.0,481.7 622.0,480.6 618.0,482.7 617.0,483.8" fill="#2e3621" stroke="#2e3621" stroke-width="0.5" stroke-linejoin="round"/>
<polyline points="612.6,514.3 611.6,525.0" fill="none" stroke="#2e3621" stroke-width="1.1" />
<polyline points="617.8,514.3 619.0,524.5" fill="none" stroke="#2e3621" stroke-width="1.1" />
<polyline points="614.6,514.3 614.2,526.7" fill="none" stroke="#2e3621" stroke-width="1.1" />
<polyline points="616.0,514.3 616.8,522.5" fill="none" stroke="#2e3621" stroke-width="1.1" />
<polyline points="612.0,520.5 615.0,522.1 618.5,520.3" fill="none" stroke="#2e3621" stroke-width="0.8" />
<ellipse cx="615.2" cy="514.4" rx="3.5" ry="1.7" fill="#2e3621"/>
<ellipse cx="615.2" cy="513.5" rx="3.5" ry="1.6" fill="#2e3621"/>
<polyline points="616.4,510.3 616.4,513.1" fill="none" stroke="#2e3621" stroke-width="1.4" />
<polygon points="613.4,509.0 619.4,512.0 619.4,507.4 618.4,506.3 614.4,503.3 613.4,504.4" fill="#2e3621" stroke="#2e3621" stroke-width="0.5" stroke-linejoin="round"/>
<polyline points="621.7,519.9 620.7,530.6" fill="none" stroke="#2e3621" stroke-width="1.1" />
<polyline points="626.9,519.9 628.1,530.1" fill="none" stroke="#2e3621" stroke-width="1.1" />
<polyline points="623.7,519.9 623.3,532.3" fill="none" stroke="#2e3621" stroke-width="1.1" />
<polyline points="625.1,519.9 625.9,528.1" fill="none" stroke="#2e3621" stroke-width="1.1" />
<polyline points="621.1,526.1 624.1,527.7 627.6,525.9" fill="none" stroke="#2e3621" stroke-width="0.8" />
<ellipse cx="624.3" cy="520.0" rx="3.5" ry="1.7" fill="#2e3621"/>
<ellipse cx="624.3" cy="519.1" rx="3.5" ry="1.6" fill="#2e3621"/>
<polyline points="625.5,515.9 625.5,518.7" fill="none" stroke="#2e3621" stroke-width="1.4" />
<polygon points="622.5,514.6 628.5,517.6 628.5,513.0 627.5,511.9 623.5,508.9 622.5,510.0" fill="#2e3621" stroke="#2e3621" stroke-width="0.5" stroke-linejoin="round"/>
<polyline points="630.8,525.6 629.8,536.3" fill="none" stroke="#2e3621" stroke-width="1.1" />
<polyline points="636.0,525.6 637.2,535.8" fill="none" stroke="#2e3621" stroke-width="1.1" />
<polyline points="632.8,525.6 632.4,538.0" fill="none" stroke="#2e3621" stroke-width="1.1" />
<polyline points="634.2,525.6 635.0,533.8" fill="none" stroke="#2e3621" stroke-width="1.1" />
<polyline points="630.2,531.8 633.2,533.4 636.7,531.6" fill="none" stroke="#2e3621" stroke-width="0.8" />
<ellipse cx="633.4" cy="525.7" rx="3.5" ry="1.7" fill="#2e3621"/>
<ellipse cx="633.4" cy="524.8" rx="3.5" ry="1.6" fill="#2e3621"/>
<polyline points="634.6,521.6 634.6,524.4" fill="none" stroke="#2e3621" stroke-width="1.4" />
<polygon points="631.6,520.3 637.6,523.3 637.6,518.7 636.6,517.6 632.6,514.6 631.6,515.7" fill="#2e3621" stroke="#2e3621" stroke-width="0.5" stroke-linejoin="round"/>
<polyline points="604.0,512.4 604.0,524.6" fill="none" stroke="#ec666b" stroke-width="1.1" />
<polyline points="609.6,510.0 609.6,521.7" fill="none" stroke="#ec666b" stroke-width="0.9" />
<polyline points="616.1,519.9 616.1,532.1" fill="none" stroke="#ec666b" stroke-width="1.1" />
<polyline points="621.7,517.5 621.7,529.2" fill="none" stroke="#ec666b" stroke-width="0.9" />
<polyline points="628.2,527.4 628.2,539.6" fill="none" stroke="#ec666b" stroke-width="1.1" />
<polyline points="633.8,525.0 633.8,536.7" fill="none" stroke="#ec666b" stroke-width="0.9" />
<polygon points="602.5,511.5 629.7,528.4 635.3,526.0 635.3,527.4 629.7,529.8 602.5,512.9" fill="#ec666b" />
<polygon points="602.5,511.5 629.7,528.4 635.3,526.0 608.1,509.1" fill="#f2e0ab" />
<polyline points="603.2,520.3 602.2,531.0" fill="none" stroke="#2e3621" stroke-width="1.1" />
<polyline points="608.4,520.3 609.6,530.5" fill="none" stroke="#2e3621" stroke-width="1.1" />
<polyline points="605.2,520.3 604.8,532.7" fill="none" stroke="#2e3621" stroke-width="1.1" />
<polyline points="606.6,520.3 607.4,528.5" fill="none" stroke="#2e3621" stroke-width="1.1" />
<polyline points="602.6,526.5 605.6,528.1 609.1,526.3" fill="none" stroke="#2e3621" stroke-width="0.8" />
<ellipse cx="605.8" cy="520.4" rx="3.5" ry="1.7" fill="#2e3621"/>
<ellipse cx="605.8" cy="519.5" rx="3.5" ry="1.6" fill="#2e3621"/>
<polyline points="605.2,516.9 605.2,519.7" fill="none" stroke="#2e3621" stroke-width="1.4" />
<polygon points="602.2,515.6 608.2,518.6 608.2,514.0 607.2,512.9 603.2,509.9 602.2,511.0" fill="#2e3621" stroke="#2e3621" stroke-width="0.5" stroke-linejoin="round"/>
<polyline points="612.3,525.9 611.3,536.6" fill="none" stroke="#2e3621" stroke-width="1.1" />
<polyline points="617.5,525.9 618.7,536.1" fill="none" stroke="#2e3621" stroke-width="1.1" />
<polyline points="614.3,525.9 613.9,538.3" fill="none" stroke="#2e3621" stroke-width="1.1" />
<polyline points="615.7,525.9 616.5,534.1" fill="none" stroke="#2e3621" stroke-width="1.1" />
<polyline points="611.7,532.1 614.7,533.7 618.2,531.9" fill="none" stroke="#2e3621" stroke-width="0.8" />
<ellipse cx="614.9" cy="526.0" rx="3.5" ry="1.7" fill="#2e3621"/>
<ellipse cx="614.9" cy="525.1" rx="3.5" ry="1.6" fill="#2e3621"/>
<polyline points="614.3,522.5 614.3,525.3" fill="none" stroke="#2e3621" stroke-width="1.4" />
<polygon points="611.3,521.2 617.3,524.2 617.3,519.6 616.3,518.5 612.3,515.5 611.3,516.6" fill="#2e3621" stroke="#2e3621" stroke-width="0.5" stroke-linejoin="round"/>
<polyline points="621.4,531.6 620.4,542.3" fill="none" stroke="#2e3621" stroke-width="1.1" />
<polyline points="626.6,531.6 627.8,541.8" fill="none" stroke="#2e3621" stroke-width="1.1" />
<polyline points="623.4,531.6 623.0,544.0" fill="none" stroke="#2e3621" stroke-width="1.1" />
<polyline points="624.8,531.6 625.6,539.8" fill="none" stroke="#2e3621" stroke-width="1.1" />
<polyline points="620.8,537.8 623.8,539.4 627.3,537.6" fill="none" stroke="#2e3621" stroke-width="0.8" />
<ellipse cx="624.0" cy="531.7" rx="3.5" ry="1.7" fill="#2e3621"/>
<ellipse cx="624.0" cy="530.8" rx="3.5" ry="1.6" fill="#2e3621"/>
<polyline points="623.4,528.2 623.4,531.0" fill="none" stroke="#2e3621" stroke-width="1.4" />
<polygon points="620.4,526.9 626.4,529.9 626.4,525.3 625.4,524.2 621.4,521.2 620.4,522.3" fill="#2e3621" stroke="#2e3621" stroke-width="0.5" stroke-linejoin="round"/>
<polyline points="654.9,536.6 656.1,542.6" fill="none" stroke="#d4555b" stroke-width="1.6" />
<polygon points="643.6,541.5 645.8,542.7 644.4,549.2 642.4,548.4" fill="#ec666b" />
<polyline points="672.4,547.5 673.6,553.5" fill="none" stroke="#d4555b" stroke-width="1.6" />
<polygon points="661.1,552.3 663.3,553.5 661.9,560.0 659.9,559.2" fill="#ec666b" />
<polygon points="639.1,537.7 664.6,553.5 666.9,552.5 641.4,536.7" fill="#ec666b" />
<polygon points="641.4,536.7 666.9,552.5 669.1,551.6 643.6,535.8" fill="#f2e0ab" />
<polygon points="643.6,535.8 669.1,551.6 671.4,550.6 645.9,534.8" fill="#ec666b" />
<polygon points="645.9,534.8 671.4,550.6 673.6,549.6 648.1,533.8" fill="#f2e0ab" />
<polygon points="648.1,533.8 673.6,549.6 675.9,548.7 650.4,532.8" fill="#ec666b" />
<polygon points="639.1,537.7 664.6,553.5 664.6,555.5 639.1,539.7" fill="#d4555b" />
<polygon points="664.6,553.5 675.9,548.7 675.9,550.7 664.6,555.5" fill="#c94d54" />
<polyline points="682.3,553.4 683.5,559.4" fill="none" stroke="#d4555b" stroke-width="1.6" />
<polygon points="671.0,558.3 673.2,559.5 671.8,566.0 669.8,565.2" fill="#ec666b" />
<polyline points="699.8,564.3 701.0,570.3" fill="none" stroke="#d4555b" stroke-width="1.6" />
<polygon points="688.5,569.1 690.7,570.3 689.3,576.8 687.3,576.0" fill="#ec666b" />
<polygon points="666.5,554.5 692.0,570.3 694.3,569.3 668.8,553.5" fill="#ec666b" />
<polygon points="668.8,553.5 694.3,569.3 696.5,568.4 671.0,552.6" fill="#f2e0ab" />
<polygon points="671.0,552.6 696.5,568.4 698.8,567.4 673.3,551.6" fill="#ec666b" />
<polygon points="673.3,551.6 698.8,567.4 701.0,566.4 675.5,550.6" fill="#f2e0ab" />
<polygon points="675.5,550.6 701.0,566.4 703.3,565.5 677.8,549.6" fill="#ec666b" />
<polygon points="666.5,554.5 692.0,570.3 692.0,572.3 666.5,556.5" fill="#d4555b" />
<polygon points="692.0,570.3 703.3,565.5 703.3,567.5 692.0,572.3" fill="#c94d54" />
<polyline points="708.7,570.2 709.9,576.2" fill="none" stroke="#d4555b" stroke-width="1.6" />
<polygon points="697.4,575.1 699.6,576.3 698.2,582.8 696.2,582.0" fill="#ec666b" />
<polyline points="725.7,580.8 726.9,586.8" fill="none" stroke="#d4555b" stroke-width="1.6" />
<polygon points="714.4,585.6 716.6,586.8 715.2,593.3 713.2,592.5" fill="#ec666b" />
<polygon points="692.9,571.3 717.9,586.8 720.2,585.8 695.2,570.3" fill="#ec666b" />
<polygon points="695.2,570.3 720.2,585.8 722.4,584.9 697.4,569.4" fill="#f2e0ab" />
<polygon points="697.4,569.4 722.4,584.9 724.7,583.9 699.7,568.4" fill="#ec666b" />
<polygon points="699.7,568.4 724.7,583.9 726.9,582.9 701.9,567.4" fill="#f2e0ab" />
<polygon points="701.9,567.4 726.9,582.9 729.2,581.9 704.2,566.4" fill="#ec666b" />
<polygon points="692.9,571.3 717.9,586.8 717.9,588.8 692.9,573.3" fill="#d4555b" />
<polygon points="717.9,586.8 729.2,581.9 729.2,583.9 717.9,588.8" fill="#c94d54" />
<polygon points="653.3,555.9 699.5,584.5 699.5,594.0 653.3,564.7" fill="#2e3621" />
<polygon points="653.3,555.9 655.0,554.8 701.0,583.6 699.5,584.5" fill="#3b4429" />
<polygon points="699.5,585.2 707.6,590.4 707.6,597.0 699.5,594.0" fill="#eddc9f" />
<polygon points="699.5,585.2 701.0,583.8 709.0,589.0 707.6,590.4" fill="#2e3621" />
<polygon points="725.2,611.6 744.2,623.4 744.2,604.4 725.2,592.6" fill="#ec666b" stroke="#ec666b" stroke-width="0.5" stroke-linejoin="round"/>
<polygon points="744.2,623.4 767.0,613.6 767.0,594.6 744.2,604.4" fill="#ec666b" stroke="#ec666b" stroke-width="0.5" stroke-linejoin="round"/>
<polygon points="725.2,592.6 744.2,604.4 767.0,594.6 748.0,582.8" fill="#2e3621" stroke="#2e3621" stroke-width="0.5" stroke-linejoin="round"/>
<polyline points="744.2,604.4 767.0,594.6" fill="none" stroke="#e8d9a4" stroke-width="0.8" />
<polygon points="725.2,611.6 744.2,623.4 744.2,587.9 725.2,576.1" fill="#ec666b" />
<polygon points="725.2,611.6 744.2,623.4 744.2,605.9 725.2,594.1" fill="#2e3621" />
<polyline points="727.0,611.7 727.0,596.2" fill="none" stroke="#ec666b" stroke-width="1.0" />
<polyline points="729.5,613.3 729.5,597.8" fill="none" stroke="#ec666b" stroke-width="1.0" />
<polyline points="732.0,614.8 732.0,599.3" fill="none" stroke="#ec666b" stroke-width="1.0" />
<polyline points="734.5,616.4 734.5,600.9" fill="none" stroke="#ec666b" stroke-width="1.0" />
<polyline points="737.0,617.9 737.0,602.4" fill="none" stroke="#ec666b" stroke-width="1.0" />
<polyline points="739.5,619.5 739.5,604.0" fill="none" stroke="#ec666b" stroke-width="1.0" />
<polyline points="742.0,621.0 742.0,605.5" fill="none" stroke="#ec666b" stroke-width="1.0" />
<polyline points="725.2,611.6 725.2,576.1" fill="none" stroke="#2e3621" stroke-width="1.6" />
<polyline points="725.2,576.1 744.2,587.9" fill="none" stroke="#2e3621" stroke-width="1.0" />
<polyline points="742.0,574.0 751.0,587.0" fill="none" stroke="#ec666b" stroke-width="3.2" />
<polyline points="755.0,570.0 763.0,586.0" fill="none" stroke="#ec666b" stroke-width="3.2" />
<polyline points="751.0,587.0 757.0,571.0" fill="none" stroke="#ec666b" stroke-width="2.0" />
<polygon points="757.0,584.0 767.0,580.0 767.0,597.0 757.0,592.0" fill="#ec666b" />
<ellipse cx="757.7" cy="584.1" rx="1.2" ry="0.7" fill="#9fc563" transform="rotate(28 757.7 584.1)"/>
<ellipse cx="738.0" cy="584.5" rx="1.0" ry="0.8" fill="#9fc563" transform="rotate(169 738.0 584.5)"/>
<ellipse cx="759.6" cy="586.4" rx="1.4" ry="0.7" fill="#9fc563" transform="rotate(151 759.6 586.4)"/>
<ellipse cx="754.0" cy="583.5" rx="1.6" ry="0.6" fill="#9fc563" transform="rotate(52 754.0 583.5)"/>
<ellipse cx="747.0" cy="589.4" rx="1.6" ry="0.6" fill="#9fc563" transform="rotate(106 747.0 589.4)"/>
<ellipse cx="741.2" cy="581.4" rx="1.6" ry="0.8" fill="#8fb955" transform="rotate(34 741.2 581.4)"/>
<ellipse cx="756.4" cy="593.1" rx="1.6" ry="0.5" fill="#a9cc6e" transform="rotate(135 756.4 593.1)"/>
<ellipse cx="761.3" cy="578.5" rx="1.1" ry="0.7" fill="#a9cc6e" transform="rotate(94 761.3 578.5)"/>
<ellipse cx="756.7" cy="591.8" rx="1.1" ry="0.5" fill="#8fb955" transform="rotate(75 756.7 591.8)"/>
<ellipse cx="746.6" cy="589.7" rx="1.4" ry="0.8" fill="#9fc563" transform="rotate(24 746.6 589.7)"/>
<ellipse cx="754.3" cy="576.9" rx="1.0" ry="0.7" fill="#a9cc6e" transform="rotate(172 754.3 576.9)"/>
<ellipse cx="750.0" cy="587.0" rx="0.9" ry="0.7" fill="#8fb955" transform="rotate(178 750.0 587.0)"/>
<ellipse cx="765.4" cy="583.9" rx="1.1" ry="0.6" fill="#9fc563" transform="rotate(29 765.4 583.9)"/>
<ellipse cx="737.4" cy="589.5" rx="1.2" ry="0.7" fill="#a9cc6e" transform="rotate(30 737.4 589.5)"/>
<ellipse cx="750.2" cy="592.8" rx="1.3" ry="0.8" fill="#9fc563" transform="rotate(85 750.2 592.8)"/>
<ellipse cx="760.9" cy="594.2" rx="1.0" ry="0.5" fill="#a9cc6e" transform="rotate(131 760.9 594.2)"/>
<ellipse cx="750.2" cy="589.2" rx="1.3" ry="0.7" fill="#9fc563" transform="rotate(28 750.2 589.2)"/>
<ellipse cx="736.9" cy="587.8" rx="1.3" ry="0.6" fill="#9fc563" transform="rotate(65 736.9 587.8)"/>
<ellipse cx="737.0" cy="587.5" rx="1.2" ry="0.6" fill="#9fc563" transform="rotate(96 737.0 587.5)"/>
<ellipse cx="742.1" cy="581.5" rx="1.6" ry="0.5" fill="#a9cc6e" transform="rotate(157 742.1 581.5)"/>
<ellipse cx="764.7" cy="588.8" rx="1.0" ry="0.6" fill="#8fb955" transform="rotate(176 764.7 588.8)"/>
<ellipse cx="756.6" cy="590.3" rx="1.4" ry="0.7" fill="#a9cc6e" transform="rotate(102 756.6 590.3)"/>
<ellipse cx="753.1" cy="587.2" rx="1.3" ry="0.6" fill="#8fb955" transform="rotate(83 753.1 587.2)"/>
<ellipse cx="756.0" cy="586.2" rx="1.4" ry="0.7" fill="#8fb955" transform="rotate(176 756.0 586.2)"/>
<ellipse cx="741.2" cy="592.2" rx="0.9" ry="0.7" fill="#a9cc6e" transform="rotate(108 741.2 592.2)"/>
<ellipse cx="754.2" cy="588.0" rx="1.5" ry="0.6" fill="#a9cc6e" transform="rotate(78 754.2 588.0)"/>
<ellipse cx="743.9" cy="583.2" rx="1.4" ry="0.7" fill="#9fc563" transform="rotate(8 743.9 583.2)"/>
<ellipse cx="736.8" cy="588.7" rx="1.1" ry="0.7" fill="#8fb955" transform="rotate(179 736.8 588.7)"/>
<ellipse cx="744.9" cy="589.5" rx="1.5" ry="0.6" fill="#9fc563" transform="rotate(61 744.9 589.5)"/>
<ellipse cx="754.2" cy="589.0" rx="1.4" ry="0.6" fill="#9fc563" transform="rotate(16 754.2 589.0)"/>
<ellipse cx="767.7" cy="585.1" rx="1.4" ry="0.8" fill="#8fb955" transform="rotate(166 767.7 585.1)"/>
<ellipse cx="750.8" cy="587.0" rx="0.9" ry="0.6" fill="#8fb955" transform="rotate(121 750.8 587.0)"/>
<ellipse cx="760.3" cy="575.2" rx="1.1" ry="0.6" fill="#8fb955" transform="rotate(76 760.3 575.2)"/>
<ellipse cx="758.5" cy="580.6" rx="1.1" ry="0.8" fill="#9fc563" transform="rotate(61 758.5 580.6)"/>
<ellipse cx="739.7" cy="579.8" rx="1.3" ry="0.6" fill="#9fc563" transform="rotate(171 739.7 579.8)"/>
<ellipse cx="745.4" cy="582.0" rx="1.2" ry="0.7" fill="#8fb955" transform="rotate(172 745.4 582.0)"/>
<ellipse cx="735.8" cy="589.3" rx="1.1" ry="0.7" fill="#8fb955" transform="rotate(173 735.8 589.3)"/>
<ellipse cx="755.6" cy="593.3" rx="1.4" ry="0.5" fill="#a9cc6e" transform="rotate(62 755.6 593.3)"/>
<ellipse cx="760.0" cy="583.2" rx="1.5" ry="0.6" fill="#8fb955" transform="rotate(69 760.0 583.2)"/>
<ellipse cx="767.1" cy="585.8" rx="0.9" ry="0.6" fill="#8fb955" transform="rotate(109 767.1 585.8)"/>
<ellipse cx="754.4" cy="584.6" rx="1.1" ry="0.5" fill="#8fb955" transform="rotate(57 754.4 584.6)"/>
<ellipse cx="741.0" cy="583.8" rx="1.0" ry="0.5" fill="#8fb955" transform="rotate(112 741.0 583.8)"/>
<ellipse cx="750.0" cy="592.1" rx="1.4" ry="0.5" fill="#a9cc6e" transform="rotate(166 750.0 592.1)"/>
<ellipse cx="748.3" cy="587.0" rx="1.0" ry="0.8" fill="#9fc563" transform="rotate(145 748.3 587.0)"/>
<ellipse cx="739.7" cy="592.4" rx="1.3" ry="0.6" fill="#9fc563" transform="rotate(14 739.7 592.4)"/>
<ellipse cx="745.7" cy="574.8" rx="0.9" ry="0.7" fill="#8fb955" transform="rotate(102 745.7 574.8)"/>
<ellipse cx="763.0" cy="593.7" rx="1.5" ry="0.8" fill="#a9cc6e" transform="rotate(81 763.0 593.7)"/>
<ellipse cx="740.6" cy="589.3" rx="1.4" ry="0.6" fill="#9fc563" transform="rotate(149 740.6 589.3)"/>
<ellipse cx="747.0" cy="592.3" rx="1.0" ry="0.7" fill="#8fb955" transform="rotate(58 747.0 592.3)"/>
<ellipse cx="750.5" cy="588.8" rx="1.5" ry="0.7" fill="#8fb955" transform="rotate(153 750.5 588.8)"/>
<ellipse cx="739.1" cy="589.5" rx="1.1" ry="0.6" fill="#9fc563" transform="rotate(66 739.1 589.5)"/>
<ellipse cx="758.4" cy="574.1" rx="1.0" ry="0.8" fill="#a9cc6e" transform="rotate(79 758.4 574.1)"/>
<ellipse cx="750.5" cy="592.2" rx="1.2" ry="0.5" fill="#9fc563" transform="rotate(85 750.5 592.2)"/>
<ellipse cx="755.9" cy="575.5" rx="1.2" ry="0.6" fill="#a9cc6e" transform="rotate(111 755.9 575.5)"/>
<ellipse cx="747.8" cy="583.7" rx="1.3" ry="0.6" fill="#8fb955" transform="rotate(140 747.8 583.7)"/>
<ellipse cx="761.0" cy="587.2" rx="1.4" ry="0.8" fill="#a9cc6e" transform="rotate(58 761.0 587.2)"/>
<ellipse cx="739.6" cy="583.3" rx="1.4" ry="0.6" fill="#a9cc6e" transform="rotate(77 739.6 583.3)"/>
<ellipse cx="755.0" cy="574.7" rx="1.3" ry="0.8" fill="#a9cc6e" transform="rotate(66 755.0 574.7)"/>
<ellipse cx="751.9" cy="573.2" rx="1.0" ry="0.7" fill="#9fc563" transform="rotate(121 751.9 573.2)"/>
<ellipse cx="766.0" cy="584.2" rx="1.4" ry="0.7" fill="#8fb955" transform="rotate(116 766.0 584.2)"/>
<path d="M743 575 q4 6 2 12 q6 4 4 12 M757 572 q-5 8 -8 14 q-2 6 -6 8 M762 580 q4 6 6 10" fill="none" stroke="#8fb955" stroke-width="1.1"/>
<polygon points="841.2,539.6 858.0,550.0 858.0,540.0 841.2,529.6" fill="#ffffff" stroke="#ffffff" stroke-width="0.5" stroke-linejoin="round"/>
<polygon points="858.0,550.0 867.0,546.1 867.0,536.1 858.0,540.0" fill="#e6e4e2" stroke="#e6e4e2" stroke-width="0.5" stroke-linejoin="round"/>
<polygon points="841.2,529.6 858.0,540.0 867.0,536.1 850.2,525.7" fill="#8f8a5e" stroke="#8f8a5e" stroke-width="0.5" stroke-linejoin="round"/>
<polyline points="843.6,539.9 843.6,533.5" fill="none" stroke="#d2d2d2" stroke-width="0.7" />
<polyline points="846.0,541.4 846.0,535.0" fill="none" stroke="#d2d2d2" stroke-width="0.7" />
<polyline points="848.4,542.8 848.4,536.4" fill="none" stroke="#d2d2d2" stroke-width="0.7" />
<polyline points="850.8,544.3 850.8,537.9" fill="none" stroke="#d2d2d2" stroke-width="0.7" />
<polyline points="853.2,545.8 853.2,539.4" fill="none" stroke="#d2d2d2" stroke-width="0.7" />
<polyline points="855.6,547.3 855.6,540.9" fill="none" stroke="#d2d2d2" stroke-width="0.7" />
<polygon points="842.5,529.9 851.7,535.6 854.9,534.3 845.7,528.6" fill="#e4d8a5" fill-opacity="0.85"/>
<polygon points="849.2,527.9 860.1,534.7 862.1,533.8 851.2,527.1" fill="#d9cd9b" fill-opacity="0.8"/>
<polygon points="849.9,531.2 860.7,537.9 863.2,536.8 852.4,530.1" fill="#4d4f32" fill-opacity="0.75"/>
<polyline points="841.2,529.6 858.0,540.0 867.0,536.1" fill="none" stroke="#ffffff" stroke-width="0.8" />
<path d="M830.6 559.4 L857 550.6 Q866.5 547 867.6 535.3 L889.2 546.9 L889.2 555 Q889.2 561 884 563.2 L855.6 575 Z" fill="#8aab50" stroke="#ffffff" stroke-width="1.8" stroke-linejoin="round"/>
<polygon points="843.9,566.4 871.2,556.6 882.2,562.2 855.6,574.4" fill="#fafaf8" />
<polygon points="845.5,567.0 850.0,565.3 861.0,571.8 856.2,573.8" fill="#ec666b" />
<polygon points="855.5,563.3 859.5,561.8 870.5,567.9 866.5,569.7" fill="#8aab50" />
<polygon points="864.5,560.0 868.5,558.6 879.0,564.0 875.2,565.7" fill="#8aab50" />
<polygon points="834.5,587.6 878.5,569.5 884.5,572.3 839.5,592.0" fill="#2e3621" />
<polyline points="837.0,590.5 837.0,597.0" fill="none" stroke="#2e3621" stroke-width="1.3" />
<polyline points="849.3,597.4 849.3,610.4" fill="none" stroke="#ec666b" stroke-width="1.1" />
<polyline points="842.8,592.8 842.8,605.3" fill="none" stroke="#ec666b" stroke-width="0.9" />
<polyline points="856.0,594.5 856.0,607.5" fill="none" stroke="#ec666b" stroke-width="1.1" />
<polyline points="849.5,589.9 849.5,602.4" fill="none" stroke="#ec666b" stroke-width="0.9" />
<polyline points="862.8,591.6 862.8,604.6" fill="none" stroke="#ec666b" stroke-width="1.1" />
<polyline points="856.3,587.0 856.3,599.5" fill="none" stroke="#ec666b" stroke-width="0.9" />
<polyline points="869.5,588.7 869.5,601.7" fill="none" stroke="#ec666b" stroke-width="1.1" />
<polyline points="863.0,584.1 863.0,596.6" fill="none" stroke="#ec666b" stroke-width="0.9" />
<polyline points="876.3,585.8 876.3,598.8" fill="none" stroke="#ec666b" stroke-width="1.1" />
<polyline points="869.8,581.2 869.8,593.7" fill="none" stroke="#ec666b" stroke-width="0.9" />
<polyline points="883.0,582.9 883.0,595.9" fill="none" stroke="#ec666b" stroke-width="1.1" />
<polyline points="876.5,578.3 876.5,590.8" fill="none" stroke="#ec666b" stroke-width="0.9" />
<polyline points="889.8,580.0 889.8,593.0" fill="none" stroke="#ec666b" stroke-width="1.1" />
<polyline points="883.3,575.4 883.3,587.9" fill="none" stroke="#ec666b" stroke-width="0.9" />
<polyline points="896.5,577.1 896.5,590.1" fill="none" stroke="#ec666b" stroke-width="1.1" />
<polyline points="890.0,572.5 890.0,585.0" fill="none" stroke="#ec666b" stroke-width="0.9" />
<polyline points="903.3,574.2 903.3,587.2" fill="none" stroke="#ec666b" stroke-width="1.1" />
<polyline points="896.8,569.6 896.8,582.1" fill="none" stroke="#ec666b" stroke-width="0.9" />
<polygon points="840.8,593.7 847.8,598.0 904.8,573.5 904.8,574.9 847.8,599.4 840.8,595.1" fill="#ec666b" />
<polygon points="840.8,593.7 847.8,598.0 904.8,573.5 897.8,569.2" fill="#f2e0ab" />
<polygon points="839.2,622.5 924.0,585.0 924.0,530.5 839.2,568.0" fill="#ffffff" fill-opacity="0.2"/>
<polygon points="785.5,650.0 841.6,623.5 841.6,618.4 785.5,644.6" fill="#b7d46d" />
<text transform="matrix(1,-0.47,0.5,0.6,784.5,649.6)" font-family="Liberation Sans, sans-serif" font-weight="bold" font-size="7.6" fill="#ffffff" fill-opacity="0.9" textLength="56" lengthAdjust="spacing">ENTRANCE</text>
<path d="M715.9 254.3 A23 23 0 1 1 761.3 254.3 L739 387.2 Z" fill="#ec666b"/>
<polygon points="730.5,246 738.5,238.2 742.3,238.2 742.3,264.8 735.4,264.8 735.4,246.5 730.5,249.5" fill="#fff"/>
<polygon points="815.1,644 852,654.6 832.8,658.2 829.6,672.8" fill="#ec666b"/>
<polygon points="836.4,660.8 855.1,658.5 841,665.5 833.3,676.9" fill="#ec666b"/>
<rect x="80.75" y="514.25" width="33.5" height="33.25" fill="#2e3621"/>
<rect x="114" y="514.25" width="20.2" height="33.25" fill="#f2e0ab"/>
<rect x="134" y="514.25" width="9.3" height="33.25" fill="#ec666b"/>
<text x="148" y="534.8" font-family="Liberation Sans, sans-serif" font-weight="bold" font-size="11.5" fill="#fff" textLength="86.5" lengthAdjust="spacingAndGlyphs">HYGGE, TABLES</text>
<rect x="80.75" y="560" width="33.5" height="33" fill="#8aa84f"/>
<rect x="114" y="560" width="20.2" height="33" fill="#dcd9d9"/>
<rect x="134" y="560" width="9.3" height="33" fill="#ffffff"/>
<text x="148" y="580.4" font-family="Liberation Sans, sans-serif" font-weight="bold" font-size="11.5" fill="#fff" textLength="95.5" lengthAdjust="spacingAndGlyphs">MINIGOLF LANES</text>
<rect x="80.75" y="605.5" width="33.5" height="33.25" fill="#263f6b"/>
<rect x="114" y="605.5" width="20.2" height="33.25" fill="#dcd9d9"/>
<rect x="134" y="605.5" width="8.5" height="33.25" fill="#ffffff"/>
<text x="148" y="626.0" font-family="Liberation Sans, sans-serif" font-weight="bold" font-size="11.5" fill="#fff" textLength="124.5" lengthAdjust="spacingAndGlyphs">BAR, LOCKERS, TOILET</text>
</svg>
</body></html>
